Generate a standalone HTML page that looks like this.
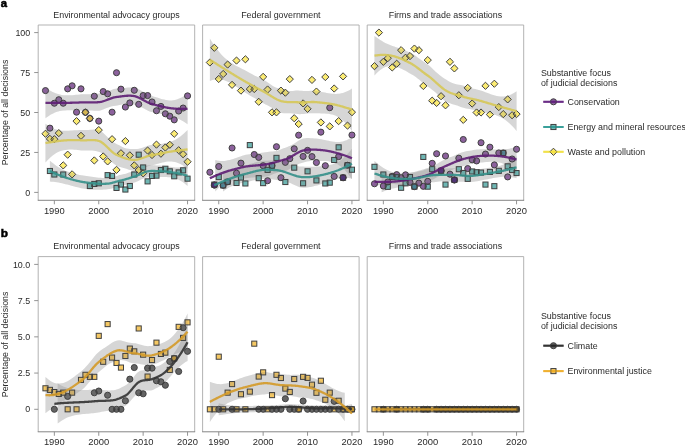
<!DOCTYPE html><html><head><meta charset="utf-8"><style>html,body{margin:0;padding:0;background:#fff;}svg{display:block;will-change:transform;}</style></head><body><svg width="685" height="446" viewBox="0 0 685 446" font-family='"Liberation Sans", sans-serif'>
<rect width="685" height="446" fill="#fff"/>
<defs>
<clipPath id="c025"><rect x="38.2" y="25.0" width="156.5" height="175.3"/></clipPath>
<clipPath id="c0256"><rect x="38.2" y="256.6" width="156.5" height="175.2"/></clipPath>
<clipPath id="c125"><rect x="202.6" y="25.0" width="156.5" height="175.3"/></clipPath>
<clipPath id="c1256"><rect x="202.6" y="256.6" width="156.5" height="175.2"/></clipPath>
<clipPath id="c225"><rect x="367.2" y="25.0" width="156.5" height="175.3"/></clipPath>
<clipPath id="c2256"><rect x="367.2" y="256.6" width="156.5" height="175.2"/></clipPath>
</defs>
<text x="0.8" y="7.2" font-size="11.3" font-weight="bold" fill="#000" stroke="#000" stroke-width="0.55">a</text>
<text x="0.8" y="237.3" font-size="11.8" font-weight="bold" fill="#000" stroke="#000" stroke-width="0.55">b</text>
<text x="116.45" y="17.70" text-anchor="middle" font-size="8.9" fill="#2a2a2a">Environmental advocacy groups</text>
<polygon points="45.47,87.52 47.27,88.80 49.07,89.96 50.87,91.01 52.66,91.95 54.46,92.79 56.26,93.51 58.06,94.11 59.86,94.59 61.66,94.95 63.45,95.18 65.25,95.30 67.05,95.35 68.85,95.33 70.65,95.27 72.45,95.16 74.25,95.02 76.04,94.86 77.84,94.68 79.64,94.50 81.44,94.31 83.24,94.20 85.04,94.18 86.84,94.20 88.63,94.21 90.43,94.20 92.23,94.14 94.03,94.04 95.83,93.90 97.63,93.74 99.42,93.58 101.22,93.35 103.02,93.02 104.82,92.56 106.62,91.98 108.42,91.29 110.22,90.54 112.01,89.78 113.81,89.11 115.61,88.63 117.41,88.40 119.21,88.26 121.01,88.16 122.80,88.05 124.60,87.91 126.40,87.73 128.20,87.54 130.00,87.39 131.80,87.34 133.60,87.47 135.39,87.86 137.19,88.54 138.99,89.42 140.79,90.43 142.59,91.48 144.39,92.53 146.18,93.51 147.98,94.41 149.78,95.19 151.58,95.84 153.38,96.40 155.18,96.96 156.98,97.54 158.77,98.11 160.57,98.66 162.37,99.16 164.17,99.61 165.97,99.98 167.77,100.25 169.57,100.39 171.36,100.38 173.16,100.23 174.96,99.93 176.76,99.47 178.56,98.84 180.36,98.07 182.15,97.14 183.95,96.07 185.75,94.87 187.55,93.54 187.55,124.21 185.75,122.99 183.95,121.84 182.15,120.77 180.36,119.78 178.56,118.88 176.76,118.08 174.96,117.37 173.16,116.75 171.36,116.21 169.57,115.75 167.77,115.33 165.97,114.93 164.17,114.55 162.37,114.17 160.57,113.80 158.77,113.43 156.98,113.06 155.18,112.69 153.38,112.33 151.58,111.97 149.78,111.41 147.98,110.64 146.18,109.73 144.39,108.76 142.59,107.80 140.79,106.90 138.99,106.10 137.19,105.43 135.39,104.90 133.60,104.52 131.80,104.21 130.00,103.98 128.20,103.85 126.40,103.87 124.60,104.04 122.80,104.33 121.01,104.71 119.21,105.10 117.41,105.43 115.61,105.66 113.81,105.95 112.01,106.33 110.22,106.82 108.42,107.42 106.62,108.12 104.82,108.87 103.02,109.60 101.22,110.22 99.42,110.63 97.63,110.78 95.83,110.78 94.03,110.71 92.23,110.61 90.43,110.51 88.63,110.44 86.84,110.41 85.04,110.41 83.24,110.42 81.44,110.44 79.64,110.43 77.84,110.41 76.04,110.38 74.25,110.34 72.45,110.30 70.65,110.27 68.85,110.27 67.05,110.30 65.25,110.39 63.45,110.54 61.66,110.78 59.86,111.11 58.06,111.56 56.26,112.12 54.46,112.81 52.66,113.64 50.87,114.60 49.07,115.70 47.27,116.90 45.47,118.19" fill="#999" fill-opacity="0.25" clip-path="url(#c025)"/>
<polygon points="49.91,160.69 51.65,162.20 53.39,163.60 55.14,164.91 56.88,166.13 58.62,167.25 60.36,168.29 62.11,169.23 63.85,170.10 65.59,170.88 67.33,171.58 69.08,172.22 70.82,172.79 72.56,173.31 74.30,173.78 76.04,174.21 77.79,174.59 79.53,174.94 81.27,175.26 83.01,175.55 84.76,175.81 86.50,176.05 88.24,176.27 89.98,176.47 91.72,176.68 93.47,176.91 95.21,177.16 96.95,177.41 98.69,177.63 100.44,177.81 102.18,177.94 103.92,178.02 105.66,178.02 107.41,177.96 109.15,177.81 110.89,177.56 112.63,177.20 114.37,176.74 116.12,176.20 117.86,175.64 119.60,175.11 121.34,174.69 123.09,174.31 124.83,173.90 126.57,173.41 128.31,172.82 130.05,172.14 131.80,171.44 133.54,170.80 135.28,170.26 137.02,169.69 138.77,169.06 140.51,168.33 142.25,167.52 143.99,166.70 145.74,165.96 147.48,165.45 149.22,165.22 150.96,165.18 152.70,165.23 154.45,165.32 156.19,165.40 157.93,165.48 159.67,165.55 161.42,165.65 163.16,165.81 164.90,166.03 166.64,166.29 168.38,166.57 170.13,166.86 171.87,167.12 173.61,167.34 175.35,167.47 177.10,167.51 178.84,167.43 180.58,167.23 182.32,166.92 184.07,166.48 185.81,165.95 187.55,165.32 187.55,186.10 185.81,184.50 184.07,183.05 182.32,181.77 180.58,180.66 178.84,179.72 177.10,178.96 175.35,178.37 173.61,177.93 171.87,177.60 170.13,177.35 168.38,177.16 166.64,177.03 164.90,176.95 163.16,176.92 161.42,176.94 159.67,176.95 157.93,176.87 156.19,176.75 154.45,176.68 152.70,176.70 150.96,176.83 149.22,177.06 147.48,177.37 145.74,177.76 143.99,178.28 142.25,178.94 140.51,179.76 138.77,180.67 137.02,181.58 135.28,182.34 133.54,182.86 131.80,183.26 130.05,183.65 128.31,184.08 126.57,184.58 124.83,185.12 123.09,185.65 121.34,186.09 119.60,186.44 117.86,186.83 116.12,187.27 114.37,187.75 112.63,188.24 110.89,188.72 109.15,189.11 107.41,189.34 105.66,189.48 103.92,189.59 102.18,189.66 100.44,189.72 98.69,189.76 96.95,189.77 95.21,189.76 93.47,189.71 91.72,189.62 89.98,189.48 88.24,189.29 86.50,189.06 84.76,188.79 83.01,188.48 81.27,188.13 79.53,187.76 77.79,187.35 76.04,186.92 74.30,186.47 72.56,186.01 70.82,185.54 69.08,185.07 67.33,184.61 65.59,184.16 63.85,183.73 62.11,183.32 60.36,182.95 58.62,182.61 56.88,182.32 55.14,182.06 53.39,181.85 51.65,181.68 49.91,181.55" fill="#999" fill-opacity="0.25" clip-path="url(#c025)"/>
<polygon points="45.47,123.72 47.27,125.01 49.07,126.21 50.87,127.28 52.66,128.22 54.46,128.99 56.26,129.61 58.06,130.09 59.86,130.44 61.66,130.67 63.45,130.80 65.25,130.83 67.05,130.80 68.85,130.71 70.65,130.60 72.45,130.47 74.25,130.35 76.04,130.25 77.84,130.16 79.64,130.12 81.44,130.11 83.24,130.11 85.04,130.07 86.84,130.01 88.63,129.91 90.43,129.79 92.23,129.68 94.03,129.61 95.83,129.65 97.63,129.87 99.42,130.37 101.22,131.39 103.02,132.82 104.82,134.52 106.62,136.32 108.42,138.10 110.22,139.77 112.01,141.26 113.81,142.55 115.61,143.60 117.41,144.45 119.21,145.36 121.01,146.29 122.80,147.16 124.60,147.89 126.40,148.45 128.20,148.81 130.00,149.01 131.80,149.09 133.60,149.10 135.39,149.07 137.19,148.92 138.99,148.64 140.79,148.24 142.59,147.71 144.39,147.10 146.18,146.45 147.98,145.82 149.78,145.30 151.58,144.97 153.38,144.80 155.18,144.63 156.98,144.42 158.77,144.19 160.57,143.94 162.37,143.65 164.17,143.33 165.97,142.97 167.77,142.55 169.57,142.06 171.36,141.48 173.16,140.78 174.96,139.94 176.76,138.95 178.56,137.82 180.36,136.54 182.15,135.12 183.95,133.56 185.75,131.87 187.55,130.06 187.55,168.79 185.75,167.38 183.95,166.09 182.15,164.95 180.36,163.96 178.56,163.13 176.76,162.46 174.96,161.96 173.16,161.64 171.36,161.47 169.57,161.46 167.77,161.60 165.97,161.85 164.17,162.19 162.37,162.61 160.57,163.06 158.77,163.54 156.98,164.02 155.18,164.49 153.38,164.93 151.58,165.33 149.78,165.79 147.98,166.32 146.18,166.92 144.39,167.60 142.59,168.31 140.79,169.03 138.99,169.70 137.19,170.25 135.39,170.59 133.60,170.63 131.80,170.39 130.00,169.96 128.20,169.41 126.40,168.83 124.60,168.26 122.80,167.72 121.01,167.19 119.21,166.63 117.41,165.97 115.61,165.12 113.81,163.81 112.01,162.16 110.22,160.33 108.42,158.47 106.62,156.70 104.82,155.12 103.02,153.77 101.22,152.69 99.42,151.91 97.63,151.38 95.83,150.97 94.03,150.66 92.23,150.47 90.43,150.39 88.63,150.41 86.84,150.49 85.04,150.57 83.24,150.59 81.44,150.48 79.64,150.25 77.84,150.03 76.04,149.84 74.25,149.70 72.45,149.60 70.65,149.55 68.85,149.58 67.05,149.68 65.25,149.88 63.45,150.20 61.66,150.67 59.86,151.30 58.06,152.12 56.26,153.11 54.46,154.28 52.66,155.60 50.87,157.07 49.07,158.71 47.27,160.50 45.47,162.46" fill="#999" fill-opacity="0.25" clip-path="url(#c025)"/>
<circle cx="45.47" cy="90.61" r="3.05" fill="#4e0c68" fill-opacity="0.65"/>
<circle cx="49.91" cy="128.16" r="3.05" fill="#4e0c68" fill-opacity="0.65"/>
<circle cx="54.35" cy="103.23" r="3.05" fill="#4e0c68" fill-opacity="0.65"/>
<circle cx="58.79" cy="99.72" r="3.05" fill="#4e0c68" fill-opacity="0.65"/>
<circle cx="63.23" cy="103.23" r="3.05" fill="#4e0c68" fill-opacity="0.65"/>
<circle cx="67.67" cy="88.85" r="3.05" fill="#4e0c68" fill-opacity="0.65"/>
<circle cx="72.11" cy="85.81" r="3.05" fill="#4e0c68" fill-opacity="0.65"/>
<circle cx="76.55" cy="112.18" r="3.05" fill="#4e0c68" fill-opacity="0.65"/>
<circle cx="80.99" cy="88.85" r="3.05" fill="#4e0c68" fill-opacity="0.65"/>
<circle cx="85.43" cy="112.34" r="3.05" fill="#4e0c68" fill-opacity="0.65"/>
<circle cx="89.87" cy="118.41" r="3.05" fill="#4e0c68" fill-opacity="0.65"/>
<circle cx="94.31" cy="96.20" r="3.05" fill="#4e0c68" fill-opacity="0.65"/>
<circle cx="98.75" cy="121.13" r="3.05" fill="#4e0c68" fill-opacity="0.65"/>
<circle cx="103.19" cy="91.57" r="3.05" fill="#4e0c68" fill-opacity="0.65"/>
<circle cx="107.63" cy="93.80" r="3.05" fill="#4e0c68" fill-opacity="0.65"/>
<circle cx="112.07" cy="112.18" r="3.05" fill="#4e0c68" fill-opacity="0.65"/>
<circle cx="116.51" cy="72.71" r="3.05" fill="#4e0c68" fill-opacity="0.65"/>
<circle cx="120.95" cy="89.17" r="3.05" fill="#4e0c68" fill-opacity="0.65"/>
<circle cx="125.39" cy="107.07" r="3.05" fill="#4e0c68" fill-opacity="0.65"/>
<circle cx="129.83" cy="102.91" r="3.05" fill="#4e0c68" fill-opacity="0.65"/>
<circle cx="134.27" cy="90.29" r="3.05" fill="#4e0c68" fill-opacity="0.65"/>
<circle cx="138.71" cy="104.35" r="3.05" fill="#4e0c68" fill-opacity="0.65"/>
<circle cx="143.15" cy="95.56" r="3.05" fill="#4e0c68" fill-opacity="0.65"/>
<circle cx="147.59" cy="95.56" r="3.05" fill="#4e0c68" fill-opacity="0.65"/>
<circle cx="152.03" cy="101.95" r="3.05" fill="#4e0c68" fill-opacity="0.65"/>
<circle cx="156.47" cy="110.74" r="3.05" fill="#4e0c68" fill-opacity="0.65"/>
<circle cx="160.91" cy="106.43" r="3.05" fill="#4e0c68" fill-opacity="0.65"/>
<circle cx="165.35" cy="113.78" r="3.05" fill="#4e0c68" fill-opacity="0.65"/>
<circle cx="169.79" cy="116.18" r="3.05" fill="#4e0c68" fill-opacity="0.65"/>
<circle cx="174.23" cy="119.85" r="3.05" fill="#4e0c68" fill-opacity="0.65"/>
<circle cx="178.67" cy="111.06" r="3.05" fill="#4e0c68" fill-opacity="0.65"/>
<circle cx="183.11" cy="108.03" r="3.05" fill="#4e0c68" fill-opacity="0.65"/>
<circle cx="187.55" cy="95.88" r="3.05" fill="#4e0c68" fill-opacity="0.65"/>
<rect x="47.36" y="168.44" width="5.10" height="5.10" fill="#21908c" fill-opacity="0.65"/>
<rect x="51.80" y="171.95" width="5.10" height="5.10" fill="#21908c" fill-opacity="0.65"/>
<rect x="60.68" y="171.95" width="5.10" height="5.10" fill="#21908c" fill-opacity="0.65"/>
<rect x="87.32" y="183.46" width="5.10" height="5.10" fill="#21908c" fill-opacity="0.65"/>
<rect x="91.76" y="181.38" width="5.10" height="5.10" fill="#21908c" fill-opacity="0.65"/>
<rect x="96.20" y="180.74" width="5.10" height="5.10" fill="#21908c" fill-opacity="0.65"/>
<rect x="105.08" y="172.59" width="5.10" height="5.10" fill="#21908c" fill-opacity="0.65"/>
<rect x="109.52" y="173.39" width="5.10" height="5.10" fill="#21908c" fill-opacity="0.65"/>
<rect x="113.96" y="185.38" width="5.10" height="5.10" fill="#21908c" fill-opacity="0.65"/>
<rect x="118.40" y="182.02" width="5.10" height="5.10" fill="#21908c" fill-opacity="0.65"/>
<rect x="122.84" y="186.97" width="5.10" height="5.10" fill="#21908c" fill-opacity="0.65"/>
<rect x="127.28" y="183.46" width="5.10" height="5.10" fill="#21908c" fill-opacity="0.65"/>
<rect x="131.72" y="171.95" width="5.10" height="5.10" fill="#21908c" fill-opacity="0.65"/>
<rect x="136.16" y="152.14" width="5.10" height="5.10" fill="#21908c" fill-opacity="0.65"/>
<rect x="140.60" y="164.92" width="5.10" height="5.10" fill="#21908c" fill-opacity="0.65"/>
<rect x="145.04" y="178.82" width="5.10" height="5.10" fill="#21908c" fill-opacity="0.65"/>
<rect x="149.48" y="173.39" width="5.10" height="5.10" fill="#21908c" fill-opacity="0.65"/>
<rect x="153.92" y="173.07" width="5.10" height="5.10" fill="#21908c" fill-opacity="0.65"/>
<rect x="158.36" y="167.48" width="5.10" height="5.10" fill="#21908c" fill-opacity="0.65"/>
<rect x="162.80" y="166.20" width="5.10" height="5.10" fill="#21908c" fill-opacity="0.65"/>
<rect x="167.24" y="168.76" width="5.10" height="5.10" fill="#21908c" fill-opacity="0.65"/>
<rect x="171.68" y="173.71" width="5.10" height="5.10" fill="#21908c" fill-opacity="0.65"/>
<rect x="176.12" y="169.88" width="5.10" height="5.10" fill="#21908c" fill-opacity="0.65"/>
<rect x="180.56" y="167.80" width="5.10" height="5.10" fill="#21908c" fill-opacity="0.65"/>
<rect x="185.00" y="176.11" width="5.10" height="5.10" fill="#21908c" fill-opacity="0.65"/>
<path d="M45.47 130.15L49.07 133.75L45.47 137.35L41.87 133.75Z" fill="#fae228" fill-opacity="0.65"/>
<path d="M49.91 135.27L53.51 138.87L49.91 142.47L46.31 138.87Z" fill="#fae228" fill-opacity="0.65"/>
<path d="M54.35 135.59L57.95 139.19L54.35 142.79L50.75 139.19Z" fill="#fae228" fill-opacity="0.65"/>
<path d="M58.79 129.51L62.39 133.11L58.79 136.71L55.19 133.11Z" fill="#fae228" fill-opacity="0.65"/>
<path d="M63.23 161.79L66.83 165.39L63.23 168.99L59.63 165.39Z" fill="#fae228" fill-opacity="0.65"/>
<path d="M67.67 151.09L71.27 154.69L67.67 158.29L64.07 154.69Z" fill="#fae228" fill-opacity="0.65"/>
<path d="M72.11 170.74L75.71 174.34L72.11 177.94L68.51 174.34Z" fill="#fae228" fill-opacity="0.65"/>
<path d="M76.55 117.53L80.15 121.13L76.55 124.73L72.95 121.13Z" fill="#fae228" fill-opacity="0.65"/>
<path d="M80.99 132.23L84.59 135.83L80.99 139.43L77.39 135.83Z" fill="#fae228" fill-opacity="0.65"/>
<path d="M85.43 108.74L89.03 112.34L85.43 115.94L81.83 112.34Z" fill="#fae228" fill-opacity="0.65"/>
<path d="M89.87 114.81L93.47 118.41L89.87 122.01L86.27 118.41Z" fill="#fae228" fill-opacity="0.65"/>
<path d="M94.31 156.84L97.91 160.44L94.31 164.04L90.71 160.44Z" fill="#fae228" fill-opacity="0.65"/>
<path d="M98.75 126.48L102.35 130.08L98.75 133.68L95.15 130.08Z" fill="#fae228" fill-opacity="0.65"/>
<path d="M103.19 152.84L106.79 156.44L103.19 160.04L99.59 156.44Z" fill="#fae228" fill-opacity="0.65"/>
<path d="M107.63 157.80L111.23 161.40L107.63 165.00L104.03 161.40Z" fill="#fae228" fill-opacity="0.65"/>
<path d="M112.07 135.59L115.67 139.19L112.07 142.79L108.47 139.19Z" fill="#fae228" fill-opacity="0.65"/>
<path d="M116.51 166.27L120.11 169.87L116.51 173.47L112.91 169.87Z" fill="#fae228" fill-opacity="0.65"/>
<path d="M120.95 149.65L124.55 153.25L120.95 156.85L117.35 153.25Z" fill="#fae228" fill-opacity="0.65"/>
<path d="M125.39 137.50L128.99 141.10L125.39 144.70L121.79 141.10Z" fill="#fae228" fill-opacity="0.65"/>
<path d="M129.83 151.73L133.43 155.33L129.83 158.93L126.23 155.33Z" fill="#fae228" fill-opacity="0.65"/>
<path d="M134.27 161.79L137.87 165.39L134.27 168.99L130.67 165.39Z" fill="#fae228" fill-opacity="0.65"/>
<path d="M138.71 166.43L142.31 170.03L138.71 173.63L135.11 170.03Z" fill="#fae228" fill-opacity="0.65"/>
<path d="M143.15 169.78L146.75 173.38L143.15 176.98L139.55 173.38Z" fill="#fae228" fill-opacity="0.65"/>
<path d="M147.59 146.93L151.19 150.53L147.59 154.13L143.99 150.53Z" fill="#fae228" fill-opacity="0.65"/>
<path d="M152.03 151.41L155.63 155.01L152.03 158.61L148.43 155.01Z" fill="#fae228" fill-opacity="0.65"/>
<path d="M156.47 141.02L160.07 144.62L156.47 148.22L152.87 144.62Z" fill="#fae228" fill-opacity="0.65"/>
<path d="M160.91 150.13L164.51 153.73L160.91 157.33L157.31 153.73Z" fill="#fae228" fill-opacity="0.65"/>
<path d="M165.35 143.90L168.95 147.50L165.35 151.10L161.75 147.50Z" fill="#fae228" fill-opacity="0.65"/>
<path d="M169.79 141.18L173.39 144.78L169.79 148.38L166.19 144.78Z" fill="#fae228" fill-opacity="0.65"/>
<path d="M174.23 130.15L177.83 133.75L174.23 137.35L170.63 133.75Z" fill="#fae228" fill-opacity="0.65"/>
<path d="M178.67 146.61L182.27 150.21L178.67 153.81L175.07 150.21Z" fill="#fae228" fill-opacity="0.65"/>
<path d="M183.11 150.61L186.71 154.21L183.11 157.81L179.51 154.21Z" fill="#fae228" fill-opacity="0.65"/>
<path d="M187.55 158.12L191.15 161.72L187.55 165.32L183.95 161.72Z" fill="#fae228" fill-opacity="0.65"/>
<polygon points="45.47,87.52 47.27,88.80 49.07,89.96 50.87,91.01 52.66,91.95 54.46,92.79 56.26,93.51 58.06,94.11 59.86,94.59 61.66,94.95 63.45,95.18 65.25,95.30 67.05,95.35 68.85,95.33 70.65,95.27 72.45,95.16 74.25,95.02 76.04,94.86 77.84,94.68 79.64,94.50 81.44,94.31 83.24,94.20 85.04,94.18 86.84,94.20 88.63,94.21 90.43,94.20 92.23,94.14 94.03,94.04 95.83,93.90 97.63,93.74 99.42,93.58 101.22,93.35 103.02,93.02 104.82,92.56 106.62,91.98 108.42,91.29 110.22,90.54 112.01,89.78 113.81,89.11 115.61,88.63 117.41,88.40 119.21,88.26 121.01,88.16 122.80,88.05 124.60,87.91 126.40,87.73 128.20,87.54 130.00,87.39 131.80,87.34 133.60,87.47 135.39,87.86 137.19,88.54 138.99,89.42 140.79,90.43 142.59,91.48 144.39,92.53 146.18,93.51 147.98,94.41 149.78,95.19 151.58,95.84 153.38,96.40 155.18,96.96 156.98,97.54 158.77,98.11 160.57,98.66 162.37,99.16 164.17,99.61 165.97,99.98 167.77,100.25 169.57,100.39 171.36,100.38 173.16,100.23 174.96,99.93 176.76,99.47 178.56,98.84 180.36,98.07 182.15,97.14 183.95,96.07 185.75,94.87 187.55,93.54 187.55,124.21 185.75,122.99 183.95,121.84 182.15,120.77 180.36,119.78 178.56,118.88 176.76,118.08 174.96,117.37 173.16,116.75 171.36,116.21 169.57,115.75 167.77,115.33 165.97,114.93 164.17,114.55 162.37,114.17 160.57,113.80 158.77,113.43 156.98,113.06 155.18,112.69 153.38,112.33 151.58,111.97 149.78,111.41 147.98,110.64 146.18,109.73 144.39,108.76 142.59,107.80 140.79,106.90 138.99,106.10 137.19,105.43 135.39,104.90 133.60,104.52 131.80,104.21 130.00,103.98 128.20,103.85 126.40,103.87 124.60,104.04 122.80,104.33 121.01,104.71 119.21,105.10 117.41,105.43 115.61,105.66 113.81,105.95 112.01,106.33 110.22,106.82 108.42,107.42 106.62,108.12 104.82,108.87 103.02,109.60 101.22,110.22 99.42,110.63 97.63,110.78 95.83,110.78 94.03,110.71 92.23,110.61 90.43,110.51 88.63,110.44 86.84,110.41 85.04,110.41 83.24,110.42 81.44,110.44 79.64,110.43 77.84,110.41 76.04,110.38 74.25,110.34 72.45,110.30 70.65,110.27 68.85,110.27 67.05,110.30 65.25,110.39 63.45,110.54 61.66,110.78 59.86,111.11 58.06,111.56 56.26,112.12 54.46,112.81 52.66,113.64 50.87,114.60 49.07,115.70 47.27,116.90 45.47,118.19" fill="#999" fill-opacity="0.2" clip-path="url(#c025)"/>
<polygon points="49.91,160.69 51.65,162.20 53.39,163.60 55.14,164.91 56.88,166.13 58.62,167.25 60.36,168.29 62.11,169.23 63.85,170.10 65.59,170.88 67.33,171.58 69.08,172.22 70.82,172.79 72.56,173.31 74.30,173.78 76.04,174.21 77.79,174.59 79.53,174.94 81.27,175.26 83.01,175.55 84.76,175.81 86.50,176.05 88.24,176.27 89.98,176.47 91.72,176.68 93.47,176.91 95.21,177.16 96.95,177.41 98.69,177.63 100.44,177.81 102.18,177.94 103.92,178.02 105.66,178.02 107.41,177.96 109.15,177.81 110.89,177.56 112.63,177.20 114.37,176.74 116.12,176.20 117.86,175.64 119.60,175.11 121.34,174.69 123.09,174.31 124.83,173.90 126.57,173.41 128.31,172.82 130.05,172.14 131.80,171.44 133.54,170.80 135.28,170.26 137.02,169.69 138.77,169.06 140.51,168.33 142.25,167.52 143.99,166.70 145.74,165.96 147.48,165.45 149.22,165.22 150.96,165.18 152.70,165.23 154.45,165.32 156.19,165.40 157.93,165.48 159.67,165.55 161.42,165.65 163.16,165.81 164.90,166.03 166.64,166.29 168.38,166.57 170.13,166.86 171.87,167.12 173.61,167.34 175.35,167.47 177.10,167.51 178.84,167.43 180.58,167.23 182.32,166.92 184.07,166.48 185.81,165.95 187.55,165.32 187.55,186.10 185.81,184.50 184.07,183.05 182.32,181.77 180.58,180.66 178.84,179.72 177.10,178.96 175.35,178.37 173.61,177.93 171.87,177.60 170.13,177.35 168.38,177.16 166.64,177.03 164.90,176.95 163.16,176.92 161.42,176.94 159.67,176.95 157.93,176.87 156.19,176.75 154.45,176.68 152.70,176.70 150.96,176.83 149.22,177.06 147.48,177.37 145.74,177.76 143.99,178.28 142.25,178.94 140.51,179.76 138.77,180.67 137.02,181.58 135.28,182.34 133.54,182.86 131.80,183.26 130.05,183.65 128.31,184.08 126.57,184.58 124.83,185.12 123.09,185.65 121.34,186.09 119.60,186.44 117.86,186.83 116.12,187.27 114.37,187.75 112.63,188.24 110.89,188.72 109.15,189.11 107.41,189.34 105.66,189.48 103.92,189.59 102.18,189.66 100.44,189.72 98.69,189.76 96.95,189.77 95.21,189.76 93.47,189.71 91.72,189.62 89.98,189.48 88.24,189.29 86.50,189.06 84.76,188.79 83.01,188.48 81.27,188.13 79.53,187.76 77.79,187.35 76.04,186.92 74.30,186.47 72.56,186.01 70.82,185.54 69.08,185.07 67.33,184.61 65.59,184.16 63.85,183.73 62.11,183.32 60.36,182.95 58.62,182.61 56.88,182.32 55.14,182.06 53.39,181.85 51.65,181.68 49.91,181.55" fill="#999" fill-opacity="0.2" clip-path="url(#c025)"/>
<polygon points="45.47,123.72 47.27,125.01 49.07,126.21 50.87,127.28 52.66,128.22 54.46,128.99 56.26,129.61 58.06,130.09 59.86,130.44 61.66,130.67 63.45,130.80 65.25,130.83 67.05,130.80 68.85,130.71 70.65,130.60 72.45,130.47 74.25,130.35 76.04,130.25 77.84,130.16 79.64,130.12 81.44,130.11 83.24,130.11 85.04,130.07 86.84,130.01 88.63,129.91 90.43,129.79 92.23,129.68 94.03,129.61 95.83,129.65 97.63,129.87 99.42,130.37 101.22,131.39 103.02,132.82 104.82,134.52 106.62,136.32 108.42,138.10 110.22,139.77 112.01,141.26 113.81,142.55 115.61,143.60 117.41,144.45 119.21,145.36 121.01,146.29 122.80,147.16 124.60,147.89 126.40,148.45 128.20,148.81 130.00,149.01 131.80,149.09 133.60,149.10 135.39,149.07 137.19,148.92 138.99,148.64 140.79,148.24 142.59,147.71 144.39,147.10 146.18,146.45 147.98,145.82 149.78,145.30 151.58,144.97 153.38,144.80 155.18,144.63 156.98,144.42 158.77,144.19 160.57,143.94 162.37,143.65 164.17,143.33 165.97,142.97 167.77,142.55 169.57,142.06 171.36,141.48 173.16,140.78 174.96,139.94 176.76,138.95 178.56,137.82 180.36,136.54 182.15,135.12 183.95,133.56 185.75,131.87 187.55,130.06 187.55,168.79 185.75,167.38 183.95,166.09 182.15,164.95 180.36,163.96 178.56,163.13 176.76,162.46 174.96,161.96 173.16,161.64 171.36,161.47 169.57,161.46 167.77,161.60 165.97,161.85 164.17,162.19 162.37,162.61 160.57,163.06 158.77,163.54 156.98,164.02 155.18,164.49 153.38,164.93 151.58,165.33 149.78,165.79 147.98,166.32 146.18,166.92 144.39,167.60 142.59,168.31 140.79,169.03 138.99,169.70 137.19,170.25 135.39,170.59 133.60,170.63 131.80,170.39 130.00,169.96 128.20,169.41 126.40,168.83 124.60,168.26 122.80,167.72 121.01,167.19 119.21,166.63 117.41,165.97 115.61,165.12 113.81,163.81 112.01,162.16 110.22,160.33 108.42,158.47 106.62,156.70 104.82,155.12 103.02,153.77 101.22,152.69 99.42,151.91 97.63,151.38 95.83,150.97 94.03,150.66 92.23,150.47 90.43,150.39 88.63,150.41 86.84,150.49 85.04,150.57 83.24,150.59 81.44,150.48 79.64,150.25 77.84,150.03 76.04,149.84 74.25,149.70 72.45,149.60 70.65,149.55 68.85,149.58 67.05,149.68 65.25,149.88 63.45,150.20 61.66,150.67 59.86,151.30 58.06,152.12 56.26,153.11 54.46,154.28 52.66,155.60 50.87,157.07 49.07,158.71 47.27,160.50 45.47,162.46" fill="#999" fill-opacity="0.2" clip-path="url(#c025)"/>
<circle cx="45.47" cy="90.61" r="3.05" fill="none" stroke="#404040" stroke-width="1.0"/>
<circle cx="49.91" cy="128.16" r="3.05" fill="none" stroke="#404040" stroke-width="1.0"/>
<circle cx="54.35" cy="103.23" r="3.05" fill="none" stroke="#404040" stroke-width="1.0"/>
<circle cx="58.79" cy="99.72" r="3.05" fill="none" stroke="#404040" stroke-width="1.0"/>
<circle cx="63.23" cy="103.23" r="3.05" fill="none" stroke="#404040" stroke-width="1.0"/>
<circle cx="67.67" cy="88.85" r="3.05" fill="none" stroke="#404040" stroke-width="1.0"/>
<circle cx="72.11" cy="85.81" r="3.05" fill="none" stroke="#404040" stroke-width="1.0"/>
<circle cx="76.55" cy="112.18" r="3.05" fill="none" stroke="#404040" stroke-width="1.0"/>
<circle cx="80.99" cy="88.85" r="3.05" fill="none" stroke="#404040" stroke-width="1.0"/>
<circle cx="85.43" cy="112.34" r="3.05" fill="none" stroke="#404040" stroke-width="1.0"/>
<circle cx="89.87" cy="118.41" r="3.05" fill="none" stroke="#404040" stroke-width="1.0"/>
<circle cx="94.31" cy="96.20" r="3.05" fill="none" stroke="#404040" stroke-width="1.0"/>
<circle cx="98.75" cy="121.13" r="3.05" fill="none" stroke="#404040" stroke-width="1.0"/>
<circle cx="103.19" cy="91.57" r="3.05" fill="none" stroke="#404040" stroke-width="1.0"/>
<circle cx="107.63" cy="93.80" r="3.05" fill="none" stroke="#404040" stroke-width="1.0"/>
<circle cx="112.07" cy="112.18" r="3.05" fill="none" stroke="#404040" stroke-width="1.0"/>
<circle cx="116.51" cy="72.71" r="3.05" fill="none" stroke="#404040" stroke-width="1.0"/>
<circle cx="120.95" cy="89.17" r="3.05" fill="none" stroke="#404040" stroke-width="1.0"/>
<circle cx="125.39" cy="107.07" r="3.05" fill="none" stroke="#404040" stroke-width="1.0"/>
<circle cx="129.83" cy="102.91" r="3.05" fill="none" stroke="#404040" stroke-width="1.0"/>
<circle cx="134.27" cy="90.29" r="3.05" fill="none" stroke="#404040" stroke-width="1.0"/>
<circle cx="138.71" cy="104.35" r="3.05" fill="none" stroke="#404040" stroke-width="1.0"/>
<circle cx="143.15" cy="95.56" r="3.05" fill="none" stroke="#404040" stroke-width="1.0"/>
<circle cx="147.59" cy="95.56" r="3.05" fill="none" stroke="#404040" stroke-width="1.0"/>
<circle cx="152.03" cy="101.95" r="3.05" fill="none" stroke="#404040" stroke-width="1.0"/>
<circle cx="156.47" cy="110.74" r="3.05" fill="none" stroke="#404040" stroke-width="1.0"/>
<circle cx="160.91" cy="106.43" r="3.05" fill="none" stroke="#404040" stroke-width="1.0"/>
<circle cx="165.35" cy="113.78" r="3.05" fill="none" stroke="#404040" stroke-width="1.0"/>
<circle cx="169.79" cy="116.18" r="3.05" fill="none" stroke="#404040" stroke-width="1.0"/>
<circle cx="174.23" cy="119.85" r="3.05" fill="none" stroke="#404040" stroke-width="1.0"/>
<circle cx="178.67" cy="111.06" r="3.05" fill="none" stroke="#404040" stroke-width="1.0"/>
<circle cx="183.11" cy="108.03" r="3.05" fill="none" stroke="#404040" stroke-width="1.0"/>
<circle cx="187.55" cy="95.88" r="3.05" fill="none" stroke="#404040" stroke-width="1.0"/>
<rect x="47.36" y="168.44" width="5.10" height="5.10" fill="none" stroke="#404040" stroke-width="1.0"/>
<rect x="51.80" y="171.95" width="5.10" height="5.10" fill="none" stroke="#404040" stroke-width="1.0"/>
<rect x="60.68" y="171.95" width="5.10" height="5.10" fill="none" stroke="#404040" stroke-width="1.0"/>
<rect x="87.32" y="183.46" width="5.10" height="5.10" fill="none" stroke="#404040" stroke-width="1.0"/>
<rect x="91.76" y="181.38" width="5.10" height="5.10" fill="none" stroke="#404040" stroke-width="1.0"/>
<rect x="96.20" y="180.74" width="5.10" height="5.10" fill="none" stroke="#404040" stroke-width="1.0"/>
<rect x="105.08" y="172.59" width="5.10" height="5.10" fill="none" stroke="#404040" stroke-width="1.0"/>
<rect x="109.52" y="173.39" width="5.10" height="5.10" fill="none" stroke="#404040" stroke-width="1.0"/>
<rect x="113.96" y="185.38" width="5.10" height="5.10" fill="none" stroke="#404040" stroke-width="1.0"/>
<rect x="118.40" y="182.02" width="5.10" height="5.10" fill="none" stroke="#404040" stroke-width="1.0"/>
<rect x="122.84" y="186.97" width="5.10" height="5.10" fill="none" stroke="#404040" stroke-width="1.0"/>
<rect x="127.28" y="183.46" width="5.10" height="5.10" fill="none" stroke="#404040" stroke-width="1.0"/>
<rect x="131.72" y="171.95" width="5.10" height="5.10" fill="none" stroke="#404040" stroke-width="1.0"/>
<rect x="136.16" y="152.14" width="5.10" height="5.10" fill="none" stroke="#404040" stroke-width="1.0"/>
<rect x="140.60" y="164.92" width="5.10" height="5.10" fill="none" stroke="#404040" stroke-width="1.0"/>
<rect x="145.04" y="178.82" width="5.10" height="5.10" fill="none" stroke="#404040" stroke-width="1.0"/>
<rect x="149.48" y="173.39" width="5.10" height="5.10" fill="none" stroke="#404040" stroke-width="1.0"/>
<rect x="153.92" y="173.07" width="5.10" height="5.10" fill="none" stroke="#404040" stroke-width="1.0"/>
<rect x="158.36" y="167.48" width="5.10" height="5.10" fill="none" stroke="#404040" stroke-width="1.0"/>
<rect x="162.80" y="166.20" width="5.10" height="5.10" fill="none" stroke="#404040" stroke-width="1.0"/>
<rect x="167.24" y="168.76" width="5.10" height="5.10" fill="none" stroke="#404040" stroke-width="1.0"/>
<rect x="171.68" y="173.71" width="5.10" height="5.10" fill="none" stroke="#404040" stroke-width="1.0"/>
<rect x="176.12" y="169.88" width="5.10" height="5.10" fill="none" stroke="#404040" stroke-width="1.0"/>
<rect x="180.56" y="167.80" width="5.10" height="5.10" fill="none" stroke="#404040" stroke-width="1.0"/>
<rect x="185.00" y="176.11" width="5.10" height="5.10" fill="none" stroke="#404040" stroke-width="1.0"/>
<path d="M45.47 130.15L49.07 133.75L45.47 137.35L41.87 133.75Z" fill="none" stroke="#404040" stroke-width="1.0"/>
<path d="M49.91 135.27L53.51 138.87L49.91 142.47L46.31 138.87Z" fill="none" stroke="#404040" stroke-width="1.0"/>
<path d="M54.35 135.59L57.95 139.19L54.35 142.79L50.75 139.19Z" fill="none" stroke="#404040" stroke-width="1.0"/>
<path d="M58.79 129.51L62.39 133.11L58.79 136.71L55.19 133.11Z" fill="none" stroke="#404040" stroke-width="1.0"/>
<path d="M63.23 161.79L66.83 165.39L63.23 168.99L59.63 165.39Z" fill="none" stroke="#404040" stroke-width="1.0"/>
<path d="M67.67 151.09L71.27 154.69L67.67 158.29L64.07 154.69Z" fill="none" stroke="#404040" stroke-width="1.0"/>
<path d="M72.11 170.74L75.71 174.34L72.11 177.94L68.51 174.34Z" fill="none" stroke="#404040" stroke-width="1.0"/>
<path d="M76.55 117.53L80.15 121.13L76.55 124.73L72.95 121.13Z" fill="none" stroke="#404040" stroke-width="1.0"/>
<path d="M80.99 132.23L84.59 135.83L80.99 139.43L77.39 135.83Z" fill="none" stroke="#404040" stroke-width="1.0"/>
<path d="M85.43 108.74L89.03 112.34L85.43 115.94L81.83 112.34Z" fill="none" stroke="#404040" stroke-width="1.0"/>
<path d="M89.87 114.81L93.47 118.41L89.87 122.01L86.27 118.41Z" fill="none" stroke="#404040" stroke-width="1.0"/>
<path d="M94.31 156.84L97.91 160.44L94.31 164.04L90.71 160.44Z" fill="none" stroke="#404040" stroke-width="1.0"/>
<path d="M98.75 126.48L102.35 130.08L98.75 133.68L95.15 130.08Z" fill="none" stroke="#404040" stroke-width="1.0"/>
<path d="M103.19 152.84L106.79 156.44L103.19 160.04L99.59 156.44Z" fill="none" stroke="#404040" stroke-width="1.0"/>
<path d="M107.63 157.80L111.23 161.40L107.63 165.00L104.03 161.40Z" fill="none" stroke="#404040" stroke-width="1.0"/>
<path d="M112.07 135.59L115.67 139.19L112.07 142.79L108.47 139.19Z" fill="none" stroke="#404040" stroke-width="1.0"/>
<path d="M116.51 166.27L120.11 169.87L116.51 173.47L112.91 169.87Z" fill="none" stroke="#404040" stroke-width="1.0"/>
<path d="M120.95 149.65L124.55 153.25L120.95 156.85L117.35 153.25Z" fill="none" stroke="#404040" stroke-width="1.0"/>
<path d="M125.39 137.50L128.99 141.10L125.39 144.70L121.79 141.10Z" fill="none" stroke="#404040" stroke-width="1.0"/>
<path d="M129.83 151.73L133.43 155.33L129.83 158.93L126.23 155.33Z" fill="none" stroke="#404040" stroke-width="1.0"/>
<path d="M134.27 161.79L137.87 165.39L134.27 168.99L130.67 165.39Z" fill="none" stroke="#404040" stroke-width="1.0"/>
<path d="M138.71 166.43L142.31 170.03L138.71 173.63L135.11 170.03Z" fill="none" stroke="#404040" stroke-width="1.0"/>
<path d="M143.15 169.78L146.75 173.38L143.15 176.98L139.55 173.38Z" fill="none" stroke="#404040" stroke-width="1.0"/>
<path d="M147.59 146.93L151.19 150.53L147.59 154.13L143.99 150.53Z" fill="none" stroke="#404040" stroke-width="1.0"/>
<path d="M152.03 151.41L155.63 155.01L152.03 158.61L148.43 155.01Z" fill="none" stroke="#404040" stroke-width="1.0"/>
<path d="M156.47 141.02L160.07 144.62L156.47 148.22L152.87 144.62Z" fill="none" stroke="#404040" stroke-width="1.0"/>
<path d="M160.91 150.13L164.51 153.73L160.91 157.33L157.31 153.73Z" fill="none" stroke="#404040" stroke-width="1.0"/>
<path d="M165.35 143.90L168.95 147.50L165.35 151.10L161.75 147.50Z" fill="none" stroke="#404040" stroke-width="1.0"/>
<path d="M169.79 141.18L173.39 144.78L169.79 148.38L166.19 144.78Z" fill="none" stroke="#404040" stroke-width="1.0"/>
<path d="M174.23 130.15L177.83 133.75L174.23 137.35L170.63 133.75Z" fill="none" stroke="#404040" stroke-width="1.0"/>
<path d="M178.67 146.61L182.27 150.21L178.67 153.81L175.07 150.21Z" fill="none" stroke="#404040" stroke-width="1.0"/>
<path d="M183.11 150.61L186.71 154.21L183.11 157.81L179.51 154.21Z" fill="none" stroke="#404040" stroke-width="1.0"/>
<path d="M187.55 158.12L191.15 161.72L187.55 165.32L183.95 161.72Z" fill="none" stroke="#404040" stroke-width="1.0"/>
<polyline points="45.47,102.85 46.18,102.85 46.90,102.85 47.61,102.84 48.33,102.84 49.04,102.83 49.75,102.82 50.47,102.81 51.18,102.80 51.90,102.80 52.61,102.79 53.32,102.79 54.04,102.79 54.75,102.80 55.47,102.81 56.18,102.81 56.89,102.82 57.61,102.83 58.32,102.84 59.04,102.85 59.75,102.85 60.46,102.86 61.18,102.86 61.89,102.86 62.61,102.86 63.32,102.86 64.03,102.86 64.75,102.85 65.46,102.85 66.18,102.84 66.89,102.83 67.60,102.82 68.32,102.81 69.03,102.80 69.74,102.79 70.46,102.77 71.17,102.76 71.89,102.74 72.60,102.72 73.31,102.70 74.03,102.68 74.74,102.66 75.46,102.64 76.17,102.61 76.88,102.59 77.60,102.56 78.31,102.53 79.03,102.49 79.74,102.46 80.45,102.42 81.17,102.39 81.88,102.35 82.60,102.33 83.31,102.31 84.02,102.30 84.74,102.30 85.45,102.29 86.17,102.30 86.88,102.30 87.59,102.31 88.31,102.32 89.02,102.34 89.74,102.35 90.45,102.36 91.16,102.37 91.88,102.37 92.59,102.38 93.31,102.38 94.02,102.38 94.73,102.37 95.45,102.35 96.16,102.33 96.88,102.30 97.59,102.26 98.30,102.21 99.02,102.15 99.73,102.07 100.45,101.95 101.16,101.80 101.87,101.63 102.59,101.44 103.30,101.23 104.02,100.99 104.73,100.75 105.44,100.49 106.16,100.23 106.87,99.96 107.59,99.68 108.30,99.40 109.01,99.13 109.73,98.86 110.44,98.59 111.16,98.34 111.87,98.10 112.58,97.87 113.30,97.67 114.01,97.48 114.73,97.31 115.44,97.17 116.15,97.06 116.87,96.98 117.58,96.89 118.29,96.80 119.01,96.71 119.72,96.61 120.44,96.51 121.15,96.41 121.86,96.32 122.58,96.22 123.29,96.13 124.01,96.04 124.72,95.96 125.43,95.89 126.15,95.82 126.86,95.77 127.58,95.73 128.29,95.70 129.00,95.68 129.72,95.68 130.43,95.69 131.15,95.73 131.86,95.78 132.57,95.85 133.29,95.95 134.00,96.06 134.72,96.21 135.43,96.39 136.14,96.61 136.86,96.86 137.57,97.13 138.29,97.44 139.00,97.76 139.71,98.11 140.43,98.47 141.14,98.85 141.86,99.24 142.57,99.63 143.28,100.03 144.00,100.43 144.71,100.82 145.43,101.21 146.14,101.60 146.85,101.97 147.57,102.32 148.28,102.66 149.00,102.98 149.71,103.27 150.42,103.54 151.14,103.78 151.85,103.98 152.57,104.16 153.28,104.34 153.99,104.52 154.71,104.71 155.42,104.89 156.14,105.08 156.85,105.27 157.56,105.45 158.28,105.64 158.99,105.82 159.71,106.01 160.42,106.19 161.13,106.37 161.85,106.54 162.56,106.71 163.28,106.88 163.99,107.04 164.70,107.19 165.42,107.34 166.13,107.49 166.84,107.62 167.56,107.75 168.27,107.87 168.99,107.98 169.70,108.09 170.41,108.18 171.13,108.27 171.84,108.35 172.56,108.43 173.27,108.50 173.98,108.57 174.70,108.63 175.41,108.68 176.13,108.73 176.84,108.78 177.55,108.82 178.27,108.85 178.98,108.88 179.70,108.90 180.41,108.92 181.12,108.94 181.84,108.95 182.55,108.96 183.27,108.96 183.98,108.95 184.69,108.95 185.41,108.94 186.12,108.92 186.84,108.90 187.55,108.88" fill="none" stroke="#5e1e74" stroke-width="2.3" stroke-opacity="0.9" stroke-linejoin="round" clip-path="url(#c025)"/>
<polyline points="49.91,171.12 50.60,171.45 51.29,171.77 51.98,172.09 52.68,172.40 53.37,172.71 54.06,173.02 54.75,173.32 55.44,173.62 56.13,173.91 56.83,174.20 57.52,174.49 58.21,174.77 58.90,175.05 59.59,175.32 60.28,175.59 60.98,175.85 61.67,176.12 62.36,176.37 63.05,176.63 63.74,176.87 64.43,177.12 65.13,177.36 65.82,177.59 66.51,177.83 67.20,178.05 67.89,178.27 68.58,178.49 69.28,178.71 69.97,178.92 70.66,179.12 71.35,179.32 72.04,179.52 72.73,179.71 73.43,179.90 74.12,180.08 74.81,180.26 75.50,180.43 76.19,180.60 76.88,180.76 77.58,180.92 78.27,181.08 78.96,181.23 79.65,181.37 80.34,181.52 81.03,181.65 81.73,181.78 82.42,181.91 83.11,182.03 83.80,182.15 84.49,182.26 85.18,182.37 85.88,182.47 86.57,182.56 87.26,182.66 87.95,182.74 88.64,182.83 89.33,182.90 90.03,182.98 90.72,183.05 91.41,183.11 92.10,183.18 92.79,183.25 93.48,183.31 94.18,183.37 94.87,183.43 95.56,183.49 96.25,183.54 96.94,183.59 97.63,183.63 98.33,183.67 99.02,183.71 99.71,183.74 100.40,183.77 101.09,183.79 101.78,183.80 102.48,183.81 103.17,183.81 103.86,183.80 104.55,183.79 105.24,183.77 105.93,183.74 106.63,183.70 107.32,183.66 108.01,183.60 108.70,183.52 109.39,183.42 110.08,183.30 110.78,183.16 111.47,183.01 112.16,182.84 112.85,182.66 113.54,182.48 114.23,182.28 114.93,182.08 115.62,181.88 116.31,181.68 117.00,181.48 117.69,181.28 118.38,181.09 119.08,180.91 119.77,180.74 120.46,180.58 121.15,180.43 121.84,180.28 122.53,180.11 123.23,179.94 123.92,179.76 124.61,179.57 125.30,179.37 125.99,179.17 126.68,178.96 127.38,178.74 128.07,178.53 128.76,178.31 129.45,178.09 130.14,177.87 130.83,177.65 131.53,177.44 132.22,177.22 132.91,177.01 133.60,176.81 134.29,176.61 134.98,176.40 135.68,176.16 136.37,175.90 137.06,175.62 137.75,175.32 138.44,175.01 139.13,174.69 139.83,174.37 140.52,174.04 141.21,173.71 141.90,173.39 142.59,173.08 143.28,172.78 143.98,172.49 144.67,172.23 145.36,171.98 146.05,171.76 146.74,171.57 147.43,171.42 148.13,171.29 148.82,171.19 149.51,171.11 150.20,171.05 150.89,171.01 151.58,170.98 152.28,170.97 152.97,170.97 153.66,170.98 154.35,171.00 155.04,171.02 155.73,171.06 156.43,171.09 157.12,171.13 157.81,171.16 158.50,171.20 159.19,171.23 159.88,171.26 160.58,171.28 161.27,171.29 161.96,171.31 162.65,171.34 163.34,171.38 164.03,171.43 164.73,171.48 165.42,171.54 166.11,171.61 166.80,171.68 167.49,171.76 168.18,171.84 168.88,171.93 169.57,172.02 170.26,172.12 170.95,172.22 171.64,172.33 172.33,172.43 173.03,172.54 173.72,172.65 174.41,172.76 175.10,172.88 175.79,173.00 176.48,173.12 177.18,173.25 177.87,173.38 178.56,173.52 179.25,173.66 179.94,173.81 180.63,173.96 181.33,174.11 182.02,174.27 182.71,174.43 183.40,174.60 184.09,174.77 184.78,174.95 185.48,175.13 186.17,175.32 186.86,175.51 187.55,175.71" fill="none" stroke="#35908a" stroke-width="2.3" stroke-opacity="0.9" stroke-linejoin="round" clip-path="url(#c025)"/>
<polyline points="45.47,143.09 46.18,142.95 46.90,142.82 47.61,142.70 48.33,142.58 49.04,142.46 49.75,142.35 50.47,142.24 51.18,142.13 51.90,142.02 52.61,141.92 53.32,141.81 54.04,141.70 54.75,141.59 55.47,141.48 56.18,141.37 56.89,141.27 57.61,141.17 58.32,141.07 59.04,140.98 59.75,140.89 60.46,140.80 61.18,140.72 61.89,140.64 62.61,140.57 63.32,140.51 64.03,140.45 64.75,140.39 65.46,140.34 66.18,140.29 66.89,140.25 67.60,140.21 68.32,140.17 69.03,140.14 69.74,140.11 70.46,140.08 71.17,140.06 71.89,140.05 72.60,140.03 73.31,140.03 74.03,140.03 74.74,140.03 75.46,140.04 76.17,140.05 76.88,140.07 77.60,140.09 78.31,140.12 79.03,140.15 79.74,140.19 80.45,140.23 81.17,140.28 81.88,140.32 82.60,140.34 83.31,140.35 84.02,140.34 84.74,140.33 85.45,140.31 86.17,140.28 86.88,140.25 87.59,140.21 88.31,140.18 89.02,140.15 89.74,140.12 90.45,140.09 91.16,140.08 91.88,140.07 92.59,140.08 93.31,140.10 94.02,140.14 94.73,140.19 95.45,140.26 96.16,140.36 96.88,140.48 97.59,140.62 98.30,140.79 99.02,141.00 99.73,141.26 100.45,141.60 101.16,142.00 101.87,142.46 102.59,142.97 103.30,143.52 104.02,144.11 104.73,144.74 105.44,145.39 106.16,146.07 106.87,146.76 107.59,147.46 108.30,148.17 109.01,148.88 109.73,149.58 110.44,150.27 111.16,150.94 111.87,151.59 112.58,152.20 113.30,152.79 114.01,153.33 114.73,153.82 115.44,154.26 116.15,154.64 116.87,154.97 117.58,155.29 118.29,155.60 119.01,155.91 119.72,156.21 120.44,156.51 121.15,156.80 121.86,157.08 122.58,157.36 123.29,157.62 124.01,157.88 124.72,158.12 125.43,158.35 126.15,158.57 126.86,158.77 127.58,158.96 128.29,159.14 129.00,159.29 129.72,159.43 130.43,159.56 131.15,159.66 131.86,159.75 132.57,159.81 133.29,159.85 134.00,159.87 134.72,159.87 135.43,159.83 136.14,159.75 136.86,159.65 137.57,159.51 138.29,159.35 139.00,159.17 139.71,158.97 140.43,158.75 141.14,158.52 141.86,158.27 142.57,158.02 143.28,157.76 144.00,157.49 144.71,157.23 145.43,156.96 146.14,156.70 146.85,156.45 147.57,156.21 148.28,155.98 149.00,155.76 149.71,155.56 150.42,155.39 151.14,155.23 151.85,155.11 152.57,155.00 153.28,154.88 153.99,154.77 154.71,154.64 155.42,154.51 156.14,154.38 156.85,154.25 157.56,154.11 158.28,153.97 158.99,153.82 159.71,153.68 160.42,153.53 161.13,153.38 161.85,153.24 162.56,153.09 163.28,152.94 163.99,152.80 164.70,152.66 165.42,152.51 166.13,152.38 166.84,152.24 167.56,152.11 168.27,151.98 168.99,151.86 169.70,151.74 170.41,151.63 171.13,151.51 171.84,151.41 172.56,151.30 173.27,151.19 173.98,151.09 174.70,150.99 175.41,150.89 176.13,150.79 176.84,150.70 177.55,150.60 178.27,150.51 178.98,150.42 179.70,150.33 180.41,150.24 181.12,150.16 181.84,150.07 182.55,149.99 183.27,149.90 183.98,149.82 184.69,149.74 185.41,149.66 186.12,149.58 186.84,149.50 187.55,149.43" fill="none" stroke="#d6c858" stroke-width="2.3" stroke-opacity="0.9" stroke-linejoin="round" clip-path="url(#c025)"/>
<path d="M38.20 200.30V25.00H194.70V200.30" fill="none" stroke="#aaa" stroke-width="0.9"/>
<line x1="37.75" y1="200.30" x2="195.15" y2="200.30" stroke="#777" stroke-width="0.9"/>
<line x1="54.35" y1="200.30" x2="54.35" y2="204.30" stroke="#888" stroke-width="0.9"/>
<text x="54.35" y="213.80" text-anchor="middle" font-size="9.4" fill="#2a2a2a">1990</text>
<line x1="98.75" y1="200.30" x2="98.75" y2="204.30" stroke="#888" stroke-width="0.9"/>
<text x="98.75" y="213.80" text-anchor="middle" font-size="9.4" fill="#2a2a2a">2000</text>
<line x1="143.15" y1="200.30" x2="143.15" y2="204.30" stroke="#888" stroke-width="0.9"/>
<text x="143.15" y="213.80" text-anchor="middle" font-size="9.4" fill="#2a2a2a">2010</text>
<line x1="187.55" y1="200.30" x2="187.55" y2="204.30" stroke="#888" stroke-width="0.9"/>
<text x="187.55" y="213.80" text-anchor="middle" font-size="9.4" fill="#2a2a2a">2020</text>
<line x1="34.20" y1="192.40" x2="38.20" y2="192.40" stroke="#888" stroke-width="0.9"/>
<text x="30.20" y="195.50" text-anchor="end" font-size="8.9" fill="#2a2a2a">0</text>
<line x1="34.20" y1="152.45" x2="38.20" y2="152.45" stroke="#888" stroke-width="0.9"/>
<text x="30.20" y="155.55" text-anchor="end" font-size="8.9" fill="#2a2a2a">25</text>
<line x1="34.20" y1="112.50" x2="38.20" y2="112.50" stroke="#888" stroke-width="0.9"/>
<text x="30.20" y="115.60" text-anchor="end" font-size="8.9" fill="#2a2a2a">50</text>
<line x1="34.20" y1="72.55" x2="38.20" y2="72.55" stroke="#888" stroke-width="0.9"/>
<text x="30.20" y="75.65" text-anchor="end" font-size="8.9" fill="#2a2a2a">75</text>
<line x1="34.20" y1="32.60" x2="38.20" y2="32.60" stroke="#888" stroke-width="0.9"/>
<text x="30.20" y="35.70" text-anchor="end" font-size="8.9" fill="#2a2a2a">100</text>
<text x="280.85" y="17.70" text-anchor="middle" font-size="8.9" fill="#2a2a2a">Federal government</text>
<polygon points="215.27,160.05 217.06,160.51 218.86,160.82 220.66,160.99 222.46,161.01 224.26,160.90 226.06,160.68 227.85,160.35 229.65,159.94 231.45,159.45 233.25,158.90 235.05,158.31 236.85,157.69 238.65,157.05 240.44,156.39 242.24,155.76 244.04,155.26 245.84,154.87 247.64,154.57 249.44,154.34 251.24,154.15 253.03,153.98 254.83,153.80 256.63,153.60 258.43,153.37 260.23,153.12 262.03,152.85 263.82,152.56 265.62,152.27 267.42,151.99 269.22,151.76 271.02,151.61 272.82,151.47 274.62,151.25 276.41,150.90 278.21,150.39 280.01,149.74 281.81,149.00 283.61,148.27 285.41,147.63 287.20,147.02 289.00,146.33 290.80,145.51 292.60,144.56 294.40,143.48 296.20,142.30 298.00,141.10 299.79,139.97 301.59,139.05 303.39,138.45 305.19,138.15 306.99,138.03 308.79,138.04 310.58,138.13 312.38,138.26 314.18,138.40 315.98,138.56 317.78,138.75 319.58,138.99 321.38,139.28 323.17,139.63 324.97,140.01 326.77,140.42 328.57,140.83 330.37,141.22 332.17,141.57 333.97,141.85 335.76,142.04 337.56,142.10 339.36,142.02 341.16,141.79 342.96,141.40 344.76,140.86 346.55,140.17 348.35,139.34 350.15,138.39 351.95,137.32 351.95,179.26 350.15,176.67 348.35,174.28 346.55,172.08 344.76,170.10 342.96,168.34 341.16,166.80 339.36,165.48 337.56,164.36 335.76,163.45 333.97,162.70 332.17,162.12 330.37,161.68 328.57,161.35 326.77,161.12 324.97,160.98 323.17,160.90 321.38,160.89 319.58,160.89 317.78,160.85 315.98,160.79 314.18,160.77 312.38,160.82 310.58,160.97 308.79,161.21 306.99,161.55 305.19,161.96 303.39,162.40 301.59,162.88 299.79,163.46 298.00,164.15 296.20,164.99 294.40,165.97 292.60,167.08 290.80,168.23 289.00,169.34 287.20,170.28 285.41,170.93 283.61,171.32 281.81,171.64 280.01,171.97 278.21,172.37 276.41,172.90 274.62,173.56 272.82,174.30 271.02,175.05 269.22,175.73 267.42,176.22 265.62,176.56 263.82,176.78 262.03,176.93 260.23,177.03 258.43,177.11 256.63,177.19 254.83,177.29 253.03,177.42 251.24,177.58 249.44,177.78 247.64,178.00 245.84,178.24 244.04,178.49 242.24,178.75 240.44,179.01 238.65,179.27 236.85,179.55 235.05,179.86 233.25,180.23 231.45,180.66 229.65,181.20 227.85,181.86 226.06,182.67 224.26,183.65 222.46,184.82 220.66,186.20 218.86,187.79 217.06,189.59 215.27,191.58" fill="#999" fill-opacity="0.25" clip-path="url(#c125)"/>
<polygon points="223.02,171.35 224.76,171.29 226.51,171.12 228.25,170.86 229.99,170.49 231.73,170.05 233.48,169.55 235.22,169.00 236.96,168.42 238.70,167.82 240.44,167.21 242.19,166.61 243.93,166.03 245.67,165.47 247.41,164.92 249.16,164.39 250.90,163.87 252.64,163.36 254.38,162.84 256.12,162.34 257.87,161.85 259.61,161.42 261.35,161.06 263.09,160.80 264.84,160.68 266.58,160.65 268.32,160.63 270.06,160.58 271.81,160.49 273.55,160.40 275.29,160.36 277.03,160.43 278.77,160.72 280.52,161.19 282.26,161.81 284.00,162.50 285.74,163.21 287.49,163.90 289.23,164.53 290.97,165.07 292.71,165.51 294.45,165.85 296.20,166.11 297.94,166.30 299.68,166.43 301.42,166.54 303.17,166.62 304.91,166.69 306.65,166.76 308.39,166.82 310.14,166.85 311.88,166.85 313.62,166.80 315.36,166.71 317.10,166.57 318.85,166.40 320.59,166.20 322.33,166.00 324.07,165.79 325.82,165.59 327.56,165.35 329.30,165.05 331.04,164.66 332.78,164.19 334.53,163.59 336.27,162.86 338.01,161.98 339.75,160.92 341.50,159.69 343.24,158.28 344.98,156.69 346.72,154.93 348.47,153.00 350.21,150.91 351.95,148.68 351.95,178.64 350.21,178.32 348.47,178.07 346.72,177.90 344.98,177.83 343.24,177.86 341.50,177.99 339.75,178.24 338.01,178.58 336.27,179.01 334.53,179.51 332.78,180.08 331.04,180.68 329.30,181.31 327.56,181.95 325.82,182.59 324.07,183.22 322.33,183.81 320.59,184.36 318.85,184.89 317.10,185.38 315.36,185.84 313.62,186.28 311.88,186.69 310.14,187.06 308.39,187.36 306.65,187.59 304.91,187.73 303.17,187.75 301.42,187.58 299.68,187.16 297.94,186.56 296.20,185.83 294.45,185.02 292.71,184.18 290.97,183.37 289.23,182.63 287.49,181.98 285.74,181.44 284.00,181.00 282.26,180.66 280.52,180.39 278.77,180.18 277.03,180.02 275.29,179.84 273.55,179.54 271.81,179.19 270.06,178.90 268.32,178.72 266.58,178.66 264.84,178.73 263.09,178.86 261.35,179.04 259.61,179.25 257.87,179.51 256.12,179.82 254.38,180.18 252.64,180.59 250.90,181.03 249.16,181.47 247.41,181.89 245.67,182.26 243.93,182.59 242.19,182.95 240.44,183.35 238.70,183.80 236.96,184.29 235.22,184.85 233.48,185.48 231.73,186.19 229.99,187.01 228.25,187.94 226.51,189.00 224.76,190.19 223.02,191.54" fill="#999" fill-opacity="0.25" clip-path="url(#c125)"/>
<polygon points="209.87,38.48 211.67,41.42 213.47,44.20 215.27,46.83 217.06,49.29 218.86,51.58 220.66,53.70 222.46,55.65 224.26,57.42 226.06,59.02 227.85,60.45 229.65,61.76 231.45,62.96 233.25,64.08 235.05,65.13 236.85,66.13 238.65,67.10 240.44,68.03 242.24,68.94 244.04,69.84 245.84,70.73 247.64,71.68 249.44,72.68 251.24,73.70 253.03,74.69 254.83,75.63 256.63,76.50 258.43,77.33 260.23,78.14 262.03,78.99 263.82,79.91 265.62,81.05 267.42,82.32 269.22,83.62 271.02,84.86 272.82,85.97 274.62,86.91 276.41,87.69 278.21,88.34 280.01,88.92 281.81,89.45 283.61,89.98 285.41,90.44 287.20,90.78 289.00,90.97 290.80,91.00 292.60,90.89 294.40,90.70 296.20,90.54 298.00,90.50 299.79,90.63 301.59,90.77 303.39,90.88 305.19,90.95 306.99,90.95 308.79,90.90 310.58,90.82 312.38,90.76 314.18,90.79 315.98,90.96 317.78,91.28 319.58,91.60 321.38,91.93 323.17,92.26 324.97,92.59 326.77,92.90 328.57,93.20 330.37,93.46 332.17,93.68 333.97,93.84 335.76,93.92 337.56,93.87 339.36,93.69 341.16,93.36 342.96,92.89 344.76,92.28 346.55,91.52 348.35,90.64 350.15,89.63 351.95,88.50 351.95,130.92 350.15,128.51 348.35,126.27 346.55,124.19 344.76,122.30 342.96,120.60 341.16,119.10 339.36,117.80 337.56,116.71 335.76,115.81 333.97,115.09 332.17,114.54 330.37,114.14 328.57,113.85 326.77,113.65 324.97,113.53 323.17,113.44 321.38,113.39 319.58,113.36 317.78,113.32 315.98,113.26 314.18,113.22 312.38,113.21 310.58,113.24 308.79,113.34 306.99,113.50 305.19,113.72 303.39,113.94 301.59,114.12 299.79,114.18 298.00,114.07 296.20,113.87 294.40,113.64 292.60,113.44 290.80,113.32 289.00,113.28 287.20,113.30 285.41,113.32 283.61,113.26 281.81,113.01 280.01,112.47 278.21,111.63 276.41,110.58 274.62,109.43 272.82,108.28 271.02,107.18 269.22,106.18 267.42,105.26 265.62,104.38 263.82,103.49 262.03,102.54 260.23,101.49 258.43,100.39 256.63,99.27 254.83,98.18 253.03,97.14 251.24,96.13 249.44,95.13 247.64,94.11 245.84,93.03 244.04,91.87 242.24,90.69 240.44,89.49 238.65,88.28 236.85,87.07 235.05,85.89 233.25,84.74 231.45,83.64 229.65,82.62 227.85,81.70 226.06,80.91 224.26,80.26 222.46,79.76 220.66,79.43 218.86,79.27 217.06,79.27 215.27,79.45 213.47,79.79 211.67,80.28 209.87,80.90" fill="#999" fill-opacity="0.25" clip-path="url(#c125)"/>
<circle cx="209.87" cy="172.27" r="3.05" fill="#4e0c68" fill-opacity="0.65"/>
<circle cx="214.31" cy="185.05" r="3.05" fill="#4e0c68" fill-opacity="0.65"/>
<circle cx="218.75" cy="166.51" r="3.05" fill="#4e0c68" fill-opacity="0.65"/>
<circle cx="223.19" cy="185.37" r="3.05" fill="#4e0c68" fill-opacity="0.65"/>
<circle cx="227.63" cy="181.85" r="3.05" fill="#4e0c68" fill-opacity="0.65"/>
<circle cx="232.07" cy="147.98" r="3.05" fill="#4e0c68" fill-opacity="0.65"/>
<circle cx="236.51" cy="173.22" r="3.05" fill="#4e0c68" fill-opacity="0.65"/>
<circle cx="240.95" cy="163.16" r="3.05" fill="#4e0c68" fill-opacity="0.65"/>
<circle cx="254.27" cy="154.53" r="3.05" fill="#4e0c68" fill-opacity="0.65"/>
<circle cx="258.71" cy="157.40" r="3.05" fill="#4e0c68" fill-opacity="0.65"/>
<circle cx="263.15" cy="165.71" r="3.05" fill="#4e0c68" fill-opacity="0.65"/>
<circle cx="267.59" cy="180.73" r="3.05" fill="#4e0c68" fill-opacity="0.65"/>
<circle cx="272.03" cy="165.71" r="3.05" fill="#4e0c68" fill-opacity="0.65"/>
<circle cx="276.47" cy="146.70" r="3.05" fill="#4e0c68" fill-opacity="0.65"/>
<circle cx="280.91" cy="177.70" r="3.05" fill="#4e0c68" fill-opacity="0.65"/>
<circle cx="285.35" cy="162.36" r="3.05" fill="#4e0c68" fill-opacity="0.65"/>
<circle cx="289.79" cy="158.68" r="3.05" fill="#4e0c68" fill-opacity="0.65"/>
<circle cx="294.23" cy="148.77" r="3.05" fill="#4e0c68" fill-opacity="0.65"/>
<circle cx="298.67" cy="135.19" r="3.05" fill="#4e0c68" fill-opacity="0.65"/>
<circle cx="303.11" cy="156.44" r="3.05" fill="#4e0c68" fill-opacity="0.65"/>
<circle cx="307.55" cy="150.37" r="3.05" fill="#4e0c68" fill-opacity="0.65"/>
<circle cx="311.99" cy="156.60" r="3.05" fill="#4e0c68" fill-opacity="0.65"/>
<circle cx="316.43" cy="162.52" r="3.05" fill="#4e0c68" fill-opacity="0.65"/>
<circle cx="320.87" cy="132.16" r="3.05" fill="#4e0c68" fill-opacity="0.65"/>
<circle cx="325.31" cy="165.71" r="3.05" fill="#4e0c68" fill-opacity="0.65"/>
<circle cx="329.75" cy="107.71" r="3.05" fill="#4e0c68" fill-opacity="0.65"/>
<circle cx="334.19" cy="176.42" r="3.05" fill="#4e0c68" fill-opacity="0.65"/>
<circle cx="338.63" cy="156.60" r="3.05" fill="#4e0c68" fill-opacity="0.65"/>
<circle cx="343.07" cy="177.70" r="3.05" fill="#4e0c68" fill-opacity="0.65"/>
<circle cx="347.51" cy="165.23" r="3.05" fill="#4e0c68" fill-opacity="0.65"/>
<circle cx="351.95" cy="135.03" r="3.05" fill="#4e0c68" fill-opacity="0.65"/>
<rect x="211.76" y="182.02" width="5.10" height="5.10" fill="#21908c" fill-opacity="0.65"/>
<rect x="216.20" y="174.51" width="5.10" height="5.10" fill="#21908c" fill-opacity="0.65"/>
<rect x="220.64" y="182.82" width="5.10" height="5.10" fill="#21908c" fill-opacity="0.65"/>
<rect x="225.08" y="179.30" width="5.10" height="5.10" fill="#21908c" fill-opacity="0.65"/>
<rect x="233.96" y="180.42" width="5.10" height="5.10" fill="#21908c" fill-opacity="0.65"/>
<rect x="238.40" y="174.99" width="5.10" height="5.10" fill="#21908c" fill-opacity="0.65"/>
<rect x="242.84" y="180.90" width="5.10" height="5.10" fill="#21908c" fill-opacity="0.65"/>
<rect x="247.28" y="142.55" width="5.10" height="5.10" fill="#21908c" fill-opacity="0.65"/>
<rect x="256.16" y="175.63" width="5.10" height="5.10" fill="#21908c" fill-opacity="0.65"/>
<rect x="260.60" y="180.58" width="5.10" height="5.10" fill="#21908c" fill-opacity="0.65"/>
<rect x="265.04" y="167.32" width="5.10" height="5.10" fill="#21908c" fill-opacity="0.65"/>
<rect x="269.48" y="163.16" width="5.10" height="5.10" fill="#21908c" fill-opacity="0.65"/>
<rect x="273.92" y="155.33" width="5.10" height="5.10" fill="#21908c" fill-opacity="0.65"/>
<rect x="282.80" y="179.46" width="5.10" height="5.10" fill="#21908c" fill-opacity="0.65"/>
<rect x="291.68" y="165.08" width="5.10" height="5.10" fill="#21908c" fill-opacity="0.65"/>
<rect x="300.56" y="180.74" width="5.10" height="5.10" fill="#21908c" fill-opacity="0.65"/>
<rect x="305.00" y="168.76" width="5.10" height="5.10" fill="#21908c" fill-opacity="0.65"/>
<rect x="313.88" y="177.86" width="5.10" height="5.10" fill="#21908c" fill-opacity="0.65"/>
<rect x="322.76" y="180.90" width="5.10" height="5.10" fill="#21908c" fill-opacity="0.65"/>
<rect x="327.20" y="180.10" width="5.10" height="5.10" fill="#21908c" fill-opacity="0.65"/>
<rect x="331.64" y="157.41" width="5.10" height="5.10" fill="#21908c" fill-opacity="0.65"/>
<rect x="336.08" y="144.79" width="5.10" height="5.10" fill="#21908c" fill-opacity="0.65"/>
<rect x="340.52" y="175.15" width="5.10" height="5.10" fill="#21908c" fill-opacity="0.65"/>
<rect x="344.96" y="162.68" width="5.10" height="5.10" fill="#21908c" fill-opacity="0.65"/>
<rect x="349.40" y="167.16" width="5.10" height="5.10" fill="#21908c" fill-opacity="0.65"/>
<path d="M209.87 58.88L213.47 62.48L209.87 66.08L206.27 62.48Z" fill="#fae228" fill-opacity="0.65"/>
<path d="M214.31 44.18L217.91 47.78L214.31 51.38L210.71 47.78Z" fill="#fae228" fill-opacity="0.65"/>
<path d="M218.75 75.34L222.35 78.94L218.75 82.54L215.15 78.94Z" fill="#fae228" fill-opacity="0.65"/>
<path d="M223.19 70.39L226.79 73.99L223.19 77.59L219.59 73.99Z" fill="#fae228" fill-opacity="0.65"/>
<path d="M227.63 60.96L231.23 64.56L227.63 68.16L224.03 64.56Z" fill="#fae228" fill-opacity="0.65"/>
<path d="M232.07 81.25L235.67 84.85L232.07 88.45L228.47 84.85Z" fill="#fae228" fill-opacity="0.65"/>
<path d="M236.51 56.96L240.11 60.56L236.51 64.16L232.91 60.56Z" fill="#fae228" fill-opacity="0.65"/>
<path d="M240.95 87.01L244.55 90.61L240.95 94.21L237.35 90.61Z" fill="#fae228" fill-opacity="0.65"/>
<path d="M245.39 55.69L248.99 59.29L245.39 62.89L241.79 59.29Z" fill="#fae228" fill-opacity="0.65"/>
<path d="M249.83 85.41L253.43 89.01L249.83 92.61L246.23 89.01Z" fill="#fae228" fill-opacity="0.65"/>
<path d="M254.27 85.41L257.87 89.01L254.27 92.61L250.67 89.01Z" fill="#fae228" fill-opacity="0.65"/>
<path d="M258.71 98.19L262.31 101.79L258.71 105.39L255.11 101.79Z" fill="#fae228" fill-opacity="0.65"/>
<path d="M263.15 73.26L266.75 76.86L263.15 80.46L259.55 76.86Z" fill="#fae228" fill-opacity="0.65"/>
<path d="M267.59 85.89L271.19 89.49L267.59 93.09L263.99 89.49Z" fill="#fae228" fill-opacity="0.65"/>
<path d="M272.03 108.74L275.63 112.34L272.03 115.94L268.43 112.34Z" fill="#fae228" fill-opacity="0.65"/>
<path d="M276.47 108.74L280.07 112.34L276.47 115.94L272.87 112.34Z" fill="#fae228" fill-opacity="0.65"/>
<path d="M280.91 87.01L284.51 90.61L280.91 94.21L277.31 90.61Z" fill="#fae228" fill-opacity="0.65"/>
<path d="M285.35 89.08L288.95 92.68L285.35 96.28L281.75 92.68Z" fill="#fae228" fill-opacity="0.65"/>
<path d="M289.79 75.50L293.39 79.10L289.79 82.70L286.19 79.10Z" fill="#fae228" fill-opacity="0.65"/>
<path d="M294.23 114.65L297.83 118.25L294.23 121.85L290.63 118.25Z" fill="#fae228" fill-opacity="0.65"/>
<path d="M298.67 120.41L302.27 124.01L298.67 127.61L295.07 124.01Z" fill="#fae228" fill-opacity="0.65"/>
<path d="M303.11 99.79L306.71 103.39L303.11 106.99L299.51 103.39Z" fill="#fae228" fill-opacity="0.65"/>
<path d="M307.55 105.22L311.15 108.82L307.55 112.42L303.95 108.82Z" fill="#fae228" fill-opacity="0.65"/>
<path d="M311.99 76.30L315.59 79.90L311.99 83.50L308.39 79.90Z" fill="#fae228" fill-opacity="0.65"/>
<path d="M316.43 87.97L320.03 91.57L316.43 95.17L312.83 91.57Z" fill="#fae228" fill-opacity="0.65"/>
<path d="M320.87 118.81L324.47 122.41L320.87 126.01L317.27 122.41Z" fill="#fae228" fill-opacity="0.65"/>
<path d="M325.31 73.42L328.91 77.02L325.31 80.62L321.71 77.02Z" fill="#fae228" fill-opacity="0.65"/>
<path d="M329.75 122.80L333.35 126.40L329.75 130.00L326.15 126.40Z" fill="#fae228" fill-opacity="0.65"/>
<path d="M334.19 84.93L337.79 88.53L334.19 92.13L330.59 88.53Z" fill="#fae228" fill-opacity="0.65"/>
<path d="M338.63 117.53L342.23 121.13L338.63 124.73L335.03 121.13Z" fill="#fae228" fill-opacity="0.65"/>
<path d="M343.07 72.79L346.67 76.39L343.07 79.99L339.47 76.39Z" fill="#fae228" fill-opacity="0.65"/>
<path d="M347.51 122.00L351.11 125.60L347.51 129.20L343.91 125.60Z" fill="#fae228" fill-opacity="0.65"/>
<path d="M351.95 108.58L355.55 112.18L351.95 115.78L348.35 112.18Z" fill="#fae228" fill-opacity="0.65"/>
<polygon points="215.27,160.05 217.06,160.51 218.86,160.82 220.66,160.99 222.46,161.01 224.26,160.90 226.06,160.68 227.85,160.35 229.65,159.94 231.45,159.45 233.25,158.90 235.05,158.31 236.85,157.69 238.65,157.05 240.44,156.39 242.24,155.76 244.04,155.26 245.84,154.87 247.64,154.57 249.44,154.34 251.24,154.15 253.03,153.98 254.83,153.80 256.63,153.60 258.43,153.37 260.23,153.12 262.03,152.85 263.82,152.56 265.62,152.27 267.42,151.99 269.22,151.76 271.02,151.61 272.82,151.47 274.62,151.25 276.41,150.90 278.21,150.39 280.01,149.74 281.81,149.00 283.61,148.27 285.41,147.63 287.20,147.02 289.00,146.33 290.80,145.51 292.60,144.56 294.40,143.48 296.20,142.30 298.00,141.10 299.79,139.97 301.59,139.05 303.39,138.45 305.19,138.15 306.99,138.03 308.79,138.04 310.58,138.13 312.38,138.26 314.18,138.40 315.98,138.56 317.78,138.75 319.58,138.99 321.38,139.28 323.17,139.63 324.97,140.01 326.77,140.42 328.57,140.83 330.37,141.22 332.17,141.57 333.97,141.85 335.76,142.04 337.56,142.10 339.36,142.02 341.16,141.79 342.96,141.40 344.76,140.86 346.55,140.17 348.35,139.34 350.15,138.39 351.95,137.32 351.95,179.26 350.15,176.67 348.35,174.28 346.55,172.08 344.76,170.10 342.96,168.34 341.16,166.80 339.36,165.48 337.56,164.36 335.76,163.45 333.97,162.70 332.17,162.12 330.37,161.68 328.57,161.35 326.77,161.12 324.97,160.98 323.17,160.90 321.38,160.89 319.58,160.89 317.78,160.85 315.98,160.79 314.18,160.77 312.38,160.82 310.58,160.97 308.79,161.21 306.99,161.55 305.19,161.96 303.39,162.40 301.59,162.88 299.79,163.46 298.00,164.15 296.20,164.99 294.40,165.97 292.60,167.08 290.80,168.23 289.00,169.34 287.20,170.28 285.41,170.93 283.61,171.32 281.81,171.64 280.01,171.97 278.21,172.37 276.41,172.90 274.62,173.56 272.82,174.30 271.02,175.05 269.22,175.73 267.42,176.22 265.62,176.56 263.82,176.78 262.03,176.93 260.23,177.03 258.43,177.11 256.63,177.19 254.83,177.29 253.03,177.42 251.24,177.58 249.44,177.78 247.64,178.00 245.84,178.24 244.04,178.49 242.24,178.75 240.44,179.01 238.65,179.27 236.85,179.55 235.05,179.86 233.25,180.23 231.45,180.66 229.65,181.20 227.85,181.86 226.06,182.67 224.26,183.65 222.46,184.82 220.66,186.20 218.86,187.79 217.06,189.59 215.27,191.58" fill="#999" fill-opacity="0.2" clip-path="url(#c125)"/>
<polygon points="223.02,171.35 224.76,171.29 226.51,171.12 228.25,170.86 229.99,170.49 231.73,170.05 233.48,169.55 235.22,169.00 236.96,168.42 238.70,167.82 240.44,167.21 242.19,166.61 243.93,166.03 245.67,165.47 247.41,164.92 249.16,164.39 250.90,163.87 252.64,163.36 254.38,162.84 256.12,162.34 257.87,161.85 259.61,161.42 261.35,161.06 263.09,160.80 264.84,160.68 266.58,160.65 268.32,160.63 270.06,160.58 271.81,160.49 273.55,160.40 275.29,160.36 277.03,160.43 278.77,160.72 280.52,161.19 282.26,161.81 284.00,162.50 285.74,163.21 287.49,163.90 289.23,164.53 290.97,165.07 292.71,165.51 294.45,165.85 296.20,166.11 297.94,166.30 299.68,166.43 301.42,166.54 303.17,166.62 304.91,166.69 306.65,166.76 308.39,166.82 310.14,166.85 311.88,166.85 313.62,166.80 315.36,166.71 317.10,166.57 318.85,166.40 320.59,166.20 322.33,166.00 324.07,165.79 325.82,165.59 327.56,165.35 329.30,165.05 331.04,164.66 332.78,164.19 334.53,163.59 336.27,162.86 338.01,161.98 339.75,160.92 341.50,159.69 343.24,158.28 344.98,156.69 346.72,154.93 348.47,153.00 350.21,150.91 351.95,148.68 351.95,178.64 350.21,178.32 348.47,178.07 346.72,177.90 344.98,177.83 343.24,177.86 341.50,177.99 339.75,178.24 338.01,178.58 336.27,179.01 334.53,179.51 332.78,180.08 331.04,180.68 329.30,181.31 327.56,181.95 325.82,182.59 324.07,183.22 322.33,183.81 320.59,184.36 318.85,184.89 317.10,185.38 315.36,185.84 313.62,186.28 311.88,186.69 310.14,187.06 308.39,187.36 306.65,187.59 304.91,187.73 303.17,187.75 301.42,187.58 299.68,187.16 297.94,186.56 296.20,185.83 294.45,185.02 292.71,184.18 290.97,183.37 289.23,182.63 287.49,181.98 285.74,181.44 284.00,181.00 282.26,180.66 280.52,180.39 278.77,180.18 277.03,180.02 275.29,179.84 273.55,179.54 271.81,179.19 270.06,178.90 268.32,178.72 266.58,178.66 264.84,178.73 263.09,178.86 261.35,179.04 259.61,179.25 257.87,179.51 256.12,179.82 254.38,180.18 252.64,180.59 250.90,181.03 249.16,181.47 247.41,181.89 245.67,182.26 243.93,182.59 242.19,182.95 240.44,183.35 238.70,183.80 236.96,184.29 235.22,184.85 233.48,185.48 231.73,186.19 229.99,187.01 228.25,187.94 226.51,189.00 224.76,190.19 223.02,191.54" fill="#999" fill-opacity="0.2" clip-path="url(#c125)"/>
<polygon points="209.87,38.48 211.67,41.42 213.47,44.20 215.27,46.83 217.06,49.29 218.86,51.58 220.66,53.70 222.46,55.65 224.26,57.42 226.06,59.02 227.85,60.45 229.65,61.76 231.45,62.96 233.25,64.08 235.05,65.13 236.85,66.13 238.65,67.10 240.44,68.03 242.24,68.94 244.04,69.84 245.84,70.73 247.64,71.68 249.44,72.68 251.24,73.70 253.03,74.69 254.83,75.63 256.63,76.50 258.43,77.33 260.23,78.14 262.03,78.99 263.82,79.91 265.62,81.05 267.42,82.32 269.22,83.62 271.02,84.86 272.82,85.97 274.62,86.91 276.41,87.69 278.21,88.34 280.01,88.92 281.81,89.45 283.61,89.98 285.41,90.44 287.20,90.78 289.00,90.97 290.80,91.00 292.60,90.89 294.40,90.70 296.20,90.54 298.00,90.50 299.79,90.63 301.59,90.77 303.39,90.88 305.19,90.95 306.99,90.95 308.79,90.90 310.58,90.82 312.38,90.76 314.18,90.79 315.98,90.96 317.78,91.28 319.58,91.60 321.38,91.93 323.17,92.26 324.97,92.59 326.77,92.90 328.57,93.20 330.37,93.46 332.17,93.68 333.97,93.84 335.76,93.92 337.56,93.87 339.36,93.69 341.16,93.36 342.96,92.89 344.76,92.28 346.55,91.52 348.35,90.64 350.15,89.63 351.95,88.50 351.95,130.92 350.15,128.51 348.35,126.27 346.55,124.19 344.76,122.30 342.96,120.60 341.16,119.10 339.36,117.80 337.56,116.71 335.76,115.81 333.97,115.09 332.17,114.54 330.37,114.14 328.57,113.85 326.77,113.65 324.97,113.53 323.17,113.44 321.38,113.39 319.58,113.36 317.78,113.32 315.98,113.26 314.18,113.22 312.38,113.21 310.58,113.24 308.79,113.34 306.99,113.50 305.19,113.72 303.39,113.94 301.59,114.12 299.79,114.18 298.00,114.07 296.20,113.87 294.40,113.64 292.60,113.44 290.80,113.32 289.00,113.28 287.20,113.30 285.41,113.32 283.61,113.26 281.81,113.01 280.01,112.47 278.21,111.63 276.41,110.58 274.62,109.43 272.82,108.28 271.02,107.18 269.22,106.18 267.42,105.26 265.62,104.38 263.82,103.49 262.03,102.54 260.23,101.49 258.43,100.39 256.63,99.27 254.83,98.18 253.03,97.14 251.24,96.13 249.44,95.13 247.64,94.11 245.84,93.03 244.04,91.87 242.24,90.69 240.44,89.49 238.65,88.28 236.85,87.07 235.05,85.89 233.25,84.74 231.45,83.64 229.65,82.62 227.85,81.70 226.06,80.91 224.26,80.26 222.46,79.76 220.66,79.43 218.86,79.27 217.06,79.27 215.27,79.45 213.47,79.79 211.67,80.28 209.87,80.90" fill="#999" fill-opacity="0.2" clip-path="url(#c125)"/>
<circle cx="209.87" cy="172.27" r="3.05" fill="none" stroke="#404040" stroke-width="1.0"/>
<circle cx="214.31" cy="185.05" r="3.05" fill="none" stroke="#404040" stroke-width="1.0"/>
<circle cx="218.75" cy="166.51" r="3.05" fill="none" stroke="#404040" stroke-width="1.0"/>
<circle cx="223.19" cy="185.37" r="3.05" fill="none" stroke="#404040" stroke-width="1.0"/>
<circle cx="227.63" cy="181.85" r="3.05" fill="none" stroke="#404040" stroke-width="1.0"/>
<circle cx="232.07" cy="147.98" r="3.05" fill="none" stroke="#404040" stroke-width="1.0"/>
<circle cx="236.51" cy="173.22" r="3.05" fill="none" stroke="#404040" stroke-width="1.0"/>
<circle cx="240.95" cy="163.16" r="3.05" fill="none" stroke="#404040" stroke-width="1.0"/>
<circle cx="254.27" cy="154.53" r="3.05" fill="none" stroke="#404040" stroke-width="1.0"/>
<circle cx="258.71" cy="157.40" r="3.05" fill="none" stroke="#404040" stroke-width="1.0"/>
<circle cx="263.15" cy="165.71" r="3.05" fill="none" stroke="#404040" stroke-width="1.0"/>
<circle cx="267.59" cy="180.73" r="3.05" fill="none" stroke="#404040" stroke-width="1.0"/>
<circle cx="272.03" cy="165.71" r="3.05" fill="none" stroke="#404040" stroke-width="1.0"/>
<circle cx="276.47" cy="146.70" r="3.05" fill="none" stroke="#404040" stroke-width="1.0"/>
<circle cx="280.91" cy="177.70" r="3.05" fill="none" stroke="#404040" stroke-width="1.0"/>
<circle cx="285.35" cy="162.36" r="3.05" fill="none" stroke="#404040" stroke-width="1.0"/>
<circle cx="289.79" cy="158.68" r="3.05" fill="none" stroke="#404040" stroke-width="1.0"/>
<circle cx="294.23" cy="148.77" r="3.05" fill="none" stroke="#404040" stroke-width="1.0"/>
<circle cx="298.67" cy="135.19" r="3.05" fill="none" stroke="#404040" stroke-width="1.0"/>
<circle cx="303.11" cy="156.44" r="3.05" fill="none" stroke="#404040" stroke-width="1.0"/>
<circle cx="307.55" cy="150.37" r="3.05" fill="none" stroke="#404040" stroke-width="1.0"/>
<circle cx="311.99" cy="156.60" r="3.05" fill="none" stroke="#404040" stroke-width="1.0"/>
<circle cx="316.43" cy="162.52" r="3.05" fill="none" stroke="#404040" stroke-width="1.0"/>
<circle cx="320.87" cy="132.16" r="3.05" fill="none" stroke="#404040" stroke-width="1.0"/>
<circle cx="325.31" cy="165.71" r="3.05" fill="none" stroke="#404040" stroke-width="1.0"/>
<circle cx="329.75" cy="107.71" r="3.05" fill="none" stroke="#404040" stroke-width="1.0"/>
<circle cx="334.19" cy="176.42" r="3.05" fill="none" stroke="#404040" stroke-width="1.0"/>
<circle cx="338.63" cy="156.60" r="3.05" fill="none" stroke="#404040" stroke-width="1.0"/>
<circle cx="343.07" cy="177.70" r="3.05" fill="none" stroke="#404040" stroke-width="1.0"/>
<circle cx="347.51" cy="165.23" r="3.05" fill="none" stroke="#404040" stroke-width="1.0"/>
<circle cx="351.95" cy="135.03" r="3.05" fill="none" stroke="#404040" stroke-width="1.0"/>
<rect x="211.76" y="182.02" width="5.10" height="5.10" fill="none" stroke="#404040" stroke-width="1.0"/>
<rect x="216.20" y="174.51" width="5.10" height="5.10" fill="none" stroke="#404040" stroke-width="1.0"/>
<rect x="220.64" y="182.82" width="5.10" height="5.10" fill="none" stroke="#404040" stroke-width="1.0"/>
<rect x="225.08" y="179.30" width="5.10" height="5.10" fill="none" stroke="#404040" stroke-width="1.0"/>
<rect x="233.96" y="180.42" width="5.10" height="5.10" fill="none" stroke="#404040" stroke-width="1.0"/>
<rect x="238.40" y="174.99" width="5.10" height="5.10" fill="none" stroke="#404040" stroke-width="1.0"/>
<rect x="242.84" y="180.90" width="5.10" height="5.10" fill="none" stroke="#404040" stroke-width="1.0"/>
<rect x="247.28" y="142.55" width="5.10" height="5.10" fill="none" stroke="#404040" stroke-width="1.0"/>
<rect x="256.16" y="175.63" width="5.10" height="5.10" fill="none" stroke="#404040" stroke-width="1.0"/>
<rect x="260.60" y="180.58" width="5.10" height="5.10" fill="none" stroke="#404040" stroke-width="1.0"/>
<rect x="265.04" y="167.32" width="5.10" height="5.10" fill="none" stroke="#404040" stroke-width="1.0"/>
<rect x="269.48" y="163.16" width="5.10" height="5.10" fill="none" stroke="#404040" stroke-width="1.0"/>
<rect x="273.92" y="155.33" width="5.10" height="5.10" fill="none" stroke="#404040" stroke-width="1.0"/>
<rect x="282.80" y="179.46" width="5.10" height="5.10" fill="none" stroke="#404040" stroke-width="1.0"/>
<rect x="291.68" y="165.08" width="5.10" height="5.10" fill="none" stroke="#404040" stroke-width="1.0"/>
<rect x="300.56" y="180.74" width="5.10" height="5.10" fill="none" stroke="#404040" stroke-width="1.0"/>
<rect x="305.00" y="168.76" width="5.10" height="5.10" fill="none" stroke="#404040" stroke-width="1.0"/>
<rect x="313.88" y="177.86" width="5.10" height="5.10" fill="none" stroke="#404040" stroke-width="1.0"/>
<rect x="322.76" y="180.90" width="5.10" height="5.10" fill="none" stroke="#404040" stroke-width="1.0"/>
<rect x="327.20" y="180.10" width="5.10" height="5.10" fill="none" stroke="#404040" stroke-width="1.0"/>
<rect x="331.64" y="157.41" width="5.10" height="5.10" fill="none" stroke="#404040" stroke-width="1.0"/>
<rect x="336.08" y="144.79" width="5.10" height="5.10" fill="none" stroke="#404040" stroke-width="1.0"/>
<rect x="340.52" y="175.15" width="5.10" height="5.10" fill="none" stroke="#404040" stroke-width="1.0"/>
<rect x="344.96" y="162.68" width="5.10" height="5.10" fill="none" stroke="#404040" stroke-width="1.0"/>
<rect x="349.40" y="167.16" width="5.10" height="5.10" fill="none" stroke="#404040" stroke-width="1.0"/>
<path d="M209.87 58.88L213.47 62.48L209.87 66.08L206.27 62.48Z" fill="none" stroke="#404040" stroke-width="1.0"/>
<path d="M214.31 44.18L217.91 47.78L214.31 51.38L210.71 47.78Z" fill="none" stroke="#404040" stroke-width="1.0"/>
<path d="M218.75 75.34L222.35 78.94L218.75 82.54L215.15 78.94Z" fill="none" stroke="#404040" stroke-width="1.0"/>
<path d="M223.19 70.39L226.79 73.99L223.19 77.59L219.59 73.99Z" fill="none" stroke="#404040" stroke-width="1.0"/>
<path d="M227.63 60.96L231.23 64.56L227.63 68.16L224.03 64.56Z" fill="none" stroke="#404040" stroke-width="1.0"/>
<path d="M232.07 81.25L235.67 84.85L232.07 88.45L228.47 84.85Z" fill="none" stroke="#404040" stroke-width="1.0"/>
<path d="M236.51 56.96L240.11 60.56L236.51 64.16L232.91 60.56Z" fill="none" stroke="#404040" stroke-width="1.0"/>
<path d="M240.95 87.01L244.55 90.61L240.95 94.21L237.35 90.61Z" fill="none" stroke="#404040" stroke-width="1.0"/>
<path d="M245.39 55.69L248.99 59.29L245.39 62.89L241.79 59.29Z" fill="none" stroke="#404040" stroke-width="1.0"/>
<path d="M249.83 85.41L253.43 89.01L249.83 92.61L246.23 89.01Z" fill="none" stroke="#404040" stroke-width="1.0"/>
<path d="M254.27 85.41L257.87 89.01L254.27 92.61L250.67 89.01Z" fill="none" stroke="#404040" stroke-width="1.0"/>
<path d="M258.71 98.19L262.31 101.79L258.71 105.39L255.11 101.79Z" fill="none" stroke="#404040" stroke-width="1.0"/>
<path d="M263.15 73.26L266.75 76.86L263.15 80.46L259.55 76.86Z" fill="none" stroke="#404040" stroke-width="1.0"/>
<path d="M267.59 85.89L271.19 89.49L267.59 93.09L263.99 89.49Z" fill="none" stroke="#404040" stroke-width="1.0"/>
<path d="M272.03 108.74L275.63 112.34L272.03 115.94L268.43 112.34Z" fill="none" stroke="#404040" stroke-width="1.0"/>
<path d="M276.47 108.74L280.07 112.34L276.47 115.94L272.87 112.34Z" fill="none" stroke="#404040" stroke-width="1.0"/>
<path d="M280.91 87.01L284.51 90.61L280.91 94.21L277.31 90.61Z" fill="none" stroke="#404040" stroke-width="1.0"/>
<path d="M285.35 89.08L288.95 92.68L285.35 96.28L281.75 92.68Z" fill="none" stroke="#404040" stroke-width="1.0"/>
<path d="M289.79 75.50L293.39 79.10L289.79 82.70L286.19 79.10Z" fill="none" stroke="#404040" stroke-width="1.0"/>
<path d="M294.23 114.65L297.83 118.25L294.23 121.85L290.63 118.25Z" fill="none" stroke="#404040" stroke-width="1.0"/>
<path d="M298.67 120.41L302.27 124.01L298.67 127.61L295.07 124.01Z" fill="none" stroke="#404040" stroke-width="1.0"/>
<path d="M303.11 99.79L306.71 103.39L303.11 106.99L299.51 103.39Z" fill="none" stroke="#404040" stroke-width="1.0"/>
<path d="M307.55 105.22L311.15 108.82L307.55 112.42L303.95 108.82Z" fill="none" stroke="#404040" stroke-width="1.0"/>
<path d="M311.99 76.30L315.59 79.90L311.99 83.50L308.39 79.90Z" fill="none" stroke="#404040" stroke-width="1.0"/>
<path d="M316.43 87.97L320.03 91.57L316.43 95.17L312.83 91.57Z" fill="none" stroke="#404040" stroke-width="1.0"/>
<path d="M320.87 118.81L324.47 122.41L320.87 126.01L317.27 122.41Z" fill="none" stroke="#404040" stroke-width="1.0"/>
<path d="M325.31 73.42L328.91 77.02L325.31 80.62L321.71 77.02Z" fill="none" stroke="#404040" stroke-width="1.0"/>
<path d="M329.75 122.80L333.35 126.40L329.75 130.00L326.15 126.40Z" fill="none" stroke="#404040" stroke-width="1.0"/>
<path d="M334.19 84.93L337.79 88.53L334.19 92.13L330.59 88.53Z" fill="none" stroke="#404040" stroke-width="1.0"/>
<path d="M338.63 117.53L342.23 121.13L338.63 124.73L335.03 121.13Z" fill="none" stroke="#404040" stroke-width="1.0"/>
<path d="M343.07 72.79L346.67 76.39L343.07 79.99L339.47 76.39Z" fill="none" stroke="#404040" stroke-width="1.0"/>
<path d="M347.51 122.00L351.11 125.60L347.51 129.20L343.91 125.60Z" fill="none" stroke="#404040" stroke-width="1.0"/>
<path d="M351.95 108.58L355.55 112.18L351.95 115.78L348.35 112.18Z" fill="none" stroke="#404040" stroke-width="1.0"/>
<circle cx="214.31" cy="185.05" r="3.05" fill="#4e0c68" fill-opacity="0.65"/><circle cx="214.31" cy="185.05" r="3.05" fill="none" stroke="#404040" stroke-width="1.0"/>
<circle cx="343.07" cy="177.70" r="3.05" fill="#4e0c68" fill-opacity="0.65"/><circle cx="343.07" cy="177.70" r="3.05" fill="none" stroke="#404040" stroke-width="1.0"/>
<polyline points="209.87,178.24 210.58,177.91 211.30,177.58 212.01,177.26 212.73,176.94 213.44,176.62 214.15,176.30 214.87,175.99 215.58,175.68 216.30,175.37 217.01,175.07 217.72,174.77 218.44,174.48 219.15,174.19 219.87,173.91 220.58,173.63 221.29,173.35 222.01,173.08 222.72,172.82 223.44,172.56 224.15,172.31 224.86,172.07 225.58,171.83 226.29,171.60 227.01,171.37 227.72,171.15 228.43,170.93 229.15,170.72 229.86,170.51 230.58,170.30 231.29,170.10 232.00,169.90 232.72,169.71 233.43,169.52 234.14,169.33 234.86,169.14 235.57,168.95 236.29,168.77 237.00,168.58 237.71,168.40 238.43,168.21 239.14,168.03 239.86,167.85 240.57,167.67 241.28,167.48 242.00,167.31 242.71,167.15 243.43,167.00 244.14,166.85 244.85,166.72 245.57,166.60 246.28,166.48 247.00,166.38 247.71,166.28 248.42,166.18 249.14,166.10 249.85,166.01 250.57,165.94 251.28,165.86 251.99,165.79 252.71,165.73 253.42,165.66 254.14,165.60 254.85,165.54 255.56,165.48 256.28,165.42 256.99,165.37 257.71,165.31 258.42,165.24 259.13,165.18 259.85,165.11 260.56,165.04 261.28,164.97 261.99,164.89 262.70,164.81 263.42,164.72 264.13,164.63 264.85,164.53 265.56,164.42 266.27,164.31 266.99,164.18 267.70,164.05 268.42,163.91 269.13,163.76 269.84,163.61 270.56,163.44 271.27,163.27 271.99,163.10 272.70,162.92 273.41,162.73 274.13,162.54 274.84,162.34 275.56,162.15 276.27,161.94 276.98,161.74 277.70,161.53 278.41,161.32 279.13,161.11 279.84,160.90 280.55,160.69 281.27,160.48 281.98,160.27 282.69,160.06 283.41,159.85 284.12,159.64 284.84,159.44 285.55,159.24 286.26,159.01 286.98,158.74 287.69,158.45 288.41,158.12 289.12,157.77 289.83,157.40 290.55,157.01 291.26,156.61 291.98,156.19 292.69,155.77 293.40,155.33 294.12,154.90 294.83,154.46 295.55,154.03 296.26,153.61 296.97,153.19 297.69,152.79 298.40,152.41 299.12,152.04 299.83,151.70 300.54,151.38 301.26,151.09 301.97,150.83 302.69,150.61 303.40,150.43 304.11,150.26 304.83,150.12 305.54,150.00 306.26,149.89 306.97,149.79 307.68,149.72 308.40,149.66 309.11,149.61 309.83,149.57 310.54,149.55 311.25,149.54 311.97,149.54 312.68,149.54 313.40,149.56 314.11,149.59 314.82,149.62 315.54,149.65 316.25,149.70 316.97,149.74 317.68,149.79 318.39,149.85 319.11,149.90 319.82,149.96 320.54,150.02 321.25,150.07 321.96,150.14 322.68,150.21 323.39,150.29 324.11,150.38 324.82,150.47 325.53,150.58 326.25,150.69 326.96,150.80 327.68,150.93 328.39,151.06 329.10,151.19 329.82,151.34 330.53,151.48 331.24,151.64 331.96,151.80 332.67,151.96 333.39,152.14 334.10,152.31 334.81,152.49 335.53,152.68 336.24,152.87 336.96,153.06 337.67,153.26 338.38,153.47 339.10,153.67 339.81,153.88 340.53,154.10 341.24,154.32 341.95,154.55 342.67,154.78 343.38,155.01 344.10,155.25 344.81,155.50 345.52,155.75 346.24,156.01 346.95,156.27 347.67,156.54 348.38,156.82 349.09,157.10 349.81,157.39 350.52,157.68 351.24,157.98 351.95,158.29" fill="none" stroke="#5e1e74" stroke-width="2.3" stroke-opacity="0.9" stroke-linejoin="round" clip-path="url(#c125)"/>
<polyline points="214.31,185.20 215.00,184.89 215.69,184.58 216.38,184.27 217.08,183.97 217.77,183.67 218.46,183.37 219.15,183.07 219.84,182.77 220.53,182.48 221.23,182.18 221.92,181.90 222.61,181.61 223.30,181.33 223.99,181.05 224.68,180.77 225.38,180.50 226.07,180.23 226.76,179.96 227.45,179.70 228.14,179.44 228.83,179.18 229.53,178.92 230.22,178.67 230.91,178.42 231.60,178.17 232.29,177.93 232.98,177.68 233.68,177.44 234.37,177.21 235.06,176.98 235.75,176.75 236.44,176.52 237.13,176.30 237.83,176.08 238.52,175.86 239.21,175.65 239.90,175.44 240.59,175.24 241.28,175.04 241.98,174.84 242.67,174.65 243.36,174.46 244.05,174.28 244.74,174.10 245.43,173.92 246.13,173.75 246.82,173.57 247.51,173.38 248.20,173.19 248.89,173.01 249.58,172.82 250.28,172.62 250.97,172.43 251.66,172.24 252.35,172.05 253.04,171.87 253.73,171.68 254.43,171.50 255.12,171.33 255.81,171.15 256.50,170.99 257.19,170.83 257.88,170.68 258.58,170.53 259.27,170.40 259.96,170.27 260.65,170.15 261.34,170.05 262.03,169.95 262.73,169.87 263.42,169.80 264.11,169.75 264.80,169.71 265.49,169.68 266.18,169.66 266.88,169.65 267.57,169.66 268.26,169.67 268.95,169.69 269.64,169.72 270.33,169.76 271.03,169.79 271.72,169.84 272.41,169.89 273.10,169.94 273.79,169.99 274.48,170.04 275.18,170.09 275.87,170.14 276.56,170.19 277.25,170.25 277.94,170.33 278.63,170.43 279.33,170.55 280.02,170.68 280.71,170.84 281.40,171.00 282.09,171.18 282.78,171.38 283.48,171.58 284.17,171.80 284.86,172.02 285.55,172.26 286.24,172.50 286.93,172.74 287.63,172.99 288.32,173.24 289.01,173.50 289.70,173.75 290.39,174.01 291.08,174.26 291.78,174.51 292.47,174.76 293.16,175.00 293.85,175.23 294.54,175.46 295.23,175.68 295.93,175.89 296.62,176.09 297.31,176.27 298.00,176.44 298.69,176.60 299.38,176.74 300.08,176.87 300.77,176.97 301.46,177.06 302.15,177.13 302.84,177.17 303.53,177.19 304.23,177.21 304.92,177.21 305.61,177.20 306.30,177.19 306.99,177.17 307.68,177.13 308.38,177.09 309.07,177.04 309.76,176.99 310.45,176.92 311.14,176.85 311.83,176.77 312.53,176.69 313.22,176.60 313.91,176.50 314.60,176.40 315.29,176.29 315.98,176.17 316.68,176.05 317.37,175.93 318.06,175.80 318.75,175.66 319.44,175.52 320.13,175.38 320.83,175.23 321.52,175.08 322.21,174.93 322.90,174.77 323.59,174.62 324.28,174.45 324.98,174.29 325.67,174.13 326.36,173.96 327.05,173.78 327.74,173.60 328.43,173.42 329.13,173.23 329.82,173.03 330.51,172.83 331.20,172.62 331.89,172.41 332.58,172.20 333.28,171.97 333.97,171.74 334.66,171.51 335.35,171.27 336.04,171.02 336.73,170.76 337.43,170.50 338.12,170.24 338.81,169.96 339.50,169.68 340.19,169.40 340.88,169.11 341.58,168.81 342.27,168.51 342.96,168.20 343.65,167.88 344.34,167.56 345.03,167.24 345.73,166.90 346.42,166.57 347.11,166.22 347.80,165.87 348.49,165.52 349.18,165.16 349.88,164.79 350.57,164.42 351.26,164.05 351.95,163.66" fill="none" stroke="#35908a" stroke-width="2.3" stroke-opacity="0.9" stroke-linejoin="round" clip-path="url(#c125)"/>
<polyline points="209.87,59.69 210.58,60.15 211.30,60.61 212.01,61.07 212.73,61.53 213.44,61.98 214.15,62.44 214.87,62.89 215.58,63.34 216.30,63.79 217.01,64.25 217.72,64.70 218.44,65.15 219.15,65.61 219.87,66.06 220.58,66.52 221.29,66.97 222.01,67.42 222.72,67.87 223.44,68.32 224.15,68.77 224.86,69.22 225.58,69.66 226.29,70.11 227.01,70.55 227.72,70.99 228.43,71.44 229.15,71.88 229.86,72.32 230.58,72.76 231.29,73.20 232.00,73.64 232.72,74.08 233.43,74.52 234.14,74.96 234.86,75.39 235.57,75.83 236.29,76.26 237.00,76.70 237.71,77.13 238.43,77.56 239.14,77.98 239.86,78.41 240.57,78.83 241.28,79.25 242.00,79.67 242.71,80.09 243.43,80.50 244.14,80.91 244.85,81.32 245.57,81.73 246.28,82.13 247.00,82.53 247.71,82.93 248.42,83.34 249.14,83.74 249.85,84.14 250.57,84.54 251.28,84.94 251.99,85.34 252.71,85.73 253.42,86.13 254.14,86.52 254.85,86.92 255.56,87.31 256.28,87.70 256.99,88.09 257.71,88.47 258.42,88.86 259.13,89.24 259.85,89.62 260.56,90.00 261.28,90.37 261.99,90.74 262.70,91.12 263.42,91.49 264.13,91.87 264.85,92.26 265.56,92.67 266.27,93.09 266.99,93.52 267.70,93.96 268.42,94.40 269.13,94.85 269.84,95.29 270.56,95.74 271.27,96.18 271.99,96.62 272.70,97.05 273.41,97.48 274.13,97.89 274.84,98.30 275.56,98.69 276.27,99.06 276.98,99.42 277.70,99.76 278.41,100.07 279.13,100.37 279.84,100.63 280.55,100.88 281.27,101.09 281.98,101.28 282.69,101.44 283.41,101.59 284.12,101.71 284.84,101.81 285.55,101.90 286.26,101.97 286.98,102.03 287.69,102.07 288.41,102.10 289.12,102.13 289.83,102.14 290.55,102.15 291.26,102.16 291.98,102.16 292.69,102.16 293.40,102.17 294.12,102.17 294.83,102.18 295.55,102.19 296.26,102.21 296.97,102.23 297.69,102.27 298.40,102.31 299.12,102.37 299.83,102.41 300.54,102.43 301.26,102.44 301.97,102.44 302.69,102.43 303.40,102.41 304.11,102.38 304.83,102.35 305.54,102.31 306.26,102.27 306.97,102.23 307.68,102.18 308.40,102.14 309.11,102.10 309.83,102.06 310.54,102.03 311.25,102.01 311.97,101.99 312.68,101.98 313.40,101.99 314.11,102.00 314.82,102.03 315.54,102.08 316.25,102.14 316.97,102.21 317.68,102.29 318.39,102.36 319.11,102.43 319.82,102.50 320.54,102.58 321.25,102.65 321.96,102.72 322.68,102.80 323.39,102.88 324.11,102.96 324.82,103.04 325.53,103.12 326.25,103.21 326.96,103.30 327.68,103.40 328.39,103.50 329.10,103.60 329.82,103.71 330.53,103.83 331.24,103.95 331.96,104.07 332.67,104.21 333.39,104.35 334.10,104.50 334.81,104.65 335.53,104.81 336.24,104.97 336.96,105.14 337.67,105.32 338.38,105.50 339.10,105.68 339.81,105.87 340.53,106.06 341.24,106.26 341.95,106.46 342.67,106.66 343.38,106.87 344.10,107.09 344.81,107.31 345.52,107.53 346.24,107.76 346.95,107.99 347.67,108.22 348.38,108.46 349.09,108.70 349.81,108.95 350.52,109.20 351.24,109.45 351.95,109.71" fill="none" stroke="#d6c858" stroke-width="2.3" stroke-opacity="0.9" stroke-linejoin="round" clip-path="url(#c125)"/>
<path d="M202.60 200.30V25.00H359.10V200.30" fill="none" stroke="#aaa" stroke-width="0.9"/>
<line x1="202.15" y1="200.30" x2="359.55" y2="200.30" stroke="#777" stroke-width="0.9"/>
<line x1="218.75" y1="200.30" x2="218.75" y2="204.30" stroke="#888" stroke-width="0.9"/>
<text x="218.75" y="213.80" text-anchor="middle" font-size="9.4" fill="#2a2a2a">1990</text>
<line x1="263.15" y1="200.30" x2="263.15" y2="204.30" stroke="#888" stroke-width="0.9"/>
<text x="263.15" y="213.80" text-anchor="middle" font-size="9.4" fill="#2a2a2a">2000</text>
<line x1="307.55" y1="200.30" x2="307.55" y2="204.30" stroke="#888" stroke-width="0.9"/>
<text x="307.55" y="213.80" text-anchor="middle" font-size="9.4" fill="#2a2a2a">2010</text>
<line x1="351.95" y1="200.30" x2="351.95" y2="204.30" stroke="#888" stroke-width="0.9"/>
<text x="351.95" y="213.80" text-anchor="middle" font-size="9.4" fill="#2a2a2a">2020</text>
<text x="445.45" y="17.70" text-anchor="middle" font-size="8.9" fill="#2a2a2a">Firms and trade associations</text>
<polygon points="381.66,171.71 383.46,172.53 385.26,173.24 387.06,173.82 388.86,174.29 390.66,174.64 392.45,174.87 394.25,174.99 396.05,175.01 397.85,174.93 399.65,174.77 401.45,174.54 403.25,174.24 405.04,173.91 406.84,173.53 408.64,173.12 410.44,172.69 412.24,172.28 414.04,171.88 415.84,171.47 417.63,171.03 419.43,170.56 421.23,170.04 423.03,169.48 424.83,168.89 426.63,168.29 428.42,167.69 430.22,167.04 432.02,166.33 433.82,165.53 435.62,164.63 437.42,163.63 439.22,162.56 441.01,161.46 442.81,160.40 444.61,159.46 446.41,158.69 448.21,157.99 450.01,157.32 451.80,156.64 453.60,155.92 455.40,155.16 457.20,154.36 459.00,153.57 460.80,152.83 462.60,152.20 464.39,151.71 466.19,151.32 467.99,150.98 469.79,150.68 471.59,150.39 473.39,150.11 475.18,149.83 476.98,149.58 478.78,149.39 480.58,149.27 482.38,149.22 484.18,149.22 485.98,149.24 487.77,149.28 489.57,149.35 491.37,149.43 493.17,149.52 494.97,149.60 496.77,149.67 498.57,149.71 500.36,149.71 502.16,149.66 503.96,149.54 505.76,149.35 507.56,149.09 509.36,148.77 511.15,148.37 512.95,147.92 514.75,147.42 516.55,146.86 516.55,172.19 514.75,170.64 512.95,169.20 511.15,167.88 509.36,166.70 507.56,165.64 505.76,164.72 503.96,163.94 502.16,163.29 500.36,162.78 498.57,162.40 496.77,162.12 494.97,161.95 493.17,161.85 491.37,161.82 489.57,161.85 487.77,161.93 485.98,162.05 484.18,162.21 482.38,162.38 480.58,162.58 478.78,162.78 476.98,162.99 475.18,163.22 473.39,163.51 471.59,163.86 469.79,164.28 467.99,164.75 466.19,165.26 464.39,165.78 462.60,166.28 460.80,166.76 459.00,167.27 457.20,167.83 455.40,168.49 453.60,169.24 451.80,170.09 450.01,170.99 448.21,171.90 446.41,172.76 444.61,173.53 442.81,174.31 441.01,175.13 439.22,176.02 437.42,176.97 435.62,177.99 433.82,179.04 432.02,180.08 430.22,181.02 428.42,181.81 426.63,182.40 424.83,182.88 423.03,183.28 421.23,183.65 419.43,183.99 417.63,184.33 415.84,184.67 414.04,185.00 412.24,185.32 410.44,185.63 408.64,185.90 406.84,186.17 405.04,186.42 403.25,186.67 401.45,186.93 399.65,187.20 397.85,187.48 396.05,187.79 394.25,188.14 392.45,188.54 390.66,188.98 388.86,189.50 387.06,190.08 385.26,190.73 383.46,191.45 381.66,192.23" fill="#999" fill-opacity="0.25" clip-path="url(#c225)"/>
<polygon points="374.47,160.97 376.27,162.59 378.07,164.12 379.87,165.54 381.66,166.85 383.46,168.04 385.26,169.12 387.06,170.06 388.86,170.87 390.66,171.56 392.45,172.11 394.25,172.53 396.05,172.84 397.85,173.05 399.65,173.17 401.45,173.22 403.25,173.21 405.04,173.16 406.84,173.08 408.64,172.98 410.44,172.86 412.24,172.70 414.04,172.46 415.84,172.16 417.63,171.80 419.43,171.37 421.23,170.89 423.03,170.38 424.83,169.85 426.63,169.33 428.42,168.86 430.22,168.47 432.02,168.21 433.82,168.09 435.62,168.08 437.42,168.15 439.22,168.25 441.01,168.36 442.81,168.44 444.61,168.47 446.41,168.45 448.21,168.40 450.01,168.32 451.80,168.26 453.60,168.24 455.40,168.30 457.20,168.51 459.00,168.80 460.80,169.13 462.60,169.44 464.39,169.68 466.19,169.84 467.99,169.91 469.79,169.90 471.59,169.82 473.39,169.69 475.18,169.54 476.98,169.35 478.78,169.14 480.58,168.90 482.38,168.67 484.18,168.45 485.98,168.26 487.77,168.08 489.57,167.87 491.37,167.63 493.17,167.36 494.97,167.03 496.77,166.65 498.57,166.20 500.36,165.67 502.16,165.05 503.96,164.32 505.76,163.49 507.56,162.55 509.36,161.50 511.15,160.35 512.95,159.09 514.75,157.74 516.55,156.30 516.55,178.29 514.75,177.87 512.95,177.51 511.15,177.21 509.36,176.99 507.56,176.84 505.76,176.76 503.96,176.77 502.16,176.84 500.36,176.99 498.57,177.19 496.77,177.45 494.97,177.75 493.17,178.07 491.37,178.42 489.57,178.78 487.77,179.14 485.98,179.50 484.18,179.86 482.38,180.21 480.58,180.55 478.78,180.89 476.98,181.21 475.18,181.51 473.39,181.76 471.59,181.94 469.79,181.99 467.99,181.94 466.19,181.84 464.39,181.74 462.60,181.66 460.80,181.63 459.00,181.63 457.20,181.65 455.40,181.66 453.60,181.65 451.80,181.56 450.01,181.43 448.21,181.29 446.41,181.18 444.61,181.13 442.81,181.16 441.01,181.27 439.22,181.44 437.42,181.67 435.62,181.91 433.82,182.14 432.02,182.32 430.22,182.49 428.42,182.69 426.63,182.90 424.83,183.14 423.03,183.41 421.23,183.71 419.43,184.02 417.63,184.33 415.84,184.61 414.04,184.83 412.24,184.97 410.44,184.99 408.64,184.90 406.84,184.80 405.04,184.70 403.25,184.59 401.45,184.48 399.65,184.37 397.85,184.26 396.05,184.17 394.25,184.09 392.45,184.04 390.66,184.02 388.86,184.04 387.06,184.11 385.26,184.23 383.46,184.41 381.66,184.63 379.87,184.89 378.07,185.20 376.27,185.55 374.47,185.94" fill="#999" fill-opacity="0.25" clip-path="url(#c225)"/>
<polygon points="374.47,35.88 376.27,37.25 378.07,38.53 379.87,39.73 381.66,40.86 383.46,41.93 385.26,42.92 387.06,43.82 388.86,44.62 390.66,45.34 392.45,45.97 394.25,46.58 396.05,47.19 397.85,47.81 399.65,48.45 401.45,49.11 403.25,49.80 405.04,50.51 406.84,51.24 408.64,52.00 410.44,52.78 412.24,53.72 414.04,54.86 415.84,56.12 417.63,57.44 419.43,58.76 421.23,60.06 423.03,61.33 424.83,62.57 426.63,63.80 428.42,65.04 430.22,66.53 432.02,68.20 433.82,69.96 435.62,71.70 437.42,73.35 439.22,74.86 441.01,76.24 442.81,77.50 444.61,78.68 446.41,79.82 448.21,80.91 450.01,81.93 451.80,82.81 453.60,83.53 455.40,84.07 457.20,84.47 459.00,84.78 460.80,85.09 462.60,85.49 464.39,86.05 466.19,86.64 467.99,87.23 469.79,87.77 471.59,88.26 473.39,88.70 475.18,89.09 476.98,89.49 478.78,89.93 480.58,90.47 482.38,91.11 484.18,91.77 485.98,92.44 487.77,93.11 489.57,93.76 491.37,94.38 493.17,94.96 494.97,95.47 496.77,95.91 498.57,96.24 500.36,96.45 502.16,96.51 503.96,96.41 505.76,96.15 507.56,95.73 509.36,95.14 511.15,94.40 512.95,93.51 514.75,92.48 516.55,91.32 516.55,131.02 514.75,128.87 512.95,126.86 511.15,124.98 509.36,123.24 507.56,121.66 505.76,120.24 503.96,118.98 502.16,117.88 500.36,116.94 498.57,116.13 496.77,115.44 494.97,114.83 493.17,114.29 491.37,113.80 489.57,113.36 487.77,112.93 485.98,112.53 484.18,112.13 482.38,111.74 480.58,111.34 478.78,110.92 476.98,110.50 475.18,110.08 473.39,109.71 471.59,109.38 469.79,109.09 467.99,108.81 466.19,108.50 464.39,108.10 462.60,107.56 460.80,106.92 459.00,106.25 457.20,105.58 455.40,104.96 453.60,104.41 451.80,103.89 450.01,103.35 448.21,102.71 446.41,101.87 444.61,100.73 442.81,99.30 441.01,97.66 439.22,95.94 437.42,94.23 435.62,92.59 433.82,91.07 432.02,89.67 430.22,88.36 428.42,87.11 426.63,85.84 424.83,84.43 423.03,82.92 421.23,81.38 419.43,79.87 417.63,78.44 415.84,77.11 414.04,75.87 412.24,74.72 410.44,73.65 408.64,72.63 406.84,71.60 405.04,70.60 403.25,69.63 401.45,68.71 399.65,67.88 397.85,67.14 396.05,66.54 394.25,66.11 392.45,65.86 390.66,65.83 388.86,66.00 387.06,66.39 385.26,67.01 383.46,67.84 381.66,68.93 379.87,70.27 378.07,71.84 376.27,73.62 374.47,75.58" fill="#999" fill-opacity="0.25" clip-path="url(#c225)"/>
<circle cx="374.47" cy="183.77" r="3.05" fill="#4e0c68" fill-opacity="0.65"/>
<circle cx="383.35" cy="186.01" r="3.05" fill="#4e0c68" fill-opacity="0.65"/>
<circle cx="387.79" cy="182.01" r="3.05" fill="#4e0c68" fill-opacity="0.65"/>
<circle cx="392.23" cy="176.42" r="3.05" fill="#4e0c68" fill-opacity="0.65"/>
<circle cx="396.67" cy="174.66" r="3.05" fill="#4e0c68" fill-opacity="0.65"/>
<circle cx="401.11" cy="177.70" r="3.05" fill="#4e0c68" fill-opacity="0.65"/>
<circle cx="405.55" cy="174.82" r="3.05" fill="#4e0c68" fill-opacity="0.65"/>
<circle cx="409.99" cy="182.33" r="3.05" fill="#4e0c68" fill-opacity="0.65"/>
<circle cx="414.43" cy="186.65" r="3.05" fill="#4e0c68" fill-opacity="0.65"/>
<circle cx="418.87" cy="183.13" r="3.05" fill="#4e0c68" fill-opacity="0.65"/>
<circle cx="423.31" cy="186.33" r="3.05" fill="#4e0c68" fill-opacity="0.65"/>
<circle cx="427.75" cy="181.37" r="3.05" fill="#4e0c68" fill-opacity="0.65"/>
<circle cx="432.19" cy="163.32" r="3.05" fill="#4e0c68" fill-opacity="0.65"/>
<circle cx="436.63" cy="153.73" r="3.05" fill="#4e0c68" fill-opacity="0.65"/>
<circle cx="441.07" cy="170.83" r="3.05" fill="#4e0c68" fill-opacity="0.65"/>
<circle cx="445.51" cy="155.97" r="3.05" fill="#4e0c68" fill-opacity="0.65"/>
<circle cx="449.95" cy="174.18" r="3.05" fill="#4e0c68" fill-opacity="0.65"/>
<circle cx="454.39" cy="179.94" r="3.05" fill="#4e0c68" fill-opacity="0.65"/>
<circle cx="458.83" cy="158.20" r="3.05" fill="#4e0c68" fill-opacity="0.65"/>
<circle cx="463.27" cy="139.51" r="3.05" fill="#4e0c68" fill-opacity="0.65"/>
<circle cx="467.71" cy="168.59" r="3.05" fill="#4e0c68" fill-opacity="0.65"/>
<circle cx="472.15" cy="159.80" r="3.05" fill="#4e0c68" fill-opacity="0.65"/>
<circle cx="476.59" cy="160.92" r="3.05" fill="#4e0c68" fill-opacity="0.65"/>
<circle cx="481.03" cy="142.70" r="3.05" fill="#4e0c68" fill-opacity="0.65"/>
<circle cx="485.47" cy="154.05" r="3.05" fill="#4e0c68" fill-opacity="0.65"/>
<circle cx="489.91" cy="147.18" r="3.05" fill="#4e0c68" fill-opacity="0.65"/>
<circle cx="494.35" cy="164.91" r="3.05" fill="#4e0c68" fill-opacity="0.65"/>
<circle cx="498.79" cy="152.93" r="3.05" fill="#4e0c68" fill-opacity="0.65"/>
<circle cx="503.23" cy="152.93" r="3.05" fill="#4e0c68" fill-opacity="0.65"/>
<circle cx="507.67" cy="176.90" r="3.05" fill="#4e0c68" fill-opacity="0.65"/>
<circle cx="512.11" cy="159.00" r="3.05" fill="#4e0c68" fill-opacity="0.65"/>
<circle cx="516.55" cy="149.25" r="3.05" fill="#4e0c68" fill-opacity="0.65"/>
<rect x="371.92" y="164.28" width="5.10" height="5.10" fill="#21908c" fill-opacity="0.65"/>
<rect x="380.80" y="171.95" width="5.10" height="5.10" fill="#21908c" fill-opacity="0.65"/>
<rect x="385.24" y="184.26" width="5.10" height="5.10" fill="#21908c" fill-opacity="0.65"/>
<rect x="389.68" y="174.19" width="5.10" height="5.10" fill="#21908c" fill-opacity="0.65"/>
<rect x="394.12" y="174.67" width="5.10" height="5.10" fill="#21908c" fill-opacity="0.65"/>
<rect x="398.56" y="185.22" width="5.10" height="5.10" fill="#21908c" fill-opacity="0.65"/>
<rect x="403.00" y="180.74" width="5.10" height="5.10" fill="#21908c" fill-opacity="0.65"/>
<rect x="407.44" y="174.51" width="5.10" height="5.10" fill="#21908c" fill-opacity="0.65"/>
<rect x="411.88" y="184.10" width="5.10" height="5.10" fill="#21908c" fill-opacity="0.65"/>
<rect x="420.76" y="154.37" width="5.10" height="5.10" fill="#21908c" fill-opacity="0.65"/>
<rect x="425.20" y="184.10" width="5.10" height="5.10" fill="#21908c" fill-opacity="0.65"/>
<rect x="429.64" y="166.68" width="5.10" height="5.10" fill="#21908c" fill-opacity="0.65"/>
<rect x="438.52" y="168.28" width="5.10" height="5.10" fill="#21908c" fill-opacity="0.65"/>
<rect x="442.96" y="182.02" width="5.10" height="5.10" fill="#21908c" fill-opacity="0.65"/>
<rect x="451.84" y="177.39" width="5.10" height="5.10" fill="#21908c" fill-opacity="0.65"/>
<rect x="456.28" y="166.68" width="5.10" height="5.10" fill="#21908c" fill-opacity="0.65"/>
<rect x="460.72" y="170.51" width="5.10" height="5.10" fill="#21908c" fill-opacity="0.65"/>
<rect x="465.16" y="176.27" width="5.10" height="5.10" fill="#21908c" fill-opacity="0.65"/>
<rect x="469.60" y="168.92" width="5.10" height="5.10" fill="#21908c" fill-opacity="0.65"/>
<rect x="474.04" y="169.72" width="5.10" height="5.10" fill="#21908c" fill-opacity="0.65"/>
<rect x="478.48" y="170.03" width="5.10" height="5.10" fill="#21908c" fill-opacity="0.65"/>
<rect x="482.92" y="182.02" width="5.10" height="5.10" fill="#21908c" fill-opacity="0.65"/>
<rect x="487.36" y="169.40" width="5.10" height="5.10" fill="#21908c" fill-opacity="0.65"/>
<rect x="491.80" y="183.62" width="5.10" height="5.10" fill="#21908c" fill-opacity="0.65"/>
<rect x="496.24" y="168.28" width="5.10" height="5.10" fill="#21908c" fill-opacity="0.65"/>
<rect x="500.68" y="150.38" width="5.10" height="5.10" fill="#21908c" fill-opacity="0.65"/>
<rect x="505.12" y="163.80" width="5.10" height="5.10" fill="#21908c" fill-opacity="0.65"/>
<rect x="509.56" y="167.48" width="5.10" height="5.10" fill="#21908c" fill-opacity="0.65"/>
<rect x="514.00" y="170.51" width="5.10" height="5.10" fill="#21908c" fill-opacity="0.65"/>
<path d="M374.47 62.56L378.07 66.16L374.47 69.76L370.87 66.16Z" fill="#fae228" fill-opacity="0.65"/>
<path d="M378.91 29.00L382.51 32.60L378.91 36.20L375.31 32.60Z" fill="#fae228" fill-opacity="0.65"/>
<path d="M383.35 58.24L386.95 61.84L383.35 65.44L379.75 61.84Z" fill="#fae228" fill-opacity="0.65"/>
<path d="M387.79 54.57L391.39 58.17L387.79 61.77L384.19 58.17Z" fill="#fae228" fill-opacity="0.65"/>
<path d="M392.23 63.84L395.83 67.44L392.23 71.04L388.63 67.44Z" fill="#fae228" fill-opacity="0.65"/>
<path d="M396.67 60.16L400.27 63.76L396.67 67.36L393.07 63.76Z" fill="#fae228" fill-opacity="0.65"/>
<path d="M401.11 46.58L404.71 50.18L401.11 53.78L397.51 50.18Z" fill="#fae228" fill-opacity="0.65"/>
<path d="M405.55 54.09L409.15 57.69L405.55 61.29L401.95 57.69Z" fill="#fae228" fill-opacity="0.65"/>
<path d="M409.99 52.49L413.59 56.09L409.99 59.69L406.39 56.09Z" fill="#fae228" fill-opacity="0.65"/>
<path d="M414.43 44.98L418.03 48.58L414.43 52.18L410.83 48.58Z" fill="#fae228" fill-opacity="0.65"/>
<path d="M418.87 46.58L422.47 50.18L418.87 53.78L415.27 50.18Z" fill="#fae228" fill-opacity="0.65"/>
<path d="M423.31 82.37L426.91 85.97L423.31 89.57L419.71 85.97Z" fill="#fae228" fill-opacity="0.65"/>
<path d="M427.75 56.49L431.35 60.09L427.75 63.69L424.15 60.09Z" fill="#fae228" fill-opacity="0.65"/>
<path d="M432.19 97.07L435.79 100.67L432.19 104.27L428.59 100.67Z" fill="#fae228" fill-opacity="0.65"/>
<path d="M436.63 99.31L440.23 102.91L436.63 106.51L433.03 102.91Z" fill="#fae228" fill-opacity="0.65"/>
<path d="M441.07 92.60L444.67 96.20L441.07 99.80L437.47 96.20Z" fill="#fae228" fill-opacity="0.65"/>
<path d="M445.51 101.71L449.11 105.31L445.51 108.91L441.91 105.31Z" fill="#fae228" fill-opacity="0.65"/>
<path d="M449.95 58.24L453.55 61.84L449.95 65.44L446.35 61.84Z" fill="#fae228" fill-opacity="0.65"/>
<path d="M454.39 64.80L457.99 68.40L454.39 72.00L450.79 68.40Z" fill="#fae228" fill-opacity="0.65"/>
<path d="M458.83 91.64L462.43 95.24L458.83 98.84L455.23 95.24Z" fill="#fae228" fill-opacity="0.65"/>
<path d="M463.27 116.25L466.87 119.85L463.27 123.45L459.67 119.85Z" fill="#fae228" fill-opacity="0.65"/>
<path d="M467.71 84.29L471.31 87.89L467.71 91.49L464.11 87.89Z" fill="#fae228" fill-opacity="0.65"/>
<path d="M472.15 99.95L475.75 103.55L472.15 107.15L468.55 103.55Z" fill="#fae228" fill-opacity="0.65"/>
<path d="M476.59 108.90L480.19 112.50L476.59 116.10L472.99 112.50Z" fill="#fae228" fill-opacity="0.65"/>
<path d="M481.03 108.90L484.63 112.50L481.03 116.10L477.43 112.50Z" fill="#fae228" fill-opacity="0.65"/>
<path d="M485.47 82.21L489.07 85.81L485.47 89.41L481.87 85.81Z" fill="#fae228" fill-opacity="0.65"/>
<path d="M489.91 110.98L493.51 114.58L489.91 118.18L486.31 114.58Z" fill="#fae228" fill-opacity="0.65"/>
<path d="M494.35 80.14L497.95 83.74L494.35 87.34L490.75 83.74Z" fill="#fae228" fill-opacity="0.65"/>
<path d="M498.79 103.47L502.39 107.07L498.79 110.67L495.19 107.07Z" fill="#fae228" fill-opacity="0.65"/>
<path d="M503.23 110.50L506.83 114.10L503.23 117.70L499.63 114.10Z" fill="#fae228" fill-opacity="0.65"/>
<path d="M507.67 95.80L511.27 99.40L507.67 103.00L504.07 99.40Z" fill="#fae228" fill-opacity="0.65"/>
<path d="M512.11 111.62L515.71 115.22L512.11 118.82L508.51 115.22Z" fill="#fae228" fill-opacity="0.65"/>
<path d="M516.55 110.50L520.15 114.10L516.55 117.70L512.95 114.10Z" fill="#fae228" fill-opacity="0.65"/>
<polygon points="381.66,171.71 383.46,172.53 385.26,173.24 387.06,173.82 388.86,174.29 390.66,174.64 392.45,174.87 394.25,174.99 396.05,175.01 397.85,174.93 399.65,174.77 401.45,174.54 403.25,174.24 405.04,173.91 406.84,173.53 408.64,173.12 410.44,172.69 412.24,172.28 414.04,171.88 415.84,171.47 417.63,171.03 419.43,170.56 421.23,170.04 423.03,169.48 424.83,168.89 426.63,168.29 428.42,167.69 430.22,167.04 432.02,166.33 433.82,165.53 435.62,164.63 437.42,163.63 439.22,162.56 441.01,161.46 442.81,160.40 444.61,159.46 446.41,158.69 448.21,157.99 450.01,157.32 451.80,156.64 453.60,155.92 455.40,155.16 457.20,154.36 459.00,153.57 460.80,152.83 462.60,152.20 464.39,151.71 466.19,151.32 467.99,150.98 469.79,150.68 471.59,150.39 473.39,150.11 475.18,149.83 476.98,149.58 478.78,149.39 480.58,149.27 482.38,149.22 484.18,149.22 485.98,149.24 487.77,149.28 489.57,149.35 491.37,149.43 493.17,149.52 494.97,149.60 496.77,149.67 498.57,149.71 500.36,149.71 502.16,149.66 503.96,149.54 505.76,149.35 507.56,149.09 509.36,148.77 511.15,148.37 512.95,147.92 514.75,147.42 516.55,146.86 516.55,172.19 514.75,170.64 512.95,169.20 511.15,167.88 509.36,166.70 507.56,165.64 505.76,164.72 503.96,163.94 502.16,163.29 500.36,162.78 498.57,162.40 496.77,162.12 494.97,161.95 493.17,161.85 491.37,161.82 489.57,161.85 487.77,161.93 485.98,162.05 484.18,162.21 482.38,162.38 480.58,162.58 478.78,162.78 476.98,162.99 475.18,163.22 473.39,163.51 471.59,163.86 469.79,164.28 467.99,164.75 466.19,165.26 464.39,165.78 462.60,166.28 460.80,166.76 459.00,167.27 457.20,167.83 455.40,168.49 453.60,169.24 451.80,170.09 450.01,170.99 448.21,171.90 446.41,172.76 444.61,173.53 442.81,174.31 441.01,175.13 439.22,176.02 437.42,176.97 435.62,177.99 433.82,179.04 432.02,180.08 430.22,181.02 428.42,181.81 426.63,182.40 424.83,182.88 423.03,183.28 421.23,183.65 419.43,183.99 417.63,184.33 415.84,184.67 414.04,185.00 412.24,185.32 410.44,185.63 408.64,185.90 406.84,186.17 405.04,186.42 403.25,186.67 401.45,186.93 399.65,187.20 397.85,187.48 396.05,187.79 394.25,188.14 392.45,188.54 390.66,188.98 388.86,189.50 387.06,190.08 385.26,190.73 383.46,191.45 381.66,192.23" fill="#999" fill-opacity="0.2" clip-path="url(#c225)"/>
<polygon points="374.47,160.97 376.27,162.59 378.07,164.12 379.87,165.54 381.66,166.85 383.46,168.04 385.26,169.12 387.06,170.06 388.86,170.87 390.66,171.56 392.45,172.11 394.25,172.53 396.05,172.84 397.85,173.05 399.65,173.17 401.45,173.22 403.25,173.21 405.04,173.16 406.84,173.08 408.64,172.98 410.44,172.86 412.24,172.70 414.04,172.46 415.84,172.16 417.63,171.80 419.43,171.37 421.23,170.89 423.03,170.38 424.83,169.85 426.63,169.33 428.42,168.86 430.22,168.47 432.02,168.21 433.82,168.09 435.62,168.08 437.42,168.15 439.22,168.25 441.01,168.36 442.81,168.44 444.61,168.47 446.41,168.45 448.21,168.40 450.01,168.32 451.80,168.26 453.60,168.24 455.40,168.30 457.20,168.51 459.00,168.80 460.80,169.13 462.60,169.44 464.39,169.68 466.19,169.84 467.99,169.91 469.79,169.90 471.59,169.82 473.39,169.69 475.18,169.54 476.98,169.35 478.78,169.14 480.58,168.90 482.38,168.67 484.18,168.45 485.98,168.26 487.77,168.08 489.57,167.87 491.37,167.63 493.17,167.36 494.97,167.03 496.77,166.65 498.57,166.20 500.36,165.67 502.16,165.05 503.96,164.32 505.76,163.49 507.56,162.55 509.36,161.50 511.15,160.35 512.95,159.09 514.75,157.74 516.55,156.30 516.55,178.29 514.75,177.87 512.95,177.51 511.15,177.21 509.36,176.99 507.56,176.84 505.76,176.76 503.96,176.77 502.16,176.84 500.36,176.99 498.57,177.19 496.77,177.45 494.97,177.75 493.17,178.07 491.37,178.42 489.57,178.78 487.77,179.14 485.98,179.50 484.18,179.86 482.38,180.21 480.58,180.55 478.78,180.89 476.98,181.21 475.18,181.51 473.39,181.76 471.59,181.94 469.79,181.99 467.99,181.94 466.19,181.84 464.39,181.74 462.60,181.66 460.80,181.63 459.00,181.63 457.20,181.65 455.40,181.66 453.60,181.65 451.80,181.56 450.01,181.43 448.21,181.29 446.41,181.18 444.61,181.13 442.81,181.16 441.01,181.27 439.22,181.44 437.42,181.67 435.62,181.91 433.82,182.14 432.02,182.32 430.22,182.49 428.42,182.69 426.63,182.90 424.83,183.14 423.03,183.41 421.23,183.71 419.43,184.02 417.63,184.33 415.84,184.61 414.04,184.83 412.24,184.97 410.44,184.99 408.64,184.90 406.84,184.80 405.04,184.70 403.25,184.59 401.45,184.48 399.65,184.37 397.85,184.26 396.05,184.17 394.25,184.09 392.45,184.04 390.66,184.02 388.86,184.04 387.06,184.11 385.26,184.23 383.46,184.41 381.66,184.63 379.87,184.89 378.07,185.20 376.27,185.55 374.47,185.94" fill="#999" fill-opacity="0.2" clip-path="url(#c225)"/>
<polygon points="374.47,35.88 376.27,37.25 378.07,38.53 379.87,39.73 381.66,40.86 383.46,41.93 385.26,42.92 387.06,43.82 388.86,44.62 390.66,45.34 392.45,45.97 394.25,46.58 396.05,47.19 397.85,47.81 399.65,48.45 401.45,49.11 403.25,49.80 405.04,50.51 406.84,51.24 408.64,52.00 410.44,52.78 412.24,53.72 414.04,54.86 415.84,56.12 417.63,57.44 419.43,58.76 421.23,60.06 423.03,61.33 424.83,62.57 426.63,63.80 428.42,65.04 430.22,66.53 432.02,68.20 433.82,69.96 435.62,71.70 437.42,73.35 439.22,74.86 441.01,76.24 442.81,77.50 444.61,78.68 446.41,79.82 448.21,80.91 450.01,81.93 451.80,82.81 453.60,83.53 455.40,84.07 457.20,84.47 459.00,84.78 460.80,85.09 462.60,85.49 464.39,86.05 466.19,86.64 467.99,87.23 469.79,87.77 471.59,88.26 473.39,88.70 475.18,89.09 476.98,89.49 478.78,89.93 480.58,90.47 482.38,91.11 484.18,91.77 485.98,92.44 487.77,93.11 489.57,93.76 491.37,94.38 493.17,94.96 494.97,95.47 496.77,95.91 498.57,96.24 500.36,96.45 502.16,96.51 503.96,96.41 505.76,96.15 507.56,95.73 509.36,95.14 511.15,94.40 512.95,93.51 514.75,92.48 516.55,91.32 516.55,131.02 514.75,128.87 512.95,126.86 511.15,124.98 509.36,123.24 507.56,121.66 505.76,120.24 503.96,118.98 502.16,117.88 500.36,116.94 498.57,116.13 496.77,115.44 494.97,114.83 493.17,114.29 491.37,113.80 489.57,113.36 487.77,112.93 485.98,112.53 484.18,112.13 482.38,111.74 480.58,111.34 478.78,110.92 476.98,110.50 475.18,110.08 473.39,109.71 471.59,109.38 469.79,109.09 467.99,108.81 466.19,108.50 464.39,108.10 462.60,107.56 460.80,106.92 459.00,106.25 457.20,105.58 455.40,104.96 453.60,104.41 451.80,103.89 450.01,103.35 448.21,102.71 446.41,101.87 444.61,100.73 442.81,99.30 441.01,97.66 439.22,95.94 437.42,94.23 435.62,92.59 433.82,91.07 432.02,89.67 430.22,88.36 428.42,87.11 426.63,85.84 424.83,84.43 423.03,82.92 421.23,81.38 419.43,79.87 417.63,78.44 415.84,77.11 414.04,75.87 412.24,74.72 410.44,73.65 408.64,72.63 406.84,71.60 405.04,70.60 403.25,69.63 401.45,68.71 399.65,67.88 397.85,67.14 396.05,66.54 394.25,66.11 392.45,65.86 390.66,65.83 388.86,66.00 387.06,66.39 385.26,67.01 383.46,67.84 381.66,68.93 379.87,70.27 378.07,71.84 376.27,73.62 374.47,75.58" fill="#999" fill-opacity="0.2" clip-path="url(#c225)"/>
<circle cx="374.47" cy="183.77" r="3.05" fill="none" stroke="#404040" stroke-width="1.0"/>
<circle cx="383.35" cy="186.01" r="3.05" fill="none" stroke="#404040" stroke-width="1.0"/>
<circle cx="387.79" cy="182.01" r="3.05" fill="none" stroke="#404040" stroke-width="1.0"/>
<circle cx="392.23" cy="176.42" r="3.05" fill="none" stroke="#404040" stroke-width="1.0"/>
<circle cx="396.67" cy="174.66" r="3.05" fill="none" stroke="#404040" stroke-width="1.0"/>
<circle cx="401.11" cy="177.70" r="3.05" fill="none" stroke="#404040" stroke-width="1.0"/>
<circle cx="405.55" cy="174.82" r="3.05" fill="none" stroke="#404040" stroke-width="1.0"/>
<circle cx="409.99" cy="182.33" r="3.05" fill="none" stroke="#404040" stroke-width="1.0"/>
<circle cx="414.43" cy="186.65" r="3.05" fill="none" stroke="#404040" stroke-width="1.0"/>
<circle cx="418.87" cy="183.13" r="3.05" fill="none" stroke="#404040" stroke-width="1.0"/>
<circle cx="423.31" cy="186.33" r="3.05" fill="none" stroke="#404040" stroke-width="1.0"/>
<circle cx="427.75" cy="181.37" r="3.05" fill="none" stroke="#404040" stroke-width="1.0"/>
<circle cx="432.19" cy="163.32" r="3.05" fill="none" stroke="#404040" stroke-width="1.0"/>
<circle cx="436.63" cy="153.73" r="3.05" fill="none" stroke="#404040" stroke-width="1.0"/>
<circle cx="441.07" cy="170.83" r="3.05" fill="none" stroke="#404040" stroke-width="1.0"/>
<circle cx="445.51" cy="155.97" r="3.05" fill="none" stroke="#404040" stroke-width="1.0"/>
<circle cx="449.95" cy="174.18" r="3.05" fill="none" stroke="#404040" stroke-width="1.0"/>
<circle cx="454.39" cy="179.94" r="3.05" fill="none" stroke="#404040" stroke-width="1.0"/>
<circle cx="458.83" cy="158.20" r="3.05" fill="none" stroke="#404040" stroke-width="1.0"/>
<circle cx="463.27" cy="139.51" r="3.05" fill="none" stroke="#404040" stroke-width="1.0"/>
<circle cx="467.71" cy="168.59" r="3.05" fill="none" stroke="#404040" stroke-width="1.0"/>
<circle cx="472.15" cy="159.80" r="3.05" fill="none" stroke="#404040" stroke-width="1.0"/>
<circle cx="476.59" cy="160.92" r="3.05" fill="none" stroke="#404040" stroke-width="1.0"/>
<circle cx="481.03" cy="142.70" r="3.05" fill="none" stroke="#404040" stroke-width="1.0"/>
<circle cx="485.47" cy="154.05" r="3.05" fill="none" stroke="#404040" stroke-width="1.0"/>
<circle cx="489.91" cy="147.18" r="3.05" fill="none" stroke="#404040" stroke-width="1.0"/>
<circle cx="494.35" cy="164.91" r="3.05" fill="none" stroke="#404040" stroke-width="1.0"/>
<circle cx="498.79" cy="152.93" r="3.05" fill="none" stroke="#404040" stroke-width="1.0"/>
<circle cx="503.23" cy="152.93" r="3.05" fill="none" stroke="#404040" stroke-width="1.0"/>
<circle cx="507.67" cy="176.90" r="3.05" fill="none" stroke="#404040" stroke-width="1.0"/>
<circle cx="512.11" cy="159.00" r="3.05" fill="none" stroke="#404040" stroke-width="1.0"/>
<circle cx="516.55" cy="149.25" r="3.05" fill="none" stroke="#404040" stroke-width="1.0"/>
<rect x="371.92" y="164.28" width="5.10" height="5.10" fill="none" stroke="#404040" stroke-width="1.0"/>
<rect x="380.80" y="171.95" width="5.10" height="5.10" fill="none" stroke="#404040" stroke-width="1.0"/>
<rect x="385.24" y="184.26" width="5.10" height="5.10" fill="none" stroke="#404040" stroke-width="1.0"/>
<rect x="389.68" y="174.19" width="5.10" height="5.10" fill="none" stroke="#404040" stroke-width="1.0"/>
<rect x="394.12" y="174.67" width="5.10" height="5.10" fill="none" stroke="#404040" stroke-width="1.0"/>
<rect x="398.56" y="185.22" width="5.10" height="5.10" fill="none" stroke="#404040" stroke-width="1.0"/>
<rect x="403.00" y="180.74" width="5.10" height="5.10" fill="none" stroke="#404040" stroke-width="1.0"/>
<rect x="407.44" y="174.51" width="5.10" height="5.10" fill="none" stroke="#404040" stroke-width="1.0"/>
<rect x="411.88" y="184.10" width="5.10" height="5.10" fill="none" stroke="#404040" stroke-width="1.0"/>
<rect x="420.76" y="154.37" width="5.10" height="5.10" fill="none" stroke="#404040" stroke-width="1.0"/>
<rect x="425.20" y="184.10" width="5.10" height="5.10" fill="none" stroke="#404040" stroke-width="1.0"/>
<rect x="429.64" y="166.68" width="5.10" height="5.10" fill="none" stroke="#404040" stroke-width="1.0"/>
<rect x="438.52" y="168.28" width="5.10" height="5.10" fill="none" stroke="#404040" stroke-width="1.0"/>
<rect x="442.96" y="182.02" width="5.10" height="5.10" fill="none" stroke="#404040" stroke-width="1.0"/>
<rect x="451.84" y="177.39" width="5.10" height="5.10" fill="none" stroke="#404040" stroke-width="1.0"/>
<rect x="456.28" y="166.68" width="5.10" height="5.10" fill="none" stroke="#404040" stroke-width="1.0"/>
<rect x="460.72" y="170.51" width="5.10" height="5.10" fill="none" stroke="#404040" stroke-width="1.0"/>
<rect x="465.16" y="176.27" width="5.10" height="5.10" fill="none" stroke="#404040" stroke-width="1.0"/>
<rect x="469.60" y="168.92" width="5.10" height="5.10" fill="none" stroke="#404040" stroke-width="1.0"/>
<rect x="474.04" y="169.72" width="5.10" height="5.10" fill="none" stroke="#404040" stroke-width="1.0"/>
<rect x="478.48" y="170.03" width="5.10" height="5.10" fill="none" stroke="#404040" stroke-width="1.0"/>
<rect x="482.92" y="182.02" width="5.10" height="5.10" fill="none" stroke="#404040" stroke-width="1.0"/>
<rect x="487.36" y="169.40" width="5.10" height="5.10" fill="none" stroke="#404040" stroke-width="1.0"/>
<rect x="491.80" y="183.62" width="5.10" height="5.10" fill="none" stroke="#404040" stroke-width="1.0"/>
<rect x="496.24" y="168.28" width="5.10" height="5.10" fill="none" stroke="#404040" stroke-width="1.0"/>
<rect x="500.68" y="150.38" width="5.10" height="5.10" fill="none" stroke="#404040" stroke-width="1.0"/>
<rect x="505.12" y="163.80" width="5.10" height="5.10" fill="none" stroke="#404040" stroke-width="1.0"/>
<rect x="509.56" y="167.48" width="5.10" height="5.10" fill="none" stroke="#404040" stroke-width="1.0"/>
<rect x="514.00" y="170.51" width="5.10" height="5.10" fill="none" stroke="#404040" stroke-width="1.0"/>
<path d="M374.47 62.56L378.07 66.16L374.47 69.76L370.87 66.16Z" fill="none" stroke="#404040" stroke-width="1.0"/>
<path d="M378.91 29.00L382.51 32.60L378.91 36.20L375.31 32.60Z" fill="none" stroke="#404040" stroke-width="1.0"/>
<path d="M383.35 58.24L386.95 61.84L383.35 65.44L379.75 61.84Z" fill="none" stroke="#404040" stroke-width="1.0"/>
<path d="M387.79 54.57L391.39 58.17L387.79 61.77L384.19 58.17Z" fill="none" stroke="#404040" stroke-width="1.0"/>
<path d="M392.23 63.84L395.83 67.44L392.23 71.04L388.63 67.44Z" fill="none" stroke="#404040" stroke-width="1.0"/>
<path d="M396.67 60.16L400.27 63.76L396.67 67.36L393.07 63.76Z" fill="none" stroke="#404040" stroke-width="1.0"/>
<path d="M401.11 46.58L404.71 50.18L401.11 53.78L397.51 50.18Z" fill="none" stroke="#404040" stroke-width="1.0"/>
<path d="M405.55 54.09L409.15 57.69L405.55 61.29L401.95 57.69Z" fill="none" stroke="#404040" stroke-width="1.0"/>
<path d="M409.99 52.49L413.59 56.09L409.99 59.69L406.39 56.09Z" fill="none" stroke="#404040" stroke-width="1.0"/>
<path d="M414.43 44.98L418.03 48.58L414.43 52.18L410.83 48.58Z" fill="none" stroke="#404040" stroke-width="1.0"/>
<path d="M418.87 46.58L422.47 50.18L418.87 53.78L415.27 50.18Z" fill="none" stroke="#404040" stroke-width="1.0"/>
<path d="M423.31 82.37L426.91 85.97L423.31 89.57L419.71 85.97Z" fill="none" stroke="#404040" stroke-width="1.0"/>
<path d="M427.75 56.49L431.35 60.09L427.75 63.69L424.15 60.09Z" fill="none" stroke="#404040" stroke-width="1.0"/>
<path d="M432.19 97.07L435.79 100.67L432.19 104.27L428.59 100.67Z" fill="none" stroke="#404040" stroke-width="1.0"/>
<path d="M436.63 99.31L440.23 102.91L436.63 106.51L433.03 102.91Z" fill="none" stroke="#404040" stroke-width="1.0"/>
<path d="M441.07 92.60L444.67 96.20L441.07 99.80L437.47 96.20Z" fill="none" stroke="#404040" stroke-width="1.0"/>
<path d="M445.51 101.71L449.11 105.31L445.51 108.91L441.91 105.31Z" fill="none" stroke="#404040" stroke-width="1.0"/>
<path d="M449.95 58.24L453.55 61.84L449.95 65.44L446.35 61.84Z" fill="none" stroke="#404040" stroke-width="1.0"/>
<path d="M454.39 64.80L457.99 68.40L454.39 72.00L450.79 68.40Z" fill="none" stroke="#404040" stroke-width="1.0"/>
<path d="M458.83 91.64L462.43 95.24L458.83 98.84L455.23 95.24Z" fill="none" stroke="#404040" stroke-width="1.0"/>
<path d="M463.27 116.25L466.87 119.85L463.27 123.45L459.67 119.85Z" fill="none" stroke="#404040" stroke-width="1.0"/>
<path d="M467.71 84.29L471.31 87.89L467.71 91.49L464.11 87.89Z" fill="none" stroke="#404040" stroke-width="1.0"/>
<path d="M472.15 99.95L475.75 103.55L472.15 107.15L468.55 103.55Z" fill="none" stroke="#404040" stroke-width="1.0"/>
<path d="M476.59 108.90L480.19 112.50L476.59 116.10L472.99 112.50Z" fill="none" stroke="#404040" stroke-width="1.0"/>
<path d="M481.03 108.90L484.63 112.50L481.03 116.10L477.43 112.50Z" fill="none" stroke="#404040" stroke-width="1.0"/>
<path d="M485.47 82.21L489.07 85.81L485.47 89.41L481.87 85.81Z" fill="none" stroke="#404040" stroke-width="1.0"/>
<path d="M489.91 110.98L493.51 114.58L489.91 118.18L486.31 114.58Z" fill="none" stroke="#404040" stroke-width="1.0"/>
<path d="M494.35 80.14L497.95 83.74L494.35 87.34L490.75 83.74Z" fill="none" stroke="#404040" stroke-width="1.0"/>
<path d="M498.79 103.47L502.39 107.07L498.79 110.67L495.19 107.07Z" fill="none" stroke="#404040" stroke-width="1.0"/>
<path d="M503.23 110.50L506.83 114.10L503.23 117.70L499.63 114.10Z" fill="none" stroke="#404040" stroke-width="1.0"/>
<path d="M507.67 95.80L511.27 99.40L507.67 103.00L504.07 99.40Z" fill="none" stroke="#404040" stroke-width="1.0"/>
<path d="M512.11 111.62L515.71 115.22L512.11 118.82L508.51 115.22Z" fill="none" stroke="#404040" stroke-width="1.0"/>
<path d="M516.55 110.50L520.15 114.10L516.55 117.70L512.95 114.10Z" fill="none" stroke="#404040" stroke-width="1.0"/>
<circle cx="441.07" cy="170.83" r="3.05" fill="#4e0c68" fill-opacity="0.65"/><circle cx="441.07" cy="170.83" r="3.05" fill="none" stroke="#404040" stroke-width="1.0"/>
<circle cx="454.39" cy="179.94" r="3.05" fill="#4e0c68" fill-opacity="0.65"/><circle cx="454.39" cy="179.94" r="3.05" fill="none" stroke="#404040" stroke-width="1.0"/>
<polyline points="374.47,181.66 375.18,181.71 375.90,181.75 376.61,181.79 377.33,181.83 378.04,181.86 378.75,181.89 379.47,181.92 380.18,181.94 380.90,181.96 381.61,181.97 382.32,181.98 383.04,181.99 383.75,181.99 384.47,181.99 385.18,181.98 385.89,181.97 386.61,181.96 387.32,181.94 388.04,181.92 388.75,181.90 389.46,181.87 390.18,181.84 390.89,181.80 391.61,181.76 392.32,181.71 393.03,181.66 393.75,181.61 394.46,181.55 395.18,181.49 395.89,181.42 396.60,181.34 397.32,181.27 398.03,181.18 398.74,181.10 399.46,181.01 400.17,180.91 400.89,180.81 401.60,180.71 402.31,180.60 403.03,180.49 403.74,180.38 404.46,180.26 405.17,180.14 405.88,180.02 406.60,179.89 407.31,179.76 408.03,179.63 408.74,179.49 409.45,179.35 410.17,179.21 410.88,179.07 411.60,178.93 412.31,178.79 413.02,178.64 413.74,178.50 414.45,178.35 415.17,178.21 415.88,178.06 416.59,177.91 417.31,177.75 418.02,177.60 418.74,177.44 419.45,177.27 420.16,177.10 420.88,176.93 421.59,176.75 422.31,176.57 423.02,176.38 423.73,176.19 424.45,175.99 425.16,175.79 425.88,175.57 426.59,175.35 427.30,175.13 428.02,174.89 428.73,174.64 429.45,174.36 430.16,174.06 430.87,173.75 431.59,173.41 432.30,173.07 433.02,172.71 433.73,172.33 434.44,171.95 435.16,171.56 435.87,171.17 436.59,170.77 437.30,170.37 438.01,169.96 438.73,169.56 439.44,169.16 440.16,168.76 440.87,168.37 441.58,167.99 442.30,167.62 443.01,167.26 443.73,166.91 444.44,166.58 445.15,166.26 445.87,165.95 446.58,165.65 447.29,165.34 448.01,165.03 448.72,164.72 449.44,164.41 450.15,164.09 450.86,163.78 451.58,163.46 452.29,163.15 453.01,162.84 453.72,162.53 454.43,162.23 455.15,161.93 455.86,161.63 456.58,161.35 457.29,161.06 458.00,160.79 458.72,160.52 459.43,160.26 460.15,160.01 460.86,159.77 461.57,159.54 462.29,159.33 463.00,159.12 463.72,158.93 464.43,158.74 465.14,158.55 465.86,158.37 466.57,158.20 467.29,158.03 468.00,157.87 468.71,157.71 469.43,157.56 470.14,157.41 470.86,157.27 471.57,157.13 472.28,157.00 473.00,156.87 473.71,156.75 474.43,156.64 475.14,156.53 475.85,156.43 476.57,156.34 477.28,156.25 478.00,156.17 478.71,156.09 479.42,156.02 480.14,155.96 480.85,155.90 481.57,155.86 482.28,155.81 482.99,155.77 483.71,155.73 484.42,155.70 485.14,155.67 485.85,155.65 486.56,155.63 487.28,155.62 487.99,155.61 488.71,155.60 489.42,155.60 490.13,155.61 490.85,155.62 491.56,155.63 492.28,155.65 492.99,155.68 493.70,155.71 494.42,155.74 495.13,155.78 495.84,155.83 496.56,155.88 497.27,155.94 497.99,156.00 498.70,156.07 499.41,156.14 500.13,156.22 500.84,156.31 501.56,156.40 502.27,156.49 502.98,156.59 503.70,156.70 504.41,156.81 505.13,156.93 505.84,157.05 506.55,157.18 507.27,157.31 507.98,157.45 508.70,157.59 509.41,157.74 510.12,157.90 510.84,158.06 511.55,158.22 512.27,158.39 512.98,158.57 513.69,158.75 514.41,158.94 515.12,159.13 515.84,159.32 516.55,159.53" fill="none" stroke="#5e1e74" stroke-width="2.3" stroke-opacity="0.9" stroke-linejoin="round" clip-path="url(#c225)"/>
<polyline points="374.47,173.46 375.18,173.71 375.90,173.95 376.61,174.19 377.33,174.42 378.04,174.65 378.75,174.88 379.47,175.09 380.18,175.31 380.90,175.52 381.61,175.72 382.32,175.92 383.04,176.11 383.75,176.30 384.47,176.48 385.18,176.66 385.89,176.82 386.61,176.99 387.32,177.14 388.04,177.29 388.75,177.44 389.46,177.58 390.18,177.71 390.89,177.83 391.61,177.95 392.32,178.05 393.03,178.16 393.75,178.25 394.46,178.34 395.18,178.42 395.89,178.49 396.60,178.55 397.32,178.61 398.03,178.67 398.74,178.71 399.46,178.76 400.17,178.79 400.89,178.83 401.60,178.85 402.31,178.88 403.03,178.90 403.74,178.91 404.46,178.92 405.17,178.93 405.88,178.94 406.60,178.94 407.31,178.94 408.03,178.94 408.74,178.94 409.45,178.94 410.17,178.93 410.88,178.91 411.60,178.88 412.31,178.83 413.02,178.76 413.74,178.68 414.45,178.59 415.17,178.49 415.88,178.38 416.59,178.25 417.31,178.12 418.02,177.99 418.74,177.84 419.45,177.69 420.16,177.54 420.88,177.38 421.59,177.22 422.31,177.06 423.02,176.90 423.73,176.74 424.45,176.58 425.16,176.42 425.88,176.27 426.59,176.12 427.30,175.98 428.02,175.85 428.73,175.72 429.45,175.60 430.16,175.49 430.87,175.40 431.59,175.31 432.30,175.24 433.02,175.18 433.73,175.12 434.44,175.07 435.16,175.02 435.87,174.98 436.59,174.94 437.30,174.91 438.01,174.88 438.73,174.86 439.44,174.84 440.16,174.83 440.87,174.81 441.58,174.81 442.30,174.80 443.01,174.80 443.73,174.80 444.44,174.80 445.15,174.80 445.87,174.81 446.58,174.82 447.29,174.83 448.01,174.84 448.72,174.85 449.44,174.86 450.15,174.88 450.86,174.89 451.58,174.90 452.29,174.92 453.01,174.93 453.72,174.94 454.43,174.96 455.15,174.97 455.86,175.00 456.58,175.04 457.29,175.08 458.00,175.14 458.72,175.19 459.43,175.25 460.15,175.32 460.86,175.39 461.57,175.45 462.29,175.52 463.00,175.59 463.72,175.65 464.43,175.71 465.14,175.77 465.86,175.82 466.57,175.86 467.29,175.90 468.00,175.93 468.71,175.94 469.43,175.95 470.14,175.94 470.86,175.92 471.57,175.88 472.28,175.83 473.00,175.76 473.71,175.69 474.43,175.61 475.14,175.53 475.85,175.44 476.57,175.34 477.28,175.24 478.00,175.13 478.71,175.02 479.42,174.91 480.14,174.80 480.85,174.68 481.57,174.57 482.28,174.45 482.99,174.34 483.71,174.23 484.42,174.12 485.14,174.01 485.85,173.90 486.56,173.80 487.28,173.69 487.99,173.58 488.71,173.46 489.42,173.35 490.13,173.23 490.85,173.11 491.56,172.99 492.28,172.87 492.99,172.75 493.70,172.62 494.42,172.49 495.13,172.36 495.84,172.23 496.56,172.09 497.27,171.95 497.99,171.81 498.70,171.67 499.41,171.53 500.13,171.38 500.84,171.23 501.56,171.08 502.27,170.92 502.98,170.76 503.70,170.60 504.41,170.44 505.13,170.28 505.84,170.11 506.55,169.94 507.27,169.77 507.98,169.59 508.70,169.41 509.41,169.23 510.12,169.05 510.84,168.86 511.55,168.68 512.27,168.49 512.98,168.29 513.69,168.10 514.41,167.90 515.12,167.70 515.84,167.50 516.55,167.30" fill="none" stroke="#35908a" stroke-width="2.3" stroke-opacity="0.9" stroke-linejoin="round" clip-path="url(#c225)"/>
<polyline points="374.47,55.73 375.18,55.61 375.90,55.49 376.61,55.38 377.33,55.28 378.04,55.19 378.75,55.11 379.47,55.03 380.18,54.97 380.90,54.93 381.61,54.89 382.32,54.88 383.04,54.88 383.75,54.89 384.47,54.92 385.18,54.96 385.89,55.01 386.61,55.06 387.32,55.13 388.04,55.21 388.75,55.30 389.46,55.40 390.18,55.50 390.89,55.62 391.61,55.75 392.32,55.89 393.03,56.04 393.75,56.21 394.46,56.40 395.18,56.60 395.89,56.82 396.60,57.05 397.32,57.29 398.03,57.54 398.74,57.81 399.46,58.09 400.17,58.37 400.89,58.67 401.60,58.98 402.31,59.29 403.03,59.61 403.74,59.94 404.46,60.27 405.17,60.61 405.88,60.96 406.60,61.30 407.31,61.65 408.03,62.01 408.74,62.36 409.45,62.72 410.17,63.07 410.88,63.45 411.60,63.85 412.31,64.27 413.02,64.71 413.74,65.17 414.45,65.65 415.17,66.14 415.88,66.65 416.59,67.17 417.31,67.70 418.02,68.23 418.74,68.78 419.45,69.33 420.16,69.89 420.88,70.45 421.59,71.00 422.31,71.56 423.02,72.12 423.73,72.67 424.45,73.21 425.16,73.75 425.88,74.28 426.59,74.79 427.30,75.30 428.02,75.79 428.73,76.30 429.45,76.84 430.16,77.40 430.87,77.97 431.59,78.57 432.30,79.18 433.02,79.80 433.73,80.44 434.44,81.08 435.16,81.73 435.87,82.38 436.59,83.03 437.30,83.68 438.01,84.33 438.73,84.97 439.44,85.60 440.16,86.22 440.87,86.83 441.58,87.42 442.30,88.00 443.01,88.55 443.73,89.08 444.44,89.59 445.15,90.07 445.87,90.52 446.58,90.94 447.29,91.34 448.01,91.71 448.72,92.06 449.44,92.39 450.15,92.70 450.86,92.99 451.58,93.26 452.29,93.52 453.01,93.77 453.72,94.00 454.43,94.23 455.15,94.44 455.86,94.65 456.58,94.85 457.29,95.05 458.00,95.24 458.72,95.44 459.43,95.63 460.15,95.82 460.86,96.02 461.57,96.22 462.29,96.43 463.00,96.65 463.72,96.87 464.43,97.09 465.14,97.29 465.86,97.48 466.57,97.67 467.29,97.85 468.00,98.02 468.71,98.19 469.43,98.35 470.14,98.51 470.86,98.66 471.57,98.82 472.28,98.97 473.00,99.12 473.71,99.27 474.43,99.42 475.14,99.58 475.85,99.73 476.57,99.90 477.28,100.06 478.00,100.23 478.71,100.41 479.42,100.59 480.14,100.78 480.85,100.98 481.57,101.19 482.28,101.40 482.99,101.60 483.71,101.81 484.42,102.02 485.14,102.24 485.85,102.45 486.56,102.66 487.28,102.87 487.99,103.08 488.71,103.30 489.42,103.51 490.13,103.72 490.85,103.94 491.56,104.15 492.28,104.36 492.99,104.57 493.70,104.78 494.42,104.99 495.13,105.20 495.84,105.41 496.56,105.61 497.27,105.82 497.99,106.02 498.70,106.22 499.41,106.43 500.13,106.63 500.84,106.83 501.56,107.03 502.27,107.23 502.98,107.43 503.70,107.62 504.41,107.82 505.13,108.02 505.84,108.22 506.55,108.42 507.27,108.61 507.98,108.81 508.70,109.01 509.41,109.21 510.12,109.40 510.84,109.60 511.55,109.80 512.27,109.99 512.98,110.19 513.69,110.39 514.41,110.58 515.12,110.78 515.84,110.98 516.55,111.17" fill="none" stroke="#d6c858" stroke-width="2.3" stroke-opacity="0.9" stroke-linejoin="round" clip-path="url(#c225)"/>
<path d="M367.20 200.30V25.00H523.70V200.30" fill="none" stroke="#aaa" stroke-width="0.9"/>
<line x1="366.75" y1="200.30" x2="524.15" y2="200.30" stroke="#777" stroke-width="0.9"/>
<line x1="383.35" y1="200.30" x2="383.35" y2="204.30" stroke="#888" stroke-width="0.9"/>
<text x="383.35" y="213.80" text-anchor="middle" font-size="9.4" fill="#2a2a2a">1990</text>
<line x1="427.75" y1="200.30" x2="427.75" y2="204.30" stroke="#888" stroke-width="0.9"/>
<text x="427.75" y="213.80" text-anchor="middle" font-size="9.4" fill="#2a2a2a">2000</text>
<line x1="472.15" y1="200.30" x2="472.15" y2="204.30" stroke="#888" stroke-width="0.9"/>
<text x="472.15" y="213.80" text-anchor="middle" font-size="9.4" fill="#2a2a2a">2010</text>
<line x1="516.55" y1="200.30" x2="516.55" y2="204.30" stroke="#888" stroke-width="0.9"/>
<text x="516.55" y="213.80" text-anchor="middle" font-size="9.4" fill="#2a2a2a">2020</text>
<text x="116.45" y="249.30" text-anchor="middle" font-size="8.9" fill="#2a2a2a">Environmental advocacy groups</text>
<polygon points="57.72,383.49 59.41,384.49 61.09,385.41 62.78,386.23 64.47,386.97 66.15,387.62 67.84,388.18 69.52,388.66 71.21,389.06 72.90,389.38 74.58,389.63 76.27,389.81 77.96,389.94 79.64,390.02 81.33,390.06 83.01,390.06 84.70,390.03 86.39,389.98 88.07,389.91 89.76,389.83 91.44,389.74 93.13,389.64 94.82,389.53 96.50,389.51 98.19,389.57 99.87,389.69 101.56,389.85 103.25,390.02 104.93,390.18 106.62,390.31 108.30,390.39 109.99,390.42 111.68,390.37 113.36,390.25 115.05,389.99 116.73,389.58 118.42,388.99 120.11,388.24 121.79,387.37 123.48,386.42 125.17,385.49 126.85,384.47 128.54,383.10 130.22,381.39 131.91,379.40 133.60,377.22 135.28,375.04 136.97,373.09 138.65,371.63 140.34,370.80 142.03,370.39 143.71,370.18 145.40,369.97 147.08,369.62 148.77,369.13 150.46,368.52 152.14,367.88 153.83,367.33 155.51,366.87 157.20,366.37 158.89,365.76 160.57,364.97 162.26,364.00 163.94,362.86 165.63,361.58 167.32,360.20 169.00,358.71 170.69,357.08 172.38,355.25 174.06,353.18 175.75,350.82 177.43,348.11 179.12,345.02 180.81,341.51 182.49,337.58 184.18,333.24 185.86,328.53 187.55,323.45 187.55,360.92 185.86,361.86 184.18,362.92 182.49,364.13 180.81,365.49 179.12,367.01 177.43,368.67 175.75,370.45 174.06,372.31 172.38,374.21 170.69,376.14 169.00,378.03 167.32,379.88 165.63,381.66 163.94,383.26 162.26,384.59 160.57,385.71 158.89,386.73 157.20,387.69 155.51,388.61 153.83,389.46 152.14,390.19 150.46,390.59 148.77,390.61 147.08,390.48 145.40,390.42 143.71,390.61 142.03,391.09 140.34,391.84 138.65,392.82 136.97,394.04 135.28,395.52 133.60,397.24 131.91,399.18 130.22,401.21 128.54,403.18 126.85,404.84 125.17,405.95 123.48,406.71 121.79,407.37 120.11,407.98 118.42,408.56 116.73,409.13 115.05,409.66 113.36,410.11 111.68,410.41 109.99,410.65 108.30,410.88 106.62,411.11 104.93,411.35 103.25,411.61 101.56,411.87 99.87,412.14 98.19,412.41 96.50,412.67 94.82,412.91 93.13,413.14 91.44,413.34 89.76,413.51 88.07,413.67 86.39,413.82 84.70,413.96 83.01,414.11 81.33,414.27 79.64,414.46 77.96,414.68 76.27,414.95 74.58,415.27 72.90,415.66 71.21,416.13 69.52,416.68 67.84,417.33 66.15,418.08 64.47,418.93 62.78,419.89 61.09,420.97 59.41,422.17 57.72,423.48" fill="#999" fill-opacity="0.25" clip-path="url(#c0256)"/>
<polygon points="45.47,376.97 47.27,378.58 49.07,380.04 50.87,381.29 52.66,382.29 54.46,382.98 56.26,383.41 58.06,383.60 59.86,383.58 61.66,383.35 63.45,382.92 65.25,382.29 67.05,381.45 68.85,380.43 70.65,379.29 72.45,378.03 74.25,376.71 76.04,375.33 77.84,373.93 79.64,372.53 81.44,371.15 83.24,369.59 85.04,367.80 86.84,365.81 88.63,363.67 90.43,361.42 92.23,359.13 94.03,356.89 95.83,354.79 97.63,352.94 99.42,351.43 101.22,350.11 103.02,348.87 104.82,347.66 106.62,346.46 108.42,345.24 110.22,344.01 112.01,342.84 113.81,341.79 115.61,340.95 117.41,340.42 119.21,340.33 121.01,340.56 122.80,341.00 124.60,341.53 126.40,342.05 128.20,342.50 130.00,342.85 131.80,343.10 133.60,343.25 135.39,343.36 137.19,343.69 138.99,344.16 140.79,344.70 142.59,345.21 144.39,345.65 146.18,345.96 147.98,346.13 149.78,346.12 151.58,345.94 153.38,345.61 155.18,345.24 156.98,344.81 158.77,344.32 160.57,343.75 162.37,343.08 164.17,342.29 165.97,341.36 167.77,340.26 169.57,338.97 171.36,337.47 173.16,335.74 174.96,333.78 176.76,331.58 178.56,329.15 180.36,326.48 182.15,323.58 183.95,320.47 185.75,317.14 187.55,313.61 187.55,349.81 185.75,350.33 183.95,350.88 182.15,351.47 180.36,352.11 178.56,352.80 176.76,353.55 174.96,354.36 173.16,355.23 171.36,356.15 169.57,357.10 167.77,358.06 165.97,359.01 164.17,359.92 162.37,360.79 160.57,361.62 158.77,362.40 156.98,363.13 155.18,363.80 153.38,364.42 151.58,364.98 149.78,365.27 147.98,365.28 146.18,365.10 144.39,364.81 142.59,364.47 140.79,364.13 138.99,363.84 137.19,363.62 135.39,363.47 133.60,363.37 131.80,363.02 130.00,362.43 128.20,361.76 126.40,361.10 124.60,360.57 122.80,360.22 121.01,360.10 119.21,360.20 117.41,360.53 115.61,361.06 113.81,361.67 112.01,362.38 110.22,363.23 108.42,364.27 106.62,365.51 104.82,366.92 103.02,368.45 101.22,370.02 99.42,371.56 97.63,373.04 95.83,374.72 94.03,376.57 92.23,378.57 90.43,380.68 88.63,382.83 86.84,384.95 85.04,386.96 83.24,388.74 81.44,390.19 79.64,391.34 77.84,392.50 76.04,393.65 74.25,394.79 72.45,395.91 70.65,397.00 68.85,398.07 67.05,399.10 65.25,400.09 63.45,401.06 61.66,402.03 59.86,403.08 58.06,404.19 56.26,405.37 54.46,406.62 52.66,407.88 50.87,409.13 49.07,410.42 47.27,411.76 45.47,413.18" fill="#999" fill-opacity="0.25" clip-path="url(#c0256)"/>
<circle cx="54.35" cy="409.30" r="3.05" fill="#101010" fill-opacity="0.65"/>
<circle cx="67.67" cy="396.40" r="3.05" fill="#101010" fill-opacity="0.65"/>
<circle cx="94.31" cy="392.78" r="3.05" fill="#101010" fill-opacity="0.65"/>
<circle cx="98.75" cy="391.04" r="3.05" fill="#101010" fill-opacity="0.65"/>
<circle cx="107.63" cy="395.24" r="3.05" fill="#101010" fill-opacity="0.65"/>
<circle cx="112.07" cy="409.30" r="3.05" fill="#101010" fill-opacity="0.65"/>
<circle cx="116.51" cy="409.30" r="3.05" fill="#101010" fill-opacity="0.65"/>
<circle cx="120.95" cy="409.30" r="3.05" fill="#101010" fill-opacity="0.65"/>
<circle cx="125.39" cy="400.75" r="3.05" fill="#101010" fill-opacity="0.65"/>
<circle cx="129.83" cy="379.16" r="3.05" fill="#101010" fill-opacity="0.65"/>
<circle cx="134.27" cy="367.57" r="3.05" fill="#101010" fill-opacity="0.65"/>
<circle cx="138.71" cy="392.78" r="3.05" fill="#101010" fill-opacity="0.65"/>
<circle cx="143.15" cy="393.80" r="3.05" fill="#101010" fill-opacity="0.65"/>
<circle cx="147.59" cy="368.15" r="3.05" fill="#101010" fill-opacity="0.65"/>
<circle cx="152.03" cy="368.15" r="3.05" fill="#101010" fill-opacity="0.65"/>
<circle cx="156.47" cy="380.75" r="3.05" fill="#101010" fill-opacity="0.65"/>
<circle cx="160.91" cy="381.77" r="3.05" fill="#101010" fill-opacity="0.65"/>
<circle cx="165.35" cy="385.25" r="3.05" fill="#101010" fill-opacity="0.65"/>
<circle cx="169.79" cy="361.48" r="3.05" fill="#101010" fill-opacity="0.65"/>
<circle cx="174.23" cy="358.59" r="3.05" fill="#101010" fill-opacity="0.65"/>
<circle cx="178.67" cy="371.48" r="3.05" fill="#101010" fill-opacity="0.65"/>
<circle cx="183.11" cy="327.72" r="3.05" fill="#101010" fill-opacity="0.65"/>
<circle cx="187.55" cy="351.34" r="3.05" fill="#101010" fill-opacity="0.65"/>
<rect x="42.92" y="385.74" width="5.10" height="5.10" fill="#f0aa10" fill-opacity="0.65"/>
<rect x="47.36" y="387.33" width="5.10" height="5.10" fill="#f0aa10" fill-opacity="0.65"/>
<rect x="51.80" y="389.51" width="5.10" height="5.10" fill="#f0aa10" fill-opacity="0.65"/>
<rect x="56.24" y="391.39" width="5.10" height="5.10" fill="#f0aa10" fill-opacity="0.65"/>
<rect x="60.68" y="390.09" width="5.10" height="5.10" fill="#f0aa10" fill-opacity="0.65"/>
<rect x="65.12" y="406.75" width="5.10" height="5.10" fill="#f0aa10" fill-opacity="0.65"/>
<rect x="69.56" y="390.09" width="5.10" height="5.10" fill="#f0aa10" fill-opacity="0.65"/>
<rect x="74.00" y="406.75" width="5.10" height="5.10" fill="#f0aa10" fill-opacity="0.65"/>
<rect x="78.44" y="377.34" width="5.10" height="5.10" fill="#f0aa10" fill-opacity="0.65"/>
<rect x="82.88" y="372.26" width="5.10" height="5.10" fill="#f0aa10" fill-opacity="0.65"/>
<rect x="87.32" y="374.29" width="5.10" height="5.10" fill="#f0aa10" fill-opacity="0.65"/>
<rect x="91.76" y="374.29" width="5.10" height="5.10" fill="#f0aa10" fill-opacity="0.65"/>
<rect x="96.20" y="333.29" width="5.10" height="5.10" fill="#f0aa10" fill-opacity="0.65"/>
<rect x="100.64" y="359.22" width="5.10" height="5.10" fill="#f0aa10" fill-opacity="0.65"/>
<rect x="105.08" y="321.55" width="5.10" height="5.10" fill="#f0aa10" fill-opacity="0.65"/>
<rect x="109.52" y="355.02" width="5.10" height="5.10" fill="#f0aa10" fill-opacity="0.65"/>
<rect x="113.96" y="360.38" width="5.10" height="5.10" fill="#f0aa10" fill-opacity="0.65"/>
<rect x="118.40" y="365.02" width="5.10" height="5.10" fill="#f0aa10" fill-opacity="0.65"/>
<rect x="122.84" y="353.43" width="5.10" height="5.10" fill="#f0aa10" fill-opacity="0.65"/>
<rect x="127.28" y="346.04" width="5.10" height="5.10" fill="#f0aa10" fill-opacity="0.65"/>
<rect x="131.72" y="348.79" width="5.10" height="5.10" fill="#f0aa10" fill-opacity="0.65"/>
<rect x="136.16" y="325.90" width="5.10" height="5.10" fill="#f0aa10" fill-opacity="0.65"/>
<rect x="140.60" y="352.12" width="5.10" height="5.10" fill="#f0aa10" fill-opacity="0.65"/>
<rect x="145.04" y="374.00" width="5.10" height="5.10" fill="#f0aa10" fill-opacity="0.65"/>
<rect x="149.48" y="357.48" width="5.10" height="5.10" fill="#f0aa10" fill-opacity="0.65"/>
<rect x="153.92" y="340.10" width="5.10" height="5.10" fill="#f0aa10" fill-opacity="0.65"/>
<rect x="158.36" y="351.40" width="5.10" height="5.10" fill="#f0aa10" fill-opacity="0.65"/>
<rect x="162.80" y="350.09" width="5.10" height="5.10" fill="#f0aa10" fill-opacity="0.65"/>
<rect x="167.24" y="367.34" width="5.10" height="5.10" fill="#f0aa10" fill-opacity="0.65"/>
<rect x="171.68" y="355.75" width="5.10" height="5.10" fill="#f0aa10" fill-opacity="0.65"/>
<rect x="176.12" y="324.30" width="5.10" height="5.10" fill="#f0aa10" fill-opacity="0.65"/>
<rect x="180.56" y="335.31" width="5.10" height="5.10" fill="#f0aa10" fill-opacity="0.65"/>
<rect x="185.00" y="319.81" width="5.10" height="5.10" fill="#f0aa10" fill-opacity="0.65"/>
<polygon points="57.72,383.49 59.41,384.49 61.09,385.41 62.78,386.23 64.47,386.97 66.15,387.62 67.84,388.18 69.52,388.66 71.21,389.06 72.90,389.38 74.58,389.63 76.27,389.81 77.96,389.94 79.64,390.02 81.33,390.06 83.01,390.06 84.70,390.03 86.39,389.98 88.07,389.91 89.76,389.83 91.44,389.74 93.13,389.64 94.82,389.53 96.50,389.51 98.19,389.57 99.87,389.69 101.56,389.85 103.25,390.02 104.93,390.18 106.62,390.31 108.30,390.39 109.99,390.42 111.68,390.37 113.36,390.25 115.05,389.99 116.73,389.58 118.42,388.99 120.11,388.24 121.79,387.37 123.48,386.42 125.17,385.49 126.85,384.47 128.54,383.10 130.22,381.39 131.91,379.40 133.60,377.22 135.28,375.04 136.97,373.09 138.65,371.63 140.34,370.80 142.03,370.39 143.71,370.18 145.40,369.97 147.08,369.62 148.77,369.13 150.46,368.52 152.14,367.88 153.83,367.33 155.51,366.87 157.20,366.37 158.89,365.76 160.57,364.97 162.26,364.00 163.94,362.86 165.63,361.58 167.32,360.20 169.00,358.71 170.69,357.08 172.38,355.25 174.06,353.18 175.75,350.82 177.43,348.11 179.12,345.02 180.81,341.51 182.49,337.58 184.18,333.24 185.86,328.53 187.55,323.45 187.55,360.92 185.86,361.86 184.18,362.92 182.49,364.13 180.81,365.49 179.12,367.01 177.43,368.67 175.75,370.45 174.06,372.31 172.38,374.21 170.69,376.14 169.00,378.03 167.32,379.88 165.63,381.66 163.94,383.26 162.26,384.59 160.57,385.71 158.89,386.73 157.20,387.69 155.51,388.61 153.83,389.46 152.14,390.19 150.46,390.59 148.77,390.61 147.08,390.48 145.40,390.42 143.71,390.61 142.03,391.09 140.34,391.84 138.65,392.82 136.97,394.04 135.28,395.52 133.60,397.24 131.91,399.18 130.22,401.21 128.54,403.18 126.85,404.84 125.17,405.95 123.48,406.71 121.79,407.37 120.11,407.98 118.42,408.56 116.73,409.13 115.05,409.66 113.36,410.11 111.68,410.41 109.99,410.65 108.30,410.88 106.62,411.11 104.93,411.35 103.25,411.61 101.56,411.87 99.87,412.14 98.19,412.41 96.50,412.67 94.82,412.91 93.13,413.14 91.44,413.34 89.76,413.51 88.07,413.67 86.39,413.82 84.70,413.96 83.01,414.11 81.33,414.27 79.64,414.46 77.96,414.68 76.27,414.95 74.58,415.27 72.90,415.66 71.21,416.13 69.52,416.68 67.84,417.33 66.15,418.08 64.47,418.93 62.78,419.89 61.09,420.97 59.41,422.17 57.72,423.48" fill="#999" fill-opacity="0.2" clip-path="url(#c0256)"/>
<polygon points="45.47,376.97 47.27,378.58 49.07,380.04 50.87,381.29 52.66,382.29 54.46,382.98 56.26,383.41 58.06,383.60 59.86,383.58 61.66,383.35 63.45,382.92 65.25,382.29 67.05,381.45 68.85,380.43 70.65,379.29 72.45,378.03 74.25,376.71 76.04,375.33 77.84,373.93 79.64,372.53 81.44,371.15 83.24,369.59 85.04,367.80 86.84,365.81 88.63,363.67 90.43,361.42 92.23,359.13 94.03,356.89 95.83,354.79 97.63,352.94 99.42,351.43 101.22,350.11 103.02,348.87 104.82,347.66 106.62,346.46 108.42,345.24 110.22,344.01 112.01,342.84 113.81,341.79 115.61,340.95 117.41,340.42 119.21,340.33 121.01,340.56 122.80,341.00 124.60,341.53 126.40,342.05 128.20,342.50 130.00,342.85 131.80,343.10 133.60,343.25 135.39,343.36 137.19,343.69 138.99,344.16 140.79,344.70 142.59,345.21 144.39,345.65 146.18,345.96 147.98,346.13 149.78,346.12 151.58,345.94 153.38,345.61 155.18,345.24 156.98,344.81 158.77,344.32 160.57,343.75 162.37,343.08 164.17,342.29 165.97,341.36 167.77,340.26 169.57,338.97 171.36,337.47 173.16,335.74 174.96,333.78 176.76,331.58 178.56,329.15 180.36,326.48 182.15,323.58 183.95,320.47 185.75,317.14 187.55,313.61 187.55,349.81 185.75,350.33 183.95,350.88 182.15,351.47 180.36,352.11 178.56,352.80 176.76,353.55 174.96,354.36 173.16,355.23 171.36,356.15 169.57,357.10 167.77,358.06 165.97,359.01 164.17,359.92 162.37,360.79 160.57,361.62 158.77,362.40 156.98,363.13 155.18,363.80 153.38,364.42 151.58,364.98 149.78,365.27 147.98,365.28 146.18,365.10 144.39,364.81 142.59,364.47 140.79,364.13 138.99,363.84 137.19,363.62 135.39,363.47 133.60,363.37 131.80,363.02 130.00,362.43 128.20,361.76 126.40,361.10 124.60,360.57 122.80,360.22 121.01,360.10 119.21,360.20 117.41,360.53 115.61,361.06 113.81,361.67 112.01,362.38 110.22,363.23 108.42,364.27 106.62,365.51 104.82,366.92 103.02,368.45 101.22,370.02 99.42,371.56 97.63,373.04 95.83,374.72 94.03,376.57 92.23,378.57 90.43,380.68 88.63,382.83 86.84,384.95 85.04,386.96 83.24,388.74 81.44,390.19 79.64,391.34 77.84,392.50 76.04,393.65 74.25,394.79 72.45,395.91 70.65,397.00 68.85,398.07 67.05,399.10 65.25,400.09 63.45,401.06 61.66,402.03 59.86,403.08 58.06,404.19 56.26,405.37 54.46,406.62 52.66,407.88 50.87,409.13 49.07,410.42 47.27,411.76 45.47,413.18" fill="#999" fill-opacity="0.2" clip-path="url(#c0256)"/>
<circle cx="54.35" cy="409.30" r="3.05" fill="none" stroke="#404040" stroke-width="1.0"/>
<circle cx="67.67" cy="396.40" r="3.05" fill="none" stroke="#404040" stroke-width="1.0"/>
<circle cx="94.31" cy="392.78" r="3.05" fill="none" stroke="#404040" stroke-width="1.0"/>
<circle cx="98.75" cy="391.04" r="3.05" fill="none" stroke="#404040" stroke-width="1.0"/>
<circle cx="107.63" cy="395.24" r="3.05" fill="none" stroke="#404040" stroke-width="1.0"/>
<circle cx="112.07" cy="409.30" r="3.05" fill="none" stroke="#404040" stroke-width="1.0"/>
<circle cx="116.51" cy="409.30" r="3.05" fill="none" stroke="#404040" stroke-width="1.0"/>
<circle cx="120.95" cy="409.30" r="3.05" fill="none" stroke="#404040" stroke-width="1.0"/>
<circle cx="125.39" cy="400.75" r="3.05" fill="none" stroke="#404040" stroke-width="1.0"/>
<circle cx="129.83" cy="379.16" r="3.05" fill="none" stroke="#404040" stroke-width="1.0"/>
<circle cx="134.27" cy="367.57" r="3.05" fill="none" stroke="#404040" stroke-width="1.0"/>
<circle cx="138.71" cy="392.78" r="3.05" fill="none" stroke="#404040" stroke-width="1.0"/>
<circle cx="143.15" cy="393.80" r="3.05" fill="none" stroke="#404040" stroke-width="1.0"/>
<circle cx="147.59" cy="368.15" r="3.05" fill="none" stroke="#404040" stroke-width="1.0"/>
<circle cx="152.03" cy="368.15" r="3.05" fill="none" stroke="#404040" stroke-width="1.0"/>
<circle cx="156.47" cy="380.75" r="3.05" fill="none" stroke="#404040" stroke-width="1.0"/>
<circle cx="160.91" cy="381.77" r="3.05" fill="none" stroke="#404040" stroke-width="1.0"/>
<circle cx="165.35" cy="385.25" r="3.05" fill="none" stroke="#404040" stroke-width="1.0"/>
<circle cx="169.79" cy="361.48" r="3.05" fill="none" stroke="#404040" stroke-width="1.0"/>
<circle cx="174.23" cy="358.59" r="3.05" fill="none" stroke="#404040" stroke-width="1.0"/>
<circle cx="178.67" cy="371.48" r="3.05" fill="none" stroke="#404040" stroke-width="1.0"/>
<circle cx="183.11" cy="327.72" r="3.05" fill="none" stroke="#404040" stroke-width="1.0"/>
<circle cx="187.55" cy="351.34" r="3.05" fill="none" stroke="#404040" stroke-width="1.0"/>
<rect x="42.92" y="385.74" width="5.10" height="5.10" fill="none" stroke="#404040" stroke-width="1.0"/>
<rect x="47.36" y="387.33" width="5.10" height="5.10" fill="none" stroke="#404040" stroke-width="1.0"/>
<rect x="51.80" y="389.51" width="5.10" height="5.10" fill="none" stroke="#404040" stroke-width="1.0"/>
<rect x="56.24" y="391.39" width="5.10" height="5.10" fill="none" stroke="#404040" stroke-width="1.0"/>
<rect x="60.68" y="390.09" width="5.10" height="5.10" fill="none" stroke="#404040" stroke-width="1.0"/>
<rect x="65.12" y="406.75" width="5.10" height="5.10" fill="none" stroke="#404040" stroke-width="1.0"/>
<rect x="69.56" y="390.09" width="5.10" height="5.10" fill="none" stroke="#404040" stroke-width="1.0"/>
<rect x="74.00" y="406.75" width="5.10" height="5.10" fill="none" stroke="#404040" stroke-width="1.0"/>
<rect x="78.44" y="377.34" width="5.10" height="5.10" fill="none" stroke="#404040" stroke-width="1.0"/>
<rect x="82.88" y="372.26" width="5.10" height="5.10" fill="none" stroke="#404040" stroke-width="1.0"/>
<rect x="87.32" y="374.29" width="5.10" height="5.10" fill="none" stroke="#404040" stroke-width="1.0"/>
<rect x="91.76" y="374.29" width="5.10" height="5.10" fill="none" stroke="#404040" stroke-width="1.0"/>
<rect x="96.20" y="333.29" width="5.10" height="5.10" fill="none" stroke="#404040" stroke-width="1.0"/>
<rect x="100.64" y="359.22" width="5.10" height="5.10" fill="none" stroke="#404040" stroke-width="1.0"/>
<rect x="105.08" y="321.55" width="5.10" height="5.10" fill="none" stroke="#404040" stroke-width="1.0"/>
<rect x="109.52" y="355.02" width="5.10" height="5.10" fill="none" stroke="#404040" stroke-width="1.0"/>
<rect x="113.96" y="360.38" width="5.10" height="5.10" fill="none" stroke="#404040" stroke-width="1.0"/>
<rect x="118.40" y="365.02" width="5.10" height="5.10" fill="none" stroke="#404040" stroke-width="1.0"/>
<rect x="122.84" y="353.43" width="5.10" height="5.10" fill="none" stroke="#404040" stroke-width="1.0"/>
<rect x="127.28" y="346.04" width="5.10" height="5.10" fill="none" stroke="#404040" stroke-width="1.0"/>
<rect x="131.72" y="348.79" width="5.10" height="5.10" fill="none" stroke="#404040" stroke-width="1.0"/>
<rect x="136.16" y="325.90" width="5.10" height="5.10" fill="none" stroke="#404040" stroke-width="1.0"/>
<rect x="140.60" y="352.12" width="5.10" height="5.10" fill="none" stroke="#404040" stroke-width="1.0"/>
<rect x="145.04" y="374.00" width="5.10" height="5.10" fill="none" stroke="#404040" stroke-width="1.0"/>
<rect x="149.48" y="357.48" width="5.10" height="5.10" fill="none" stroke="#404040" stroke-width="1.0"/>
<rect x="153.92" y="340.10" width="5.10" height="5.10" fill="none" stroke="#404040" stroke-width="1.0"/>
<rect x="158.36" y="351.40" width="5.10" height="5.10" fill="none" stroke="#404040" stroke-width="1.0"/>
<rect x="162.80" y="350.09" width="5.10" height="5.10" fill="none" stroke="#404040" stroke-width="1.0"/>
<rect x="167.24" y="367.34" width="5.10" height="5.10" fill="none" stroke="#404040" stroke-width="1.0"/>
<rect x="171.68" y="355.75" width="5.10" height="5.10" fill="none" stroke="#404040" stroke-width="1.0"/>
<rect x="176.12" y="324.30" width="5.10" height="5.10" fill="none" stroke="#404040" stroke-width="1.0"/>
<rect x="180.56" y="335.31" width="5.10" height="5.10" fill="none" stroke="#404040" stroke-width="1.0"/>
<rect x="185.00" y="319.81" width="5.10" height="5.10" fill="none" stroke="#404040" stroke-width="1.0"/>
<polyline points="54.35,403.85 55.02,403.77 55.69,403.70 56.36,403.63 57.03,403.56 57.70,403.49 58.37,403.42 59.04,403.36 59.70,403.30 60.37,403.25 61.04,403.19 61.71,403.14 62.38,403.09 63.05,403.04 63.72,403.00 64.39,402.96 65.06,402.91 65.73,402.87 66.40,402.84 67.07,402.80 67.74,402.76 68.41,402.73 69.08,402.69 69.74,402.66 70.41,402.63 71.08,402.60 71.75,402.57 72.42,402.54 73.09,402.51 73.76,402.49 74.43,402.46 75.10,402.43 75.77,402.40 76.44,402.38 77.11,402.35 77.78,402.32 78.45,402.29 79.12,402.26 79.79,402.23 80.45,402.21 81.12,402.17 81.79,402.14 82.46,402.11 83.13,402.08 83.80,402.04 84.47,402.01 85.14,401.97 85.81,401.93 86.48,401.89 87.15,401.85 87.82,401.81 88.49,401.76 89.16,401.72 89.83,401.67 90.49,401.61 91.16,401.56 91.83,401.50 92.50,401.45 93.17,401.38 93.84,401.32 94.51,401.25 95.18,401.19 95.85,401.14 96.52,401.09 97.19,401.04 97.86,401.01 98.53,400.97 99.20,400.94 99.87,400.92 100.53,400.89 101.20,400.87 101.87,400.85 102.54,400.83 103.21,400.82 103.88,400.80 104.55,400.78 105.22,400.76 105.89,400.74 106.56,400.71 107.23,400.69 107.90,400.66 108.57,400.62 109.24,400.58 109.91,400.54 110.58,400.49 111.24,400.43 111.91,400.37 112.58,400.29 113.25,400.20 113.92,400.08 114.59,399.94 115.26,399.78 115.93,399.60 116.60,399.40 117.27,399.18 117.94,398.95 118.61,398.71 119.28,398.45 119.95,398.18 120.62,397.89 121.28,397.60 121.95,397.29 122.62,396.98 123.29,396.66 123.96,396.33 124.63,395.99 125.30,395.65 125.97,395.27 126.64,394.82 127.31,394.28 127.98,393.68 128.65,393.02 129.32,392.32 129.99,391.57 130.66,390.80 131.32,390.00 131.99,389.18 132.66,388.36 133.33,387.55 134.00,386.75 134.67,385.96 135.34,385.21 136.01,384.50 136.68,383.83 137.35,383.22 138.02,382.68 138.69,382.20 139.36,381.80 140.03,381.46 140.70,381.17 141.37,380.93 142.03,380.74 142.70,380.58 143.37,380.45 144.04,380.35 144.71,380.27 145.38,380.20 146.05,380.14 146.72,380.08 147.39,380.02 148.06,379.95 148.73,379.87 149.40,379.77 150.07,379.65 150.74,379.49 151.41,379.30 152.07,379.06 152.74,378.81 153.41,378.55 154.08,378.30 154.75,378.04 155.42,377.77 156.09,377.50 156.76,377.22 157.43,376.93 158.10,376.63 158.77,376.30 159.44,375.96 160.11,375.61 160.78,375.22 161.45,374.82 162.11,374.39 162.78,373.93 163.45,373.44 164.12,372.92 164.79,372.37 165.46,371.77 166.13,371.16 166.80,370.54 167.47,369.90 168.14,369.24 168.81,368.57 169.48,367.89 170.15,367.19 170.82,366.47 171.49,365.73 172.16,364.98 172.82,364.21 173.49,363.43 174.16,362.62 174.83,361.79 175.50,360.95 176.17,360.08 176.84,359.20 177.51,358.29 178.18,357.36 178.85,356.41 179.52,355.43 180.19,354.44 180.86,353.42 181.53,352.39 182.20,351.33 182.86,350.25 183.53,349.16 184.20,348.04 184.87,346.91 185.54,345.75 186.21,344.58 186.88,343.39 187.55,342.19" fill="none" stroke="#333333" stroke-width="2.3" stroke-opacity="0.9" stroke-linejoin="round" clip-path="url(#c0256)"/>
<polyline points="45.47,395.08 46.18,395.11 46.90,395.15 47.61,395.18 48.33,395.21 49.04,395.23 49.75,395.23 50.47,395.22 51.18,395.20 51.90,395.15 52.61,395.09 53.32,395.00 54.04,394.88 54.75,394.74 55.47,394.58 56.18,394.41 56.89,394.23 57.61,394.03 58.32,393.82 59.04,393.60 59.75,393.36 60.46,393.12 61.18,392.87 61.89,392.60 62.61,392.33 63.32,392.05 64.03,391.75 64.75,391.43 65.46,391.09 66.18,390.73 66.89,390.36 67.60,389.97 68.32,389.56 69.03,389.14 69.74,388.71 70.46,388.26 71.17,387.81 71.89,387.34 72.60,386.87 73.31,386.39 74.03,385.90 74.74,385.40 75.46,384.90 76.17,384.40 76.88,383.89 77.60,383.39 78.31,382.88 79.03,382.37 79.74,381.87 80.45,381.37 81.17,380.87 81.88,380.33 82.60,379.74 83.31,379.10 84.02,378.41 84.74,377.69 85.45,376.93 86.17,376.15 86.88,375.33 87.59,374.50 88.31,373.64 89.02,372.78 89.74,371.90 90.45,371.03 91.16,370.15 91.88,369.28 92.59,368.42 93.31,367.57 94.02,366.74 94.73,365.93 95.45,365.15 96.16,364.41 96.88,363.69 97.59,363.02 98.30,362.40 99.02,361.82 99.73,361.25 100.45,360.68 101.16,360.11 101.87,359.55 102.59,358.99 103.30,358.44 104.02,357.89 104.73,357.36 105.44,356.83 106.16,356.31 106.87,355.80 107.59,355.31 108.30,354.83 109.01,354.37 109.73,353.92 110.44,353.49 111.16,353.08 111.87,352.69 112.58,352.32 113.30,351.97 114.01,351.64 114.73,351.34 115.44,351.07 116.15,350.82 116.87,350.60 117.58,350.44 118.29,350.33 119.01,350.27 119.72,350.26 120.44,350.28 121.15,350.35 121.86,350.44 122.58,350.57 123.29,350.72 124.01,350.89 124.72,351.08 125.43,351.29 126.15,351.50 126.86,351.72 127.58,351.94 128.29,352.16 129.00,352.37 129.72,352.57 130.43,352.76 131.15,352.92 131.86,353.07 132.57,353.19 133.29,353.28 134.00,353.34 134.72,353.37 135.43,353.42 136.14,353.50 136.86,353.60 137.57,353.72 138.29,353.86 139.00,354.01 139.71,354.16 140.43,354.33 141.14,354.50 141.86,354.67 142.57,354.83 143.28,355.00 144.00,355.15 144.71,355.29 145.43,355.42 146.14,355.53 146.85,355.62 147.57,355.68 148.28,355.72 149.00,355.73 149.71,355.70 150.42,355.64 151.14,355.54 151.85,355.40 152.57,355.22 153.28,355.04 153.99,354.85 154.71,354.65 155.42,354.45 156.14,354.23 156.85,354.01 157.56,353.78 158.28,353.54 158.99,353.28 159.71,353.02 160.42,352.75 161.13,352.46 161.85,352.16 162.56,351.85 163.28,351.53 163.99,351.19 164.70,350.84 165.42,350.48 166.13,350.09 166.84,349.70 167.56,349.29 168.27,348.86 168.99,348.41 169.70,347.95 170.41,347.47 171.13,346.97 171.84,346.46 172.56,345.94 173.27,345.40 173.98,344.85 174.70,344.28 175.41,343.70 176.13,343.11 176.84,342.50 177.55,341.87 178.27,341.24 178.98,340.59 179.70,339.92 180.41,339.24 181.12,338.55 181.84,337.84 182.55,337.12 183.27,336.39 183.98,335.64 184.69,334.88 185.41,334.11 186.12,333.32 186.84,332.52 187.55,331.71" fill="none" stroke="#d49a28" stroke-width="2.3" stroke-opacity="0.9" stroke-linejoin="round" clip-path="url(#c0256)"/>
<path d="M38.20 431.80V256.60H194.70V431.80" fill="none" stroke="#aaa" stroke-width="0.9"/>
<line x1="37.75" y1="431.80" x2="195.15" y2="431.80" stroke="#777" stroke-width="0.9"/>
<line x1="54.35" y1="431.80" x2="54.35" y2="435.80" stroke="#888" stroke-width="0.9"/>
<text x="54.35" y="445.30" text-anchor="middle" font-size="9.4" fill="#2a2a2a">1990</text>
<line x1="98.75" y1="431.80" x2="98.75" y2="435.80" stroke="#888" stroke-width="0.9"/>
<text x="98.75" y="445.30" text-anchor="middle" font-size="9.4" fill="#2a2a2a">2000</text>
<line x1="143.15" y1="431.80" x2="143.15" y2="435.80" stroke="#888" stroke-width="0.9"/>
<text x="143.15" y="445.30" text-anchor="middle" font-size="9.4" fill="#2a2a2a">2010</text>
<line x1="187.55" y1="431.80" x2="187.55" y2="435.80" stroke="#888" stroke-width="0.9"/>
<text x="187.55" y="445.30" text-anchor="middle" font-size="9.4" fill="#2a2a2a">2020</text>
<line x1="34.20" y1="409.30" x2="38.20" y2="409.30" stroke="#888" stroke-width="0.9"/>
<text x="30.20" y="412.40" text-anchor="end" font-size="8.9" fill="#2a2a2a">0</text>
<line x1="34.20" y1="373.07" x2="38.20" y2="373.07" stroke="#888" stroke-width="0.9"/>
<text x="30.20" y="376.18" text-anchor="end" font-size="8.9" fill="#2a2a2a">2.5</text>
<line x1="34.20" y1="336.85" x2="38.20" y2="336.85" stroke="#888" stroke-width="0.9"/>
<text x="30.20" y="339.95" text-anchor="end" font-size="8.9" fill="#2a2a2a">5.0</text>
<line x1="34.20" y1="300.62" x2="38.20" y2="300.62" stroke="#888" stroke-width="0.9"/>
<text x="30.20" y="303.73" text-anchor="end" font-size="8.9" fill="#2a2a2a">7.5</text>
<line x1="34.20" y1="264.40" x2="38.20" y2="264.40" stroke="#888" stroke-width="0.9"/>
<text x="30.20" y="267.50" text-anchor="end" font-size="8.9" fill="#2a2a2a">10.0</text>
<text x="280.85" y="249.30" text-anchor="middle" font-size="8.9" fill="#2a2a2a">Federal government</text>
<polygon points="218.75,403.35 220.44,403.74 222.12,404.10 223.81,404.42 225.49,404.72 227.18,404.98 228.87,405.21 230.55,405.41 232.24,405.57 233.92,405.71 235.61,405.82 237.30,405.91 238.98,405.97 240.67,406.01 242.36,406.03 244.04,406.03 245.73,406.03 247.41,406.01 249.10,405.98 250.79,405.94 252.47,405.90 254.16,405.86 255.84,405.81 257.53,405.77 259.22,405.72 260.90,405.68 262.59,405.63 264.27,405.58 265.96,405.53 267.65,405.46 269.33,405.39 271.02,405.32 272.70,405.23 274.39,405.14 276.08,405.05 277.76,404.96 279.45,404.85 281.13,404.71 282.82,404.56 284.51,404.40 286.19,404.25 287.88,404.11 289.57,404.03 291.25,404.04 292.94,404.13 294.62,404.26 296.31,404.39 298.00,404.50 299.68,404.58 301.37,404.65 303.05,404.71 304.74,404.83 306.43,405.00 308.11,405.18 309.80,405.32 311.48,405.41 313.17,405.45 314.86,405.45 316.54,405.46 318.23,405.47 319.91,405.49 321.60,405.50 323.29,405.49 324.97,405.47 326.66,405.45 328.34,405.47 330.03,405.53 331.72,405.62 333.40,405.70 335.09,405.77 336.78,405.82 338.46,405.84 340.15,405.82 341.83,405.75 343.52,405.62 345.21,405.44 346.89,405.18 348.58,404.86 350.26,404.48 351.95,404.04 351.95,413.97 350.26,413.31 348.58,412.73 346.89,412.22 345.21,411.79 343.52,411.45 341.83,411.20 340.15,411.02 338.46,410.90 336.78,410.84 335.09,410.82 333.40,410.82 331.72,410.83 330.03,410.85 328.34,410.87 326.66,410.91 324.97,410.97 323.29,411.05 321.60,411.15 319.91,411.25 318.23,411.34 316.54,411.37 314.86,411.30 313.17,411.14 311.48,410.94 309.80,410.74 308.11,410.59 306.43,410.48 304.74,410.40 303.05,410.33 301.37,410.20 299.68,410.01 298.00,409.80 296.31,409.63 294.62,409.51 292.94,409.45 291.25,409.43 289.57,409.45 287.88,409.49 286.19,409.54 284.51,409.63 282.82,409.75 281.13,409.89 279.45,410.06 277.76,410.22 276.08,410.36 274.39,410.50 272.70,410.66 271.02,410.83 269.33,411.00 267.65,411.18 265.96,411.36 264.27,411.53 262.59,411.68 260.90,411.81 259.22,411.92 257.53,412.00 255.84,412.07 254.16,412.13 252.47,412.20 250.79,412.26 249.10,412.32 247.41,412.38 245.73,412.44 244.04,412.51 242.36,412.58 240.67,412.67 238.98,412.76 237.30,412.87 235.61,413.00 233.92,413.14 232.24,413.30 230.55,413.48 228.87,413.68 227.18,413.90 225.49,414.14 223.81,414.40 222.12,414.69 220.44,415.00 218.75,415.33" fill="#999" fill-opacity="0.25" clip-path="url(#c1256)"/>
<polygon points="209.87,381.79 211.67,382.48 213.47,383.08 215.27,383.56 217.06,383.90 218.86,384.09 220.66,384.13 222.46,384.03 224.26,383.80 226.06,383.44 227.85,382.97 229.65,382.41 231.45,381.78 233.25,381.11 235.05,380.41 236.85,379.70 238.65,379.00 240.44,378.31 242.24,377.66 244.04,377.04 245.84,376.46 247.64,375.95 249.44,375.48 251.24,375.03 253.03,374.57 254.83,374.08 256.63,373.57 258.43,373.06 260.23,372.60 262.03,372.24 263.82,372.04 265.62,372.10 267.42,372.35 269.22,372.70 271.02,373.05 272.82,373.35 274.62,373.55 276.41,373.68 278.21,373.76 280.01,373.84 281.81,373.98 283.61,374.20 285.41,374.45 287.20,374.68 289.00,374.83 290.80,374.88 292.60,374.84 294.40,374.77 296.20,374.74 298.00,374.83 299.79,375.10 301.59,375.45 303.39,375.83 305.19,376.23 306.99,376.61 308.79,376.99 310.58,377.38 312.38,377.82 314.18,378.35 315.98,379.04 317.78,379.88 319.58,380.78 321.38,381.73 323.17,382.71 324.97,383.73 326.77,384.77 328.57,385.82 330.37,386.86 332.17,387.89 333.97,388.87 335.76,389.78 337.56,390.61 339.36,391.33 341.16,391.94 342.96,392.43 344.76,392.81 344.76,421.29 342.96,418.71 341.16,416.34 339.36,414.19 337.56,412.26 335.76,410.54 333.97,409.01 332.17,407.67 330.37,406.47 328.57,405.40 326.77,404.45 324.97,403.58 323.17,402.80 321.38,402.07 319.58,401.41 317.78,400.78 315.98,400.19 314.18,399.62 312.38,399.10 310.58,398.64 308.79,398.27 306.99,398.00 305.19,397.82 303.39,397.70 301.59,397.59 299.79,397.44 298.00,397.19 296.20,396.86 294.40,396.52 292.60,396.23 290.80,396.04 289.00,395.98 287.20,396.03 285.41,396.15 283.61,396.28 281.81,396.32 280.01,396.18 278.21,395.84 276.41,395.38 274.62,394.90 272.82,394.50 271.02,394.21 269.22,394.09 267.42,394.10 265.62,394.22 263.82,394.39 262.03,394.57 260.23,394.74 258.43,394.92 256.63,395.16 254.83,395.46 253.03,395.85 251.24,396.29 249.44,396.77 247.64,397.22 245.84,397.61 244.04,397.93 242.24,398.28 240.44,398.66 238.65,399.08 236.85,399.56 235.05,400.09 233.25,400.69 231.45,401.39 229.65,402.19 227.85,403.11 226.06,404.19 224.26,405.45 222.46,406.90 220.66,408.53 218.86,410.35 217.06,412.33 215.27,414.49 213.47,416.83 211.67,419.33 209.87,422.01" fill="#999" fill-opacity="0.25" clip-path="url(#c1256)"/>
<circle cx="218.75" cy="409.30" r="3.05" fill="#101010" fill-opacity="0.65"/>
<circle cx="232.07" cy="409.30" r="3.05" fill="#101010" fill-opacity="0.65"/>
<circle cx="258.71" cy="409.30" r="3.05" fill="#101010" fill-opacity="0.65"/>
<circle cx="263.15" cy="409.30" r="3.05" fill="#101010" fill-opacity="0.65"/>
<circle cx="272.03" cy="409.30" r="3.05" fill="#101010" fill-opacity="0.65"/>
<circle cx="276.47" cy="409.30" r="3.05" fill="#101010" fill-opacity="0.65"/>
<circle cx="280.91" cy="409.30" r="3.05" fill="#101010" fill-opacity="0.65"/>
<circle cx="285.35" cy="398.72" r="3.05" fill="#101010" fill-opacity="0.65"/>
<circle cx="289.79" cy="409.30" r="3.05" fill="#101010" fill-opacity="0.65"/>
<circle cx="294.23" cy="409.30" r="3.05" fill="#101010" fill-opacity="0.65"/>
<circle cx="298.67" cy="409.30" r="3.05" fill="#101010" fill-opacity="0.65"/>
<circle cx="303.11" cy="401.04" r="3.05" fill="#101010" fill-opacity="0.65"/>
<circle cx="307.55" cy="409.30" r="3.05" fill="#101010" fill-opacity="0.65"/>
<circle cx="311.99" cy="409.30" r="3.05" fill="#101010" fill-opacity="0.65"/>
<circle cx="316.43" cy="409.30" r="3.05" fill="#101010" fill-opacity="0.65"/>
<circle cx="320.87" cy="409.30" r="3.05" fill="#101010" fill-opacity="0.65"/>
<circle cx="325.31" cy="409.30" r="3.05" fill="#101010" fill-opacity="0.65"/>
<circle cx="329.75" cy="409.30" r="3.05" fill="#101010" fill-opacity="0.65"/>
<circle cx="334.19" cy="401.33" r="3.05" fill="#101010" fill-opacity="0.65"/>
<circle cx="338.63" cy="409.30" r="3.05" fill="#101010" fill-opacity="0.65"/>
<circle cx="343.07" cy="409.30" r="3.05" fill="#101010" fill-opacity="0.65"/>
<circle cx="347.51" cy="409.30" r="3.05" fill="#101010" fill-opacity="0.65"/>
<circle cx="351.95" cy="409.30" r="3.05" fill="#101010" fill-opacity="0.65"/>
<rect x="207.32" y="406.75" width="5.10" height="5.10" fill="#f0aa10" fill-opacity="0.65"/>
<rect x="211.76" y="406.75" width="5.10" height="5.10" fill="#f0aa10" fill-opacity="0.65"/>
<rect x="216.20" y="354.15" width="5.10" height="5.10" fill="#f0aa10" fill-opacity="0.65"/>
<rect x="220.64" y="406.75" width="5.10" height="5.10" fill="#f0aa10" fill-opacity="0.65"/>
<rect x="225.08" y="390.09" width="5.10" height="5.10" fill="#f0aa10" fill-opacity="0.65"/>
<rect x="229.52" y="381.54" width="5.10" height="5.10" fill="#f0aa10" fill-opacity="0.65"/>
<rect x="233.96" y="406.75" width="5.10" height="5.10" fill="#f0aa10" fill-opacity="0.65"/>
<rect x="238.40" y="391.68" width="5.10" height="5.10" fill="#f0aa10" fill-opacity="0.65"/>
<rect x="242.84" y="406.75" width="5.10" height="5.10" fill="#f0aa10" fill-opacity="0.65"/>
<rect x="247.28" y="389.07" width="5.10" height="5.10" fill="#f0aa10" fill-opacity="0.65"/>
<rect x="251.72" y="341.11" width="5.10" height="5.10" fill="#f0aa10" fill-opacity="0.65"/>
<rect x="256.16" y="374.00" width="5.10" height="5.10" fill="#f0aa10" fill-opacity="0.65"/>
<rect x="260.60" y="369.80" width="5.10" height="5.10" fill="#f0aa10" fill-opacity="0.65"/>
<rect x="265.04" y="406.75" width="5.10" height="5.10" fill="#f0aa10" fill-opacity="0.65"/>
<rect x="269.48" y="392.55" width="5.10" height="5.10" fill="#f0aa10" fill-opacity="0.65"/>
<rect x="273.92" y="372.26" width="5.10" height="5.10" fill="#f0aa10" fill-opacity="0.65"/>
<rect x="278.36" y="375.45" width="5.10" height="5.10" fill="#f0aa10" fill-opacity="0.65"/>
<rect x="282.80" y="386.03" width="5.10" height="5.10" fill="#f0aa10" fill-opacity="0.65"/>
<rect x="287.24" y="389.36" width="5.10" height="5.10" fill="#f0aa10" fill-opacity="0.65"/>
<rect x="291.68" y="376.47" width="5.10" height="5.10" fill="#f0aa10" fill-opacity="0.65"/>
<rect x="296.12" y="406.75" width="5.10" height="5.10" fill="#f0aa10" fill-opacity="0.65"/>
<rect x="300.56" y="374.29" width="5.10" height="5.10" fill="#f0aa10" fill-opacity="0.65"/>
<rect x="305.00" y="375.31" width="5.10" height="5.10" fill="#f0aa10" fill-opacity="0.65"/>
<rect x="309.44" y="382.12" width="5.10" height="5.10" fill="#f0aa10" fill-opacity="0.65"/>
<rect x="313.88" y="390.23" width="5.10" height="5.10" fill="#f0aa10" fill-opacity="0.65"/>
<rect x="318.32" y="378.20" width="5.10" height="5.10" fill="#f0aa10" fill-opacity="0.65"/>
<rect x="322.76" y="397.19" width="5.10" height="5.10" fill="#f0aa10" fill-opacity="0.65"/>
<rect x="327.20" y="390.09" width="5.10" height="5.10" fill="#f0aa10" fill-opacity="0.65"/>
<rect x="331.64" y="406.75" width="5.10" height="5.10" fill="#f0aa10" fill-opacity="0.65"/>
<rect x="336.08" y="398.20" width="5.10" height="5.10" fill="#f0aa10" fill-opacity="0.65"/>
<rect x="340.52" y="406.75" width="5.10" height="5.10" fill="#f0aa10" fill-opacity="0.65"/>
<rect x="344.96" y="406.75" width="5.10" height="5.10" fill="#f0aa10" fill-opacity="0.65"/>
<rect x="349.40" y="406.75" width="5.10" height="5.10" fill="#f0aa10" fill-opacity="0.65"/>
<polygon points="218.75,403.35 220.44,403.74 222.12,404.10 223.81,404.42 225.49,404.72 227.18,404.98 228.87,405.21 230.55,405.41 232.24,405.57 233.92,405.71 235.61,405.82 237.30,405.91 238.98,405.97 240.67,406.01 242.36,406.03 244.04,406.03 245.73,406.03 247.41,406.01 249.10,405.98 250.79,405.94 252.47,405.90 254.16,405.86 255.84,405.81 257.53,405.77 259.22,405.72 260.90,405.68 262.59,405.63 264.27,405.58 265.96,405.53 267.65,405.46 269.33,405.39 271.02,405.32 272.70,405.23 274.39,405.14 276.08,405.05 277.76,404.96 279.45,404.85 281.13,404.71 282.82,404.56 284.51,404.40 286.19,404.25 287.88,404.11 289.57,404.03 291.25,404.04 292.94,404.13 294.62,404.26 296.31,404.39 298.00,404.50 299.68,404.58 301.37,404.65 303.05,404.71 304.74,404.83 306.43,405.00 308.11,405.18 309.80,405.32 311.48,405.41 313.17,405.45 314.86,405.45 316.54,405.46 318.23,405.47 319.91,405.49 321.60,405.50 323.29,405.49 324.97,405.47 326.66,405.45 328.34,405.47 330.03,405.53 331.72,405.62 333.40,405.70 335.09,405.77 336.78,405.82 338.46,405.84 340.15,405.82 341.83,405.75 343.52,405.62 345.21,405.44 346.89,405.18 348.58,404.86 350.26,404.48 351.95,404.04 351.95,413.97 350.26,413.31 348.58,412.73 346.89,412.22 345.21,411.79 343.52,411.45 341.83,411.20 340.15,411.02 338.46,410.90 336.78,410.84 335.09,410.82 333.40,410.82 331.72,410.83 330.03,410.85 328.34,410.87 326.66,410.91 324.97,410.97 323.29,411.05 321.60,411.15 319.91,411.25 318.23,411.34 316.54,411.37 314.86,411.30 313.17,411.14 311.48,410.94 309.80,410.74 308.11,410.59 306.43,410.48 304.74,410.40 303.05,410.33 301.37,410.20 299.68,410.01 298.00,409.80 296.31,409.63 294.62,409.51 292.94,409.45 291.25,409.43 289.57,409.45 287.88,409.49 286.19,409.54 284.51,409.63 282.82,409.75 281.13,409.89 279.45,410.06 277.76,410.22 276.08,410.36 274.39,410.50 272.70,410.66 271.02,410.83 269.33,411.00 267.65,411.18 265.96,411.36 264.27,411.53 262.59,411.68 260.90,411.81 259.22,411.92 257.53,412.00 255.84,412.07 254.16,412.13 252.47,412.20 250.79,412.26 249.10,412.32 247.41,412.38 245.73,412.44 244.04,412.51 242.36,412.58 240.67,412.67 238.98,412.76 237.30,412.87 235.61,413.00 233.92,413.14 232.24,413.30 230.55,413.48 228.87,413.68 227.18,413.90 225.49,414.14 223.81,414.40 222.12,414.69 220.44,415.00 218.75,415.33" fill="#999" fill-opacity="0.2" clip-path="url(#c1256)"/>
<polygon points="209.87,381.79 211.67,382.48 213.47,383.08 215.27,383.56 217.06,383.90 218.86,384.09 220.66,384.13 222.46,384.03 224.26,383.80 226.06,383.44 227.85,382.97 229.65,382.41 231.45,381.78 233.25,381.11 235.05,380.41 236.85,379.70 238.65,379.00 240.44,378.31 242.24,377.66 244.04,377.04 245.84,376.46 247.64,375.95 249.44,375.48 251.24,375.03 253.03,374.57 254.83,374.08 256.63,373.57 258.43,373.06 260.23,372.60 262.03,372.24 263.82,372.04 265.62,372.10 267.42,372.35 269.22,372.70 271.02,373.05 272.82,373.35 274.62,373.55 276.41,373.68 278.21,373.76 280.01,373.84 281.81,373.98 283.61,374.20 285.41,374.45 287.20,374.68 289.00,374.83 290.80,374.88 292.60,374.84 294.40,374.77 296.20,374.74 298.00,374.83 299.79,375.10 301.59,375.45 303.39,375.83 305.19,376.23 306.99,376.61 308.79,376.99 310.58,377.38 312.38,377.82 314.18,378.35 315.98,379.04 317.78,379.88 319.58,380.78 321.38,381.73 323.17,382.71 324.97,383.73 326.77,384.77 328.57,385.82 330.37,386.86 332.17,387.89 333.97,388.87 335.76,389.78 337.56,390.61 339.36,391.33 341.16,391.94 342.96,392.43 344.76,392.81 344.76,421.29 342.96,418.71 341.16,416.34 339.36,414.19 337.56,412.26 335.76,410.54 333.97,409.01 332.17,407.67 330.37,406.47 328.57,405.40 326.77,404.45 324.97,403.58 323.17,402.80 321.38,402.07 319.58,401.41 317.78,400.78 315.98,400.19 314.18,399.62 312.38,399.10 310.58,398.64 308.79,398.27 306.99,398.00 305.19,397.82 303.39,397.70 301.59,397.59 299.79,397.44 298.00,397.19 296.20,396.86 294.40,396.52 292.60,396.23 290.80,396.04 289.00,395.98 287.20,396.03 285.41,396.15 283.61,396.28 281.81,396.32 280.01,396.18 278.21,395.84 276.41,395.38 274.62,394.90 272.82,394.50 271.02,394.21 269.22,394.09 267.42,394.10 265.62,394.22 263.82,394.39 262.03,394.57 260.23,394.74 258.43,394.92 256.63,395.16 254.83,395.46 253.03,395.85 251.24,396.29 249.44,396.77 247.64,397.22 245.84,397.61 244.04,397.93 242.24,398.28 240.44,398.66 238.65,399.08 236.85,399.56 235.05,400.09 233.25,400.69 231.45,401.39 229.65,402.19 227.85,403.11 226.06,404.19 224.26,405.45 222.46,406.90 220.66,408.53 218.86,410.35 217.06,412.33 215.27,414.49 213.47,416.83 211.67,419.33 209.87,422.01" fill="#999" fill-opacity="0.2" clip-path="url(#c1256)"/>
<circle cx="218.75" cy="409.30" r="3.05" fill="none" stroke="#404040" stroke-width="1.0"/>
<circle cx="232.07" cy="409.30" r="3.05" fill="none" stroke="#404040" stroke-width="1.0"/>
<circle cx="258.71" cy="409.30" r="3.05" fill="none" stroke="#404040" stroke-width="1.0"/>
<circle cx="263.15" cy="409.30" r="3.05" fill="none" stroke="#404040" stroke-width="1.0"/>
<circle cx="272.03" cy="409.30" r="3.05" fill="none" stroke="#404040" stroke-width="1.0"/>
<circle cx="276.47" cy="409.30" r="3.05" fill="none" stroke="#404040" stroke-width="1.0"/>
<circle cx="280.91" cy="409.30" r="3.05" fill="none" stroke="#404040" stroke-width="1.0"/>
<circle cx="285.35" cy="398.72" r="3.05" fill="none" stroke="#404040" stroke-width="1.0"/>
<circle cx="289.79" cy="409.30" r="3.05" fill="none" stroke="#404040" stroke-width="1.0"/>
<circle cx="294.23" cy="409.30" r="3.05" fill="none" stroke="#404040" stroke-width="1.0"/>
<circle cx="298.67" cy="409.30" r="3.05" fill="none" stroke="#404040" stroke-width="1.0"/>
<circle cx="303.11" cy="401.04" r="3.05" fill="none" stroke="#404040" stroke-width="1.0"/>
<circle cx="307.55" cy="409.30" r="3.05" fill="none" stroke="#404040" stroke-width="1.0"/>
<circle cx="311.99" cy="409.30" r="3.05" fill="none" stroke="#404040" stroke-width="1.0"/>
<circle cx="316.43" cy="409.30" r="3.05" fill="none" stroke="#404040" stroke-width="1.0"/>
<circle cx="320.87" cy="409.30" r="3.05" fill="none" stroke="#404040" stroke-width="1.0"/>
<circle cx="325.31" cy="409.30" r="3.05" fill="none" stroke="#404040" stroke-width="1.0"/>
<circle cx="329.75" cy="409.30" r="3.05" fill="none" stroke="#404040" stroke-width="1.0"/>
<circle cx="334.19" cy="401.33" r="3.05" fill="none" stroke="#404040" stroke-width="1.0"/>
<circle cx="338.63" cy="409.30" r="3.05" fill="none" stroke="#404040" stroke-width="1.0"/>
<circle cx="343.07" cy="409.30" r="3.05" fill="none" stroke="#404040" stroke-width="1.0"/>
<circle cx="347.51" cy="409.30" r="3.05" fill="none" stroke="#404040" stroke-width="1.0"/>
<circle cx="351.95" cy="409.30" r="3.05" fill="none" stroke="#404040" stroke-width="1.0"/>
<rect x="207.32" y="406.75" width="5.10" height="5.10" fill="none" stroke="#404040" stroke-width="1.0"/>
<rect x="211.76" y="406.75" width="5.10" height="5.10" fill="none" stroke="#404040" stroke-width="1.0"/>
<rect x="216.20" y="354.15" width="5.10" height="5.10" fill="none" stroke="#404040" stroke-width="1.0"/>
<rect x="220.64" y="406.75" width="5.10" height="5.10" fill="none" stroke="#404040" stroke-width="1.0"/>
<rect x="225.08" y="390.09" width="5.10" height="5.10" fill="none" stroke="#404040" stroke-width="1.0"/>
<rect x="229.52" y="381.54" width="5.10" height="5.10" fill="none" stroke="#404040" stroke-width="1.0"/>
<rect x="233.96" y="406.75" width="5.10" height="5.10" fill="none" stroke="#404040" stroke-width="1.0"/>
<rect x="238.40" y="391.68" width="5.10" height="5.10" fill="none" stroke="#404040" stroke-width="1.0"/>
<rect x="242.84" y="406.75" width="5.10" height="5.10" fill="none" stroke="#404040" stroke-width="1.0"/>
<rect x="247.28" y="389.07" width="5.10" height="5.10" fill="none" stroke="#404040" stroke-width="1.0"/>
<rect x="251.72" y="341.11" width="5.10" height="5.10" fill="none" stroke="#404040" stroke-width="1.0"/>
<rect x="256.16" y="374.00" width="5.10" height="5.10" fill="none" stroke="#404040" stroke-width="1.0"/>
<rect x="260.60" y="369.80" width="5.10" height="5.10" fill="none" stroke="#404040" stroke-width="1.0"/>
<rect x="265.04" y="406.75" width="5.10" height="5.10" fill="none" stroke="#404040" stroke-width="1.0"/>
<rect x="269.48" y="392.55" width="5.10" height="5.10" fill="none" stroke="#404040" stroke-width="1.0"/>
<rect x="273.92" y="372.26" width="5.10" height="5.10" fill="none" stroke="#404040" stroke-width="1.0"/>
<rect x="278.36" y="375.45" width="5.10" height="5.10" fill="none" stroke="#404040" stroke-width="1.0"/>
<rect x="282.80" y="386.03" width="5.10" height="5.10" fill="none" stroke="#404040" stroke-width="1.0"/>
<rect x="287.24" y="389.36" width="5.10" height="5.10" fill="none" stroke="#404040" stroke-width="1.0"/>
<rect x="291.68" y="376.47" width="5.10" height="5.10" fill="none" stroke="#404040" stroke-width="1.0"/>
<rect x="296.12" y="406.75" width="5.10" height="5.10" fill="none" stroke="#404040" stroke-width="1.0"/>
<rect x="300.56" y="374.29" width="5.10" height="5.10" fill="none" stroke="#404040" stroke-width="1.0"/>
<rect x="305.00" y="375.31" width="5.10" height="5.10" fill="none" stroke="#404040" stroke-width="1.0"/>
<rect x="309.44" y="382.12" width="5.10" height="5.10" fill="none" stroke="#404040" stroke-width="1.0"/>
<rect x="313.88" y="390.23" width="5.10" height="5.10" fill="none" stroke="#404040" stroke-width="1.0"/>
<rect x="318.32" y="378.20" width="5.10" height="5.10" fill="none" stroke="#404040" stroke-width="1.0"/>
<rect x="322.76" y="397.19" width="5.10" height="5.10" fill="none" stroke="#404040" stroke-width="1.0"/>
<rect x="327.20" y="390.09" width="5.10" height="5.10" fill="none" stroke="#404040" stroke-width="1.0"/>
<rect x="331.64" y="406.75" width="5.10" height="5.10" fill="none" stroke="#404040" stroke-width="1.0"/>
<rect x="336.08" y="398.20" width="5.10" height="5.10" fill="none" stroke="#404040" stroke-width="1.0"/>
<rect x="340.52" y="406.75" width="5.10" height="5.10" fill="none" stroke="#404040" stroke-width="1.0"/>
<rect x="344.96" y="406.75" width="5.10" height="5.10" fill="none" stroke="#404040" stroke-width="1.0"/>
<rect x="349.40" y="406.75" width="5.10" height="5.10" fill="none" stroke="#404040" stroke-width="1.0"/>
<polyline points="218.75,409.34 219.42,409.35 220.09,409.36 220.76,409.37 221.43,409.38 222.10,409.39 222.77,409.40 223.44,409.41 224.10,409.42 224.77,409.42 225.44,409.43 226.11,409.43 226.78,409.44 227.45,409.44 228.12,409.44 228.79,409.44 229.46,409.44 230.13,409.44 230.80,409.44 231.47,409.44 232.14,409.44 232.81,409.43 233.48,409.43 234.14,409.42 234.81,409.42 235.48,409.41 236.15,409.40 236.82,409.40 237.49,409.39 238.16,409.38 238.83,409.37 239.50,409.36 240.17,409.35 240.84,409.34 241.51,409.32 242.18,409.31 242.85,409.30 243.52,409.28 244.19,409.27 244.85,409.25 245.52,409.24 246.19,409.22 246.86,409.21 247.53,409.19 248.20,409.17 248.87,409.15 249.54,409.14 250.21,409.12 250.88,409.10 251.55,409.08 252.22,409.06 252.89,409.04 253.56,409.02 254.23,408.99 254.89,408.97 255.56,408.95 256.23,408.93 256.90,408.90 257.57,408.88 258.24,408.86 258.91,408.83 259.58,408.81 260.25,408.78 260.92,408.75 261.59,408.71 262.26,408.68 262.93,408.64 263.60,408.60 264.27,408.56 264.93,408.51 265.60,408.47 266.27,408.42 266.94,408.37 267.61,408.33 268.28,408.28 268.95,408.23 269.62,408.18 270.29,408.13 270.96,408.08 271.63,408.03 272.30,407.98 272.97,407.93 273.64,407.88 274.31,407.83 274.98,407.78 275.64,407.74 276.31,407.69 276.98,407.65 277.65,407.60 278.32,407.54 278.99,407.49 279.66,407.43 280.33,407.38 281.00,407.32 281.67,407.26 282.34,407.20 283.01,407.14 283.68,407.08 284.35,407.03 285.02,406.98 285.68,406.93 286.35,406.88 287.02,406.84 287.69,406.81 288.36,406.78 289.03,406.75 289.70,406.74 290.37,406.73 291.04,406.73 291.71,406.74 292.38,406.76 293.05,406.79 293.72,406.83 294.39,406.87 295.06,406.91 295.72,406.96 296.39,407.02 297.06,407.07 297.73,407.13 298.40,407.19 299.07,407.24 299.74,407.30 300.41,407.35 301.08,407.40 301.75,407.45 302.42,407.49 303.09,407.52 303.76,407.55 304.43,407.59 305.10,407.64 305.77,407.69 306.43,407.74 307.10,407.80 307.77,407.86 308.44,407.91 309.11,407.97 309.78,408.03 310.45,408.09 311.12,408.15 311.79,408.20 312.46,408.25 313.13,408.29 313.80,408.33 314.47,408.36 315.14,408.39 315.81,408.40 316.47,408.41 317.14,408.41 317.81,408.41 318.48,408.40 319.15,408.39 319.82,408.37 320.49,408.36 321.16,408.34 321.83,408.32 322.50,408.29 323.17,408.27 323.84,408.25 324.51,408.23 325.18,408.21 325.85,408.20 326.51,408.18 327.18,408.18 327.85,408.17 328.52,408.17 329.19,408.18 329.86,408.19 330.53,408.20 331.20,408.21 331.87,408.23 332.54,408.24 333.21,408.25 333.88,408.27 334.55,408.28 335.22,408.29 335.89,408.31 336.56,408.32 337.22,408.34 337.89,408.36 338.56,408.37 339.23,408.39 339.90,408.41 340.57,408.43 341.24,408.45 341.91,408.48 342.58,408.50 343.25,408.53 343.92,408.55 344.59,408.58 345.26,408.62 345.93,408.65 346.60,408.68 347.26,408.72 347.93,408.76 348.60,408.80 349.27,408.83 349.94,408.88 350.61,408.92 351.28,408.96 351.95,409.00" fill="none" stroke="#333333" stroke-width="2.3" stroke-opacity="0.9" stroke-linejoin="round" clip-path="url(#c1256)"/>
<polyline points="209.87,401.90 210.58,401.50 211.30,401.11 212.01,400.72 212.73,400.34 213.44,399.97 214.15,399.60 214.87,399.23 215.58,398.87 216.30,398.51 217.01,398.15 217.72,397.79 218.44,397.43 219.15,397.08 219.87,396.72 220.58,396.37 221.29,396.03 222.01,395.68 222.72,395.34 223.44,395.01 224.15,394.67 224.86,394.35 225.58,394.03 226.29,393.71 227.01,393.40 227.72,393.10 228.43,392.80 229.15,392.50 229.86,392.21 230.58,391.93 231.29,391.65 232.00,391.37 232.72,391.10 233.43,390.84 234.14,390.57 234.86,390.32 235.57,390.07 236.29,389.82 237.00,389.58 237.71,389.34 238.43,389.11 239.14,388.88 239.86,388.66 240.57,388.45 241.28,388.24 242.00,388.04 242.71,387.84 243.43,387.65 244.14,387.46 244.85,387.28 245.57,387.10 246.28,386.93 247.00,386.75 247.71,386.57 248.42,386.38 249.14,386.20 249.85,386.02 250.57,385.83 251.28,385.65 251.99,385.47 252.71,385.29 253.42,385.11 254.14,384.94 254.85,384.77 255.56,384.60 256.28,384.44 256.99,384.28 257.71,384.14 258.42,383.99 259.13,383.86 259.85,383.73 260.56,383.62 261.28,383.51 261.99,383.41 262.70,383.32 263.42,383.25 264.13,383.19 264.85,383.16 265.56,383.16 266.27,383.17 266.99,383.20 267.70,383.24 268.42,383.31 269.13,383.38 269.84,383.47 270.56,383.57 271.27,383.67 271.99,383.78 272.70,383.90 273.41,384.02 274.13,384.15 274.84,384.27 275.56,384.39 276.27,384.51 276.98,384.62 277.70,384.73 278.41,384.83 279.13,384.92 279.84,385.00 280.55,385.06 281.27,385.11 281.98,385.16 282.69,385.20 283.41,385.23 284.12,385.26 284.84,385.29 285.55,385.31 286.26,385.33 286.98,385.35 287.69,385.37 288.41,385.39 289.12,385.41 289.83,385.43 290.55,385.45 291.26,385.48 291.98,385.51 292.69,385.54 293.40,385.58 294.12,385.63 294.83,385.68 295.55,385.74 296.26,385.81 296.97,385.89 297.69,385.97 298.40,386.07 299.12,386.17 299.83,386.28 300.54,386.38 301.26,386.47 301.97,386.57 302.69,386.67 303.40,386.77 304.11,386.87 304.83,386.97 305.54,387.08 306.26,387.19 306.97,387.31 307.68,387.43 308.40,387.56 309.11,387.70 309.83,387.84 310.54,388.00 311.25,388.17 311.97,388.35 312.68,388.54 313.40,388.75 314.11,388.97 314.82,389.20 315.54,389.45 316.25,389.72 316.97,390.00 317.68,390.29 318.39,390.59 319.11,390.89 319.82,391.20 320.54,391.52 321.25,391.84 321.96,392.17 322.68,392.51 323.39,392.86 324.11,393.22 324.82,393.58 325.53,393.95 326.25,394.33 326.96,394.71 327.68,395.11 328.39,395.51 329.10,395.92 329.82,396.34 330.53,396.76 331.24,397.20 331.96,397.64 332.67,398.10 333.39,398.56 334.10,399.03 334.81,399.51 335.53,400.00 336.24,400.50 336.96,401.00 337.67,401.51 338.38,402.03 339.10,402.56 339.81,403.10 340.53,403.65 341.24,404.20 341.95,404.76 342.67,405.33 343.38,405.91 344.10,406.50 344.81,407.10 345.52,407.70 346.24,408.31 346.95,408.93 347.67,409.56 348.38,410.19 349.09,410.83 349.81,411.49 350.52,412.14 351.24,412.81 351.95,413.49" fill="none" stroke="#d49a28" stroke-width="2.3" stroke-opacity="0.9" stroke-linejoin="round" clip-path="url(#c1256)"/>
<path d="M202.60 431.80V256.60H359.10V431.80" fill="none" stroke="#aaa" stroke-width="0.9"/>
<line x1="202.15" y1="431.80" x2="359.55" y2="431.80" stroke="#777" stroke-width="0.9"/>
<line x1="218.75" y1="431.80" x2="218.75" y2="435.80" stroke="#888" stroke-width="0.9"/>
<text x="218.75" y="445.30" text-anchor="middle" font-size="9.4" fill="#2a2a2a">1990</text>
<line x1="263.15" y1="431.80" x2="263.15" y2="435.80" stroke="#888" stroke-width="0.9"/>
<text x="263.15" y="445.30" text-anchor="middle" font-size="9.4" fill="#2a2a2a">2000</text>
<line x1="307.55" y1="431.80" x2="307.55" y2="435.80" stroke="#888" stroke-width="0.9"/>
<text x="307.55" y="445.30" text-anchor="middle" font-size="9.4" fill="#2a2a2a">2010</text>
<line x1="351.95" y1="431.80" x2="351.95" y2="435.80" stroke="#888" stroke-width="0.9"/>
<text x="351.95" y="445.30" text-anchor="middle" font-size="9.4" fill="#2a2a2a">2020</text>
<text x="445.45" y="249.30" text-anchor="middle" font-size="8.9" fill="#2a2a2a">Firms and trade associations</text>
<polygon points="383.35,409.30 385.04,409.30 386.72,409.30 388.41,409.30 390.09,409.30 391.78,409.30 393.47,409.30 395.15,409.30 396.84,409.30 398.52,409.30 400.21,409.30 401.90,409.30 403.58,409.30 405.27,409.30 406.96,409.30 408.64,409.30 410.33,409.30 412.01,409.30 413.70,409.30 415.39,409.30 417.07,409.30 418.76,409.30 420.44,409.30 422.13,409.30 423.82,409.30 425.50,409.30 427.19,409.30 428.87,409.30 430.56,409.30 432.25,409.30 433.93,409.30 435.62,409.30 437.30,409.30 438.99,409.30 440.68,409.30 442.36,409.30 444.05,409.30 445.73,409.30 447.42,409.30 449.11,409.30 450.79,409.30 452.48,409.30 454.17,409.30 455.85,409.30 457.54,409.30 459.22,409.30 460.91,409.30 462.60,409.30 464.28,409.30 465.97,409.30 467.65,409.30 469.34,409.30 471.03,409.30 472.71,409.30 474.40,409.30 476.08,409.30 477.77,409.30 479.46,409.30 481.14,409.30 482.83,409.30 484.51,409.30 486.20,409.30 487.89,409.30 489.57,409.30 491.26,409.30 492.94,409.30 494.63,409.30 496.32,409.30 498.00,409.30 499.69,409.30 501.38,409.30 503.06,409.30 504.75,409.30 506.43,409.30 508.12,409.30 509.81,409.30 511.49,409.30 513.18,409.30 514.86,409.30 516.55,409.30 516.55,409.30 514.86,409.30 513.18,409.30 511.49,409.30 509.81,409.30 508.12,409.30 506.43,409.30 504.75,409.30 503.06,409.30 501.38,409.30 499.69,409.30 498.00,409.30 496.32,409.30 494.63,409.30 492.94,409.30 491.26,409.30 489.57,409.30 487.89,409.30 486.20,409.30 484.51,409.30 482.83,409.30 481.14,409.30 479.46,409.30 477.77,409.30 476.08,409.30 474.40,409.30 472.71,409.30 471.03,409.30 469.34,409.30 467.65,409.30 465.97,409.30 464.28,409.30 462.60,409.30 460.91,409.30 459.22,409.30 457.54,409.30 455.85,409.30 454.17,409.30 452.48,409.30 450.79,409.30 449.11,409.30 447.42,409.30 445.73,409.30 444.05,409.30 442.36,409.30 440.68,409.30 438.99,409.30 437.30,409.30 435.62,409.30 433.93,409.30 432.25,409.30 430.56,409.30 428.87,409.30 427.19,409.30 425.50,409.30 423.82,409.30 422.13,409.30 420.44,409.30 418.76,409.30 417.07,409.30 415.39,409.30 413.70,409.30 412.01,409.30 410.33,409.30 408.64,409.30 406.96,409.30 405.27,409.30 403.58,409.30 401.90,409.30 400.21,409.30 398.52,409.30 396.84,409.30 395.15,409.30 393.47,409.30 391.78,409.30 390.09,409.30 388.41,409.30 386.72,409.30 385.04,409.30 383.35,409.30" fill="#999" fill-opacity="0.25" clip-path="url(#c2256)"/>
<polygon points="374.47,409.30 376.27,409.30 378.07,409.30 379.87,409.30 381.66,409.30 383.46,409.30 385.26,409.30 387.06,409.30 388.86,409.30 390.66,409.30 392.45,409.30 394.25,409.30 396.05,409.30 397.85,409.30 399.65,409.30 401.45,409.30 403.25,409.30 405.04,409.30 406.84,409.30 408.64,409.30 410.44,409.30 412.24,409.30 414.04,409.30 415.84,409.30 417.63,409.30 419.43,409.30 421.23,409.30 423.03,409.30 424.83,409.30 426.63,409.30 428.42,409.30 430.22,409.30 432.02,409.30 433.82,409.30 435.62,409.30 437.42,409.30 439.22,409.30 441.01,409.30 442.81,409.30 444.61,409.30 446.41,409.30 448.21,409.30 450.01,409.30 451.80,409.30 453.60,409.30 455.40,409.30 457.20,409.30 459.00,409.30 460.80,409.30 462.60,409.30 464.39,409.30 466.19,409.30 467.99,409.30 469.79,409.30 471.59,409.30 473.39,409.30 475.18,409.30 476.98,409.30 478.78,409.30 480.58,409.30 482.38,409.30 484.18,409.30 485.98,409.30 487.77,409.30 489.57,409.30 491.37,409.30 493.17,409.30 494.97,409.30 496.77,409.30 498.57,409.30 500.36,409.30 502.16,409.30 503.96,409.30 505.76,409.30 507.56,409.30 509.36,409.30 511.15,409.30 512.95,409.30 514.75,409.30 516.55,409.30 516.55,409.30 514.75,409.30 512.95,409.30 511.15,409.30 509.36,409.30 507.56,409.30 505.76,409.30 503.96,409.30 502.16,409.30 500.36,409.30 498.57,409.30 496.77,409.30 494.97,409.30 493.17,409.30 491.37,409.30 489.57,409.30 487.77,409.30 485.98,409.30 484.18,409.30 482.38,409.30 480.58,409.30 478.78,409.30 476.98,409.30 475.18,409.30 473.39,409.30 471.59,409.30 469.79,409.30 467.99,409.30 466.19,409.30 464.39,409.30 462.60,409.30 460.80,409.30 459.00,409.30 457.20,409.30 455.40,409.30 453.60,409.30 451.80,409.30 450.01,409.30 448.21,409.30 446.41,409.30 444.61,409.30 442.81,409.30 441.01,409.30 439.22,409.30 437.42,409.30 435.62,409.30 433.82,409.30 432.02,409.30 430.22,409.30 428.42,409.30 426.63,409.30 424.83,409.30 423.03,409.30 421.23,409.30 419.43,409.30 417.63,409.30 415.84,409.30 414.04,409.30 412.24,409.30 410.44,409.30 408.64,409.30 406.84,409.30 405.04,409.30 403.25,409.30 401.45,409.30 399.65,409.30 397.85,409.30 396.05,409.30 394.25,409.30 392.45,409.30 390.66,409.30 388.86,409.30 387.06,409.30 385.26,409.30 383.46,409.30 381.66,409.30 379.87,409.30 378.07,409.30 376.27,409.30 374.47,409.30" fill="#999" fill-opacity="0.25" clip-path="url(#c2256)"/>
<rect x="371.92" y="406.75" width="5.10" height="5.10" fill="#f0aa10" fill-opacity="0.65"/>
<rect x="376.36" y="406.75" width="5.10" height="5.10" fill="#f0aa10" fill-opacity="0.65"/>
<rect x="380.80" y="406.75" width="5.10" height="5.10" fill="#f0aa10" fill-opacity="0.65"/>
<rect x="385.24" y="406.75" width="5.10" height="5.10" fill="#f0aa10" fill-opacity="0.65"/>
<rect x="389.68" y="406.75" width="5.10" height="5.10" fill="#f0aa10" fill-opacity="0.65"/>
<rect x="394.12" y="406.75" width="5.10" height="5.10" fill="#f0aa10" fill-opacity="0.65"/>
<rect x="398.56" y="406.75" width="5.10" height="5.10" fill="#f0aa10" fill-opacity="0.65"/>
<rect x="403.00" y="406.75" width="5.10" height="5.10" fill="#f0aa10" fill-opacity="0.65"/>
<rect x="407.44" y="406.75" width="5.10" height="5.10" fill="#f0aa10" fill-opacity="0.65"/>
<rect x="411.88" y="406.75" width="5.10" height="5.10" fill="#f0aa10" fill-opacity="0.65"/>
<rect x="416.32" y="406.75" width="5.10" height="5.10" fill="#f0aa10" fill-opacity="0.65"/>
<rect x="420.76" y="406.75" width="5.10" height="5.10" fill="#f0aa10" fill-opacity="0.65"/>
<rect x="425.20" y="406.75" width="5.10" height="5.10" fill="#f0aa10" fill-opacity="0.65"/>
<rect x="429.64" y="406.75" width="5.10" height="5.10" fill="#f0aa10" fill-opacity="0.65"/>
<rect x="434.08" y="406.75" width="5.10" height="5.10" fill="#f0aa10" fill-opacity="0.65"/>
<rect x="438.52" y="406.75" width="5.10" height="5.10" fill="#f0aa10" fill-opacity="0.65"/>
<rect x="442.96" y="406.75" width="5.10" height="5.10" fill="#f0aa10" fill-opacity="0.65"/>
<rect x="447.40" y="406.75" width="5.10" height="5.10" fill="#f0aa10" fill-opacity="0.65"/>
<rect x="451.84" y="406.75" width="5.10" height="5.10" fill="#f0aa10" fill-opacity="0.65"/>
<rect x="456.28" y="406.75" width="5.10" height="5.10" fill="#f0aa10" fill-opacity="0.65"/>
<rect x="460.72" y="406.75" width="5.10" height="5.10" fill="#f0aa10" fill-opacity="0.65"/>
<rect x="465.16" y="406.75" width="5.10" height="5.10" fill="#f0aa10" fill-opacity="0.65"/>
<rect x="469.60" y="406.75" width="5.10" height="5.10" fill="#f0aa10" fill-opacity="0.65"/>
<rect x="474.04" y="406.75" width="5.10" height="5.10" fill="#f0aa10" fill-opacity="0.65"/>
<rect x="478.48" y="406.75" width="5.10" height="5.10" fill="#f0aa10" fill-opacity="0.65"/>
<rect x="482.92" y="406.75" width="5.10" height="5.10" fill="#f0aa10" fill-opacity="0.65"/>
<rect x="487.36" y="406.75" width="5.10" height="5.10" fill="#f0aa10" fill-opacity="0.65"/>
<rect x="491.80" y="406.75" width="5.10" height="5.10" fill="#f0aa10" fill-opacity="0.65"/>
<rect x="496.24" y="406.75" width="5.10" height="5.10" fill="#f0aa10" fill-opacity="0.65"/>
<rect x="500.68" y="406.75" width="5.10" height="5.10" fill="#f0aa10" fill-opacity="0.65"/>
<rect x="505.12" y="406.75" width="5.10" height="5.10" fill="#f0aa10" fill-opacity="0.65"/>
<rect x="509.56" y="406.75" width="5.10" height="5.10" fill="#f0aa10" fill-opacity="0.65"/>
<rect x="514.00" y="406.75" width="5.10" height="5.10" fill="#f0aa10" fill-opacity="0.65"/>
<polygon points="383.35,409.30 385.04,409.30 386.72,409.30 388.41,409.30 390.09,409.30 391.78,409.30 393.47,409.30 395.15,409.30 396.84,409.30 398.52,409.30 400.21,409.30 401.90,409.30 403.58,409.30 405.27,409.30 406.96,409.30 408.64,409.30 410.33,409.30 412.01,409.30 413.70,409.30 415.39,409.30 417.07,409.30 418.76,409.30 420.44,409.30 422.13,409.30 423.82,409.30 425.50,409.30 427.19,409.30 428.87,409.30 430.56,409.30 432.25,409.30 433.93,409.30 435.62,409.30 437.30,409.30 438.99,409.30 440.68,409.30 442.36,409.30 444.05,409.30 445.73,409.30 447.42,409.30 449.11,409.30 450.79,409.30 452.48,409.30 454.17,409.30 455.85,409.30 457.54,409.30 459.22,409.30 460.91,409.30 462.60,409.30 464.28,409.30 465.97,409.30 467.65,409.30 469.34,409.30 471.03,409.30 472.71,409.30 474.40,409.30 476.08,409.30 477.77,409.30 479.46,409.30 481.14,409.30 482.83,409.30 484.51,409.30 486.20,409.30 487.89,409.30 489.57,409.30 491.26,409.30 492.94,409.30 494.63,409.30 496.32,409.30 498.00,409.30 499.69,409.30 501.38,409.30 503.06,409.30 504.75,409.30 506.43,409.30 508.12,409.30 509.81,409.30 511.49,409.30 513.18,409.30 514.86,409.30 516.55,409.30 516.55,409.30 514.86,409.30 513.18,409.30 511.49,409.30 509.81,409.30 508.12,409.30 506.43,409.30 504.75,409.30 503.06,409.30 501.38,409.30 499.69,409.30 498.00,409.30 496.32,409.30 494.63,409.30 492.94,409.30 491.26,409.30 489.57,409.30 487.89,409.30 486.20,409.30 484.51,409.30 482.83,409.30 481.14,409.30 479.46,409.30 477.77,409.30 476.08,409.30 474.40,409.30 472.71,409.30 471.03,409.30 469.34,409.30 467.65,409.30 465.97,409.30 464.28,409.30 462.60,409.30 460.91,409.30 459.22,409.30 457.54,409.30 455.85,409.30 454.17,409.30 452.48,409.30 450.79,409.30 449.11,409.30 447.42,409.30 445.73,409.30 444.05,409.30 442.36,409.30 440.68,409.30 438.99,409.30 437.30,409.30 435.62,409.30 433.93,409.30 432.25,409.30 430.56,409.30 428.87,409.30 427.19,409.30 425.50,409.30 423.82,409.30 422.13,409.30 420.44,409.30 418.76,409.30 417.07,409.30 415.39,409.30 413.70,409.30 412.01,409.30 410.33,409.30 408.64,409.30 406.96,409.30 405.27,409.30 403.58,409.30 401.90,409.30 400.21,409.30 398.52,409.30 396.84,409.30 395.15,409.30 393.47,409.30 391.78,409.30 390.09,409.30 388.41,409.30 386.72,409.30 385.04,409.30 383.35,409.30" fill="#999" fill-opacity="0.2" clip-path="url(#c2256)"/>
<polygon points="374.47,409.30 376.27,409.30 378.07,409.30 379.87,409.30 381.66,409.30 383.46,409.30 385.26,409.30 387.06,409.30 388.86,409.30 390.66,409.30 392.45,409.30 394.25,409.30 396.05,409.30 397.85,409.30 399.65,409.30 401.45,409.30 403.25,409.30 405.04,409.30 406.84,409.30 408.64,409.30 410.44,409.30 412.24,409.30 414.04,409.30 415.84,409.30 417.63,409.30 419.43,409.30 421.23,409.30 423.03,409.30 424.83,409.30 426.63,409.30 428.42,409.30 430.22,409.30 432.02,409.30 433.82,409.30 435.62,409.30 437.42,409.30 439.22,409.30 441.01,409.30 442.81,409.30 444.61,409.30 446.41,409.30 448.21,409.30 450.01,409.30 451.80,409.30 453.60,409.30 455.40,409.30 457.20,409.30 459.00,409.30 460.80,409.30 462.60,409.30 464.39,409.30 466.19,409.30 467.99,409.30 469.79,409.30 471.59,409.30 473.39,409.30 475.18,409.30 476.98,409.30 478.78,409.30 480.58,409.30 482.38,409.30 484.18,409.30 485.98,409.30 487.77,409.30 489.57,409.30 491.37,409.30 493.17,409.30 494.97,409.30 496.77,409.30 498.57,409.30 500.36,409.30 502.16,409.30 503.96,409.30 505.76,409.30 507.56,409.30 509.36,409.30 511.15,409.30 512.95,409.30 514.75,409.30 516.55,409.30 516.55,409.30 514.75,409.30 512.95,409.30 511.15,409.30 509.36,409.30 507.56,409.30 505.76,409.30 503.96,409.30 502.16,409.30 500.36,409.30 498.57,409.30 496.77,409.30 494.97,409.30 493.17,409.30 491.37,409.30 489.57,409.30 487.77,409.30 485.98,409.30 484.18,409.30 482.38,409.30 480.58,409.30 478.78,409.30 476.98,409.30 475.18,409.30 473.39,409.30 471.59,409.30 469.79,409.30 467.99,409.30 466.19,409.30 464.39,409.30 462.60,409.30 460.80,409.30 459.00,409.30 457.20,409.30 455.40,409.30 453.60,409.30 451.80,409.30 450.01,409.30 448.21,409.30 446.41,409.30 444.61,409.30 442.81,409.30 441.01,409.30 439.22,409.30 437.42,409.30 435.62,409.30 433.82,409.30 432.02,409.30 430.22,409.30 428.42,409.30 426.63,409.30 424.83,409.30 423.03,409.30 421.23,409.30 419.43,409.30 417.63,409.30 415.84,409.30 414.04,409.30 412.24,409.30 410.44,409.30 408.64,409.30 406.84,409.30 405.04,409.30 403.25,409.30 401.45,409.30 399.65,409.30 397.85,409.30 396.05,409.30 394.25,409.30 392.45,409.30 390.66,409.30 388.86,409.30 387.06,409.30 385.26,409.30 383.46,409.30 381.66,409.30 379.87,409.30 378.07,409.30 376.27,409.30 374.47,409.30" fill="#999" fill-opacity="0.2" clip-path="url(#c2256)"/>
<rect x="371.92" y="406.75" width="5.10" height="5.10" fill="none" stroke="#404040" stroke-width="1.0"/>
<rect x="376.36" y="406.75" width="5.10" height="5.10" fill="none" stroke="#404040" stroke-width="1.0"/>
<rect x="380.80" y="406.75" width="5.10" height="5.10" fill="none" stroke="#404040" stroke-width="1.0"/>
<rect x="385.24" y="406.75" width="5.10" height="5.10" fill="none" stroke="#404040" stroke-width="1.0"/>
<rect x="389.68" y="406.75" width="5.10" height="5.10" fill="none" stroke="#404040" stroke-width="1.0"/>
<rect x="394.12" y="406.75" width="5.10" height="5.10" fill="none" stroke="#404040" stroke-width="1.0"/>
<rect x="398.56" y="406.75" width="5.10" height="5.10" fill="none" stroke="#404040" stroke-width="1.0"/>
<rect x="403.00" y="406.75" width="5.10" height="5.10" fill="none" stroke="#404040" stroke-width="1.0"/>
<rect x="407.44" y="406.75" width="5.10" height="5.10" fill="none" stroke="#404040" stroke-width="1.0"/>
<rect x="411.88" y="406.75" width="5.10" height="5.10" fill="none" stroke="#404040" stroke-width="1.0"/>
<rect x="416.32" y="406.75" width="5.10" height="5.10" fill="none" stroke="#404040" stroke-width="1.0"/>
<rect x="420.76" y="406.75" width="5.10" height="5.10" fill="none" stroke="#404040" stroke-width="1.0"/>
<rect x="425.20" y="406.75" width="5.10" height="5.10" fill="none" stroke="#404040" stroke-width="1.0"/>
<rect x="429.64" y="406.75" width="5.10" height="5.10" fill="none" stroke="#404040" stroke-width="1.0"/>
<rect x="434.08" y="406.75" width="5.10" height="5.10" fill="none" stroke="#404040" stroke-width="1.0"/>
<rect x="438.52" y="406.75" width="5.10" height="5.10" fill="none" stroke="#404040" stroke-width="1.0"/>
<rect x="442.96" y="406.75" width="5.10" height="5.10" fill="none" stroke="#404040" stroke-width="1.0"/>
<rect x="447.40" y="406.75" width="5.10" height="5.10" fill="none" stroke="#404040" stroke-width="1.0"/>
<rect x="451.84" y="406.75" width="5.10" height="5.10" fill="none" stroke="#404040" stroke-width="1.0"/>
<rect x="456.28" y="406.75" width="5.10" height="5.10" fill="none" stroke="#404040" stroke-width="1.0"/>
<rect x="460.72" y="406.75" width="5.10" height="5.10" fill="none" stroke="#404040" stroke-width="1.0"/>
<rect x="465.16" y="406.75" width="5.10" height="5.10" fill="none" stroke="#404040" stroke-width="1.0"/>
<rect x="469.60" y="406.75" width="5.10" height="5.10" fill="none" stroke="#404040" stroke-width="1.0"/>
<rect x="474.04" y="406.75" width="5.10" height="5.10" fill="none" stroke="#404040" stroke-width="1.0"/>
<rect x="478.48" y="406.75" width="5.10" height="5.10" fill="none" stroke="#404040" stroke-width="1.0"/>
<rect x="482.92" y="406.75" width="5.10" height="5.10" fill="none" stroke="#404040" stroke-width="1.0"/>
<rect x="487.36" y="406.75" width="5.10" height="5.10" fill="none" stroke="#404040" stroke-width="1.0"/>
<rect x="491.80" y="406.75" width="5.10" height="5.10" fill="none" stroke="#404040" stroke-width="1.0"/>
<rect x="496.24" y="406.75" width="5.10" height="5.10" fill="none" stroke="#404040" stroke-width="1.0"/>
<rect x="500.68" y="406.75" width="5.10" height="5.10" fill="none" stroke="#404040" stroke-width="1.0"/>
<rect x="505.12" y="406.75" width="5.10" height="5.10" fill="none" stroke="#404040" stroke-width="1.0"/>
<rect x="509.56" y="406.75" width="5.10" height="5.10" fill="none" stroke="#404040" stroke-width="1.0"/>
<rect x="514.00" y="406.75" width="5.10" height="5.10" fill="none" stroke="#404040" stroke-width="1.0"/>
<circle cx="383.35" cy="409.30" r="3.05" fill="#101010" fill-opacity="0.65"/><circle cx="383.35" cy="409.30" r="3.05" fill="none" stroke="#404040" stroke-width="1.0"/>
<circle cx="396.67" cy="409.30" r="3.05" fill="#101010" fill-opacity="0.65"/><circle cx="396.67" cy="409.30" r="3.05" fill="none" stroke="#404040" stroke-width="1.0"/>
<circle cx="423.31" cy="409.30" r="3.05" fill="#101010" fill-opacity="0.65"/><circle cx="423.31" cy="409.30" r="3.05" fill="none" stroke="#404040" stroke-width="1.0"/>
<circle cx="427.75" cy="409.30" r="3.05" fill="#101010" fill-opacity="0.65"/><circle cx="427.75" cy="409.30" r="3.05" fill="none" stroke="#404040" stroke-width="1.0"/>
<circle cx="436.63" cy="409.30" r="3.05" fill="#101010" fill-opacity="0.65"/><circle cx="436.63" cy="409.30" r="3.05" fill="none" stroke="#404040" stroke-width="1.0"/>
<circle cx="441.07" cy="409.30" r="3.05" fill="#101010" fill-opacity="0.65"/><circle cx="441.07" cy="409.30" r="3.05" fill="none" stroke="#404040" stroke-width="1.0"/>
<circle cx="445.51" cy="409.30" r="3.05" fill="#101010" fill-opacity="0.65"/><circle cx="445.51" cy="409.30" r="3.05" fill="none" stroke="#404040" stroke-width="1.0"/>
<circle cx="449.95" cy="409.30" r="3.05" fill="#101010" fill-opacity="0.65"/><circle cx="449.95" cy="409.30" r="3.05" fill="none" stroke="#404040" stroke-width="1.0"/>
<circle cx="454.39" cy="409.30" r="3.05" fill="#101010" fill-opacity="0.65"/><circle cx="454.39" cy="409.30" r="3.05" fill="none" stroke="#404040" stroke-width="1.0"/>
<circle cx="458.83" cy="409.30" r="3.05" fill="#101010" fill-opacity="0.65"/><circle cx="458.83" cy="409.30" r="3.05" fill="none" stroke="#404040" stroke-width="1.0"/>
<circle cx="463.27" cy="409.30" r="3.05" fill="#101010" fill-opacity="0.65"/><circle cx="463.27" cy="409.30" r="3.05" fill="none" stroke="#404040" stroke-width="1.0"/>
<circle cx="467.71" cy="409.30" r="3.05" fill="#101010" fill-opacity="0.65"/><circle cx="467.71" cy="409.30" r="3.05" fill="none" stroke="#404040" stroke-width="1.0"/>
<circle cx="472.15" cy="409.30" r="3.05" fill="#101010" fill-opacity="0.65"/><circle cx="472.15" cy="409.30" r="3.05" fill="none" stroke="#404040" stroke-width="1.0"/>
<circle cx="476.59" cy="409.30" r="3.05" fill="#101010" fill-opacity="0.65"/><circle cx="476.59" cy="409.30" r="3.05" fill="none" stroke="#404040" stroke-width="1.0"/>
<circle cx="481.03" cy="409.30" r="3.05" fill="#101010" fill-opacity="0.65"/><circle cx="481.03" cy="409.30" r="3.05" fill="none" stroke="#404040" stroke-width="1.0"/>
<circle cx="485.47" cy="409.30" r="3.05" fill="#101010" fill-opacity="0.65"/><circle cx="485.47" cy="409.30" r="3.05" fill="none" stroke="#404040" stroke-width="1.0"/>
<circle cx="489.91" cy="409.30" r="3.05" fill="#101010" fill-opacity="0.65"/><circle cx="489.91" cy="409.30" r="3.05" fill="none" stroke="#404040" stroke-width="1.0"/>
<circle cx="494.35" cy="409.30" r="3.05" fill="#101010" fill-opacity="0.65"/><circle cx="494.35" cy="409.30" r="3.05" fill="none" stroke="#404040" stroke-width="1.0"/>
<circle cx="498.79" cy="409.30" r="3.05" fill="#101010" fill-opacity="0.65"/><circle cx="498.79" cy="409.30" r="3.05" fill="none" stroke="#404040" stroke-width="1.0"/>
<circle cx="503.23" cy="409.30" r="3.05" fill="#101010" fill-opacity="0.65"/><circle cx="503.23" cy="409.30" r="3.05" fill="none" stroke="#404040" stroke-width="1.0"/>
<circle cx="507.67" cy="409.30" r="3.05" fill="#101010" fill-opacity="0.65"/><circle cx="507.67" cy="409.30" r="3.05" fill="none" stroke="#404040" stroke-width="1.0"/>
<circle cx="512.11" cy="409.30" r="3.05" fill="#101010" fill-opacity="0.65"/><circle cx="512.11" cy="409.30" r="3.05" fill="none" stroke="#404040" stroke-width="1.0"/>
<circle cx="516.55" cy="409.30" r="3.05" fill="#101010" fill-opacity="0.65"/><circle cx="516.55" cy="409.30" r="3.05" fill="none" stroke="#404040" stroke-width="1.0"/>
<polyline points="383.35,409.30 384.02,409.30 384.69,409.30 385.36,409.30 386.03,409.30 386.70,409.30 387.37,409.30 388.04,409.30 388.70,409.30 389.37,409.30 390.04,409.30 390.71,409.30 391.38,409.30 392.05,409.30 392.72,409.30 393.39,409.30 394.06,409.30 394.73,409.30 395.40,409.30 396.07,409.30 396.74,409.30 397.41,409.30 398.08,409.30 398.74,409.30 399.41,409.30 400.08,409.30 400.75,409.30 401.42,409.30 402.09,409.30 402.76,409.30 403.43,409.30 404.10,409.30 404.77,409.30 405.44,409.30 406.11,409.30 406.78,409.30 407.45,409.30 408.12,409.30 408.79,409.30 409.45,409.30 410.12,409.30 410.79,409.30 411.46,409.30 412.13,409.30 412.80,409.30 413.47,409.30 414.14,409.30 414.81,409.30 415.48,409.30 416.15,409.30 416.82,409.30 417.49,409.30 418.16,409.30 418.83,409.30 419.49,409.30 420.16,409.30 420.83,409.30 421.50,409.30 422.17,409.30 422.84,409.30 423.51,409.30 424.18,409.30 424.85,409.30 425.52,409.30 426.19,409.30 426.86,409.30 427.53,409.30 428.20,409.30 428.87,409.30 429.53,409.30 430.20,409.30 430.87,409.30 431.54,409.30 432.21,409.30 432.88,409.30 433.55,409.30 434.22,409.30 434.89,409.30 435.56,409.30 436.23,409.30 436.90,409.30 437.57,409.30 438.24,409.30 438.91,409.30 439.58,409.30 440.24,409.30 440.91,409.30 441.58,409.30 442.25,409.30 442.92,409.30 443.59,409.30 444.26,409.30 444.93,409.30 445.60,409.30 446.27,409.30 446.94,409.30 447.61,409.30 448.28,409.30 448.95,409.30 449.62,409.30 450.28,409.30 450.95,409.30 451.62,409.30 452.29,409.30 452.96,409.30 453.63,409.30 454.30,409.30 454.97,409.30 455.64,409.30 456.31,409.30 456.98,409.30 457.65,409.30 458.32,409.30 458.99,409.30 459.66,409.30 460.32,409.30 460.99,409.30 461.66,409.30 462.33,409.30 463.00,409.30 463.67,409.30 464.34,409.30 465.01,409.30 465.68,409.30 466.35,409.30 467.02,409.30 467.69,409.30 468.36,409.30 469.03,409.30 469.70,409.30 470.37,409.30 471.03,409.30 471.70,409.30 472.37,409.30 473.04,409.30 473.71,409.30 474.38,409.30 475.05,409.30 475.72,409.30 476.39,409.30 477.06,409.30 477.73,409.30 478.40,409.30 479.07,409.30 479.74,409.30 480.41,409.30 481.07,409.30 481.74,409.30 482.41,409.30 483.08,409.30 483.75,409.30 484.42,409.30 485.09,409.30 485.76,409.30 486.43,409.30 487.10,409.30 487.77,409.30 488.44,409.30 489.11,409.30 489.78,409.30 490.45,409.30 491.11,409.30 491.78,409.30 492.45,409.30 493.12,409.30 493.79,409.30 494.46,409.30 495.13,409.30 495.80,409.30 496.47,409.30 497.14,409.30 497.81,409.30 498.48,409.30 499.15,409.30 499.82,409.30 500.49,409.30 501.16,409.30 501.82,409.30 502.49,409.30 503.16,409.30 503.83,409.30 504.50,409.30 505.17,409.30 505.84,409.30 506.51,409.30 507.18,409.30 507.85,409.30 508.52,409.30 509.19,409.30 509.86,409.30 510.53,409.30 511.20,409.30 511.86,409.30 512.53,409.30 513.20,409.30 513.87,409.30 514.54,409.30 515.21,409.30 515.88,409.30 516.55,409.30" fill="none" stroke="#333333" stroke-width="2.3" stroke-opacity="0.9" stroke-linejoin="round" clip-path="url(#c2256)"/>
<polyline points="374.47,409.30 375.18,409.30 375.90,409.30 376.61,409.30 377.33,409.30 378.04,409.30 378.75,409.30 379.47,409.30 380.18,409.30 380.90,409.30 381.61,409.30 382.32,409.30 383.04,409.30 383.75,409.30 384.47,409.30 385.18,409.30 385.89,409.30 386.61,409.30 387.32,409.30 388.04,409.30 388.75,409.30 389.46,409.30 390.18,409.30 390.89,409.30 391.61,409.30 392.32,409.30 393.03,409.30 393.75,409.30 394.46,409.30 395.18,409.30 395.89,409.30 396.60,409.30 397.32,409.30 398.03,409.30 398.74,409.30 399.46,409.30 400.17,409.30 400.89,409.30 401.60,409.30 402.31,409.30 403.03,409.30 403.74,409.30 404.46,409.30 405.17,409.30 405.88,409.30 406.60,409.30 407.31,409.30 408.03,409.30 408.74,409.30 409.45,409.30 410.17,409.30 410.88,409.30 411.60,409.30 412.31,409.30 413.02,409.30 413.74,409.30 414.45,409.30 415.17,409.30 415.88,409.30 416.59,409.30 417.31,409.30 418.02,409.30 418.74,409.30 419.45,409.30 420.16,409.30 420.88,409.30 421.59,409.30 422.31,409.30 423.02,409.30 423.73,409.30 424.45,409.30 425.16,409.30 425.88,409.30 426.59,409.30 427.30,409.30 428.02,409.30 428.73,409.30 429.45,409.30 430.16,409.30 430.87,409.30 431.59,409.30 432.30,409.30 433.02,409.30 433.73,409.30 434.44,409.30 435.16,409.30 435.87,409.30 436.59,409.30 437.30,409.30 438.01,409.30 438.73,409.30 439.44,409.30 440.16,409.30 440.87,409.30 441.58,409.30 442.30,409.30 443.01,409.30 443.73,409.30 444.44,409.30 445.15,409.30 445.87,409.30 446.58,409.30 447.29,409.30 448.01,409.30 448.72,409.30 449.44,409.30 450.15,409.30 450.86,409.30 451.58,409.30 452.29,409.30 453.01,409.30 453.72,409.30 454.43,409.30 455.15,409.30 455.86,409.30 456.58,409.30 457.29,409.30 458.00,409.30 458.72,409.30 459.43,409.30 460.15,409.30 460.86,409.30 461.57,409.30 462.29,409.30 463.00,409.30 463.72,409.30 464.43,409.30 465.14,409.30 465.86,409.30 466.57,409.30 467.29,409.30 468.00,409.30 468.71,409.30 469.43,409.30 470.14,409.30 470.86,409.30 471.57,409.30 472.28,409.30 473.00,409.30 473.71,409.30 474.43,409.30 475.14,409.30 475.85,409.30 476.57,409.30 477.28,409.30 478.00,409.30 478.71,409.30 479.42,409.30 480.14,409.30 480.85,409.30 481.57,409.30 482.28,409.30 482.99,409.30 483.71,409.30 484.42,409.30 485.14,409.30 485.85,409.30 486.56,409.30 487.28,409.30 487.99,409.30 488.71,409.30 489.42,409.30 490.13,409.30 490.85,409.30 491.56,409.30 492.28,409.30 492.99,409.30 493.70,409.30 494.42,409.30 495.13,409.30 495.84,409.30 496.56,409.30 497.27,409.30 497.99,409.30 498.70,409.30 499.41,409.30 500.13,409.30 500.84,409.30 501.56,409.30 502.27,409.30 502.98,409.30 503.70,409.30 504.41,409.30 505.13,409.30 505.84,409.30 506.55,409.30 507.27,409.30 507.98,409.30 508.70,409.30 509.41,409.30 510.12,409.30 510.84,409.30 511.55,409.30 512.27,409.30 512.98,409.30 513.69,409.30 514.41,409.30 515.12,409.30 515.84,409.30 516.55,409.30" fill="none" stroke="#d49a28" stroke-width="2.3" stroke-opacity="0.9" stroke-linejoin="round" clip-path="url(#c2256)"/>
<path d="M367.20 431.80V256.60H523.70V431.80" fill="none" stroke="#aaa" stroke-width="0.9"/>
<line x1="366.75" y1="431.80" x2="524.15" y2="431.80" stroke="#777" stroke-width="0.9"/>
<line x1="383.35" y1="431.80" x2="383.35" y2="435.80" stroke="#888" stroke-width="0.9"/>
<text x="383.35" y="445.30" text-anchor="middle" font-size="9.4" fill="#2a2a2a">1990</text>
<line x1="427.75" y1="431.80" x2="427.75" y2="435.80" stroke="#888" stroke-width="0.9"/>
<text x="427.75" y="445.30" text-anchor="middle" font-size="9.4" fill="#2a2a2a">2000</text>
<line x1="472.15" y1="431.80" x2="472.15" y2="435.80" stroke="#888" stroke-width="0.9"/>
<text x="472.15" y="445.30" text-anchor="middle" font-size="9.4" fill="#2a2a2a">2010</text>
<line x1="516.55" y1="431.80" x2="516.55" y2="435.80" stroke="#888" stroke-width="0.9"/>
<text x="516.55" y="445.30" text-anchor="middle" font-size="9.4" fill="#2a2a2a">2020</text>
<text transform="translate(8.0,112.5) rotate(-90)" text-anchor="middle" font-size="8.85" fill="#2a2a2a">Percentage of all decisions</text>
<text transform="translate(8.0,344.4) rotate(-90)" text-anchor="middle" font-size="8.85" fill="#2a2a2a">Percentage of all decisions</text>
<text x="540.9" y="75.80" font-size="8.9" fill="#2a2a2a">Substantive focus</text>
<text x="540.9" y="85.70" font-size="8.9" fill="#2a2a2a">of judicial decisions</text>
<line x1="543.3" y1="101.80" x2="563.6" y2="101.80" stroke="#6b2d87" stroke-width="2"/>
<circle cx="553.45" cy="101.80" r="3.05" fill="#4e0c68" fill-opacity="0.65"/><circle cx="553.45" cy="101.80" r="3.05" fill="none" stroke="#404040" stroke-width="1.0"/>
<line x1="543.3" y1="101.80" x2="563.6" y2="101.80" stroke="#6b2d87" stroke-width="2" stroke-opacity="0.5"/>
<text x="567.5" y="105.00" font-size="8.9" fill="#2a2a2a">Conservation</text>
<line x1="543.3" y1="127.00" x2="563.6" y2="127.00" stroke="#3aa09a" stroke-width="2"/>
<rect x="550.90" y="124.45" width="5.10" height="5.10" fill="#21908c" fill-opacity="0.65"/><rect x="550.90" y="124.45" width="5.10" height="5.10" fill="none" stroke="#404040" stroke-width="1.0"/>
<line x1="543.3" y1="127.00" x2="563.6" y2="127.00" stroke="#3aa09a" stroke-width="2" stroke-opacity="0.5"/>
<text x="567.5" y="130.20" font-size="8.9" fill="#2a2a2a">Energy and mineral resources</text>
<line x1="543.3" y1="151.80" x2="563.6" y2="151.80" stroke="#f2e24a" stroke-width="2"/>
<path d="M553.45 148.20L557.05 151.80L553.45 155.40L549.85 151.80Z" fill="#fae228" fill-opacity="0.65"/><path d="M553.45 148.20L557.05 151.80L553.45 155.40L549.85 151.80Z" fill="none" stroke="#404040" stroke-width="1.0"/>
<line x1="543.3" y1="151.80" x2="563.6" y2="151.80" stroke="#f2e24a" stroke-width="2" stroke-opacity="0.5"/>
<text x="567.5" y="155.00" font-size="8.9" fill="#2a2a2a">Waste and pollution</text>
<text x="540.9" y="318.60" font-size="8.9" fill="#2a2a2a">Substantive focus</text>
<text x="540.9" y="328.50" font-size="8.9" fill="#2a2a2a">of judicial decisions</text>
<line x1="543.3" y1="345.70" x2="563.6" y2="345.70" stroke="#333333" stroke-width="2"/>
<circle cx="553.45" cy="345.70" r="3.05" fill="#101010" fill-opacity="0.65"/><circle cx="553.45" cy="345.70" r="3.05" fill="none" stroke="#404040" stroke-width="1.0"/>
<line x1="543.3" y1="345.70" x2="563.6" y2="345.70" stroke="#333333" stroke-width="2" stroke-opacity="0.5"/>
<text x="567.5" y="348.90" font-size="8.9" fill="#2a2a2a">Climate</text>
<line x1="543.3" y1="371.10" x2="563.6" y2="371.10" stroke="#f0b030" stroke-width="2"/>
<rect x="550.90" y="368.55" width="5.10" height="5.10" fill="#f0aa10" fill-opacity="0.65"/><rect x="550.90" y="368.55" width="5.10" height="5.10" fill="none" stroke="#404040" stroke-width="1.0"/>
<line x1="543.3" y1="371.10" x2="563.6" y2="371.10" stroke="#f0b030" stroke-width="2" stroke-opacity="0.5"/>
<text x="567.5" y="374.30" font-size="8.9" fill="#2a2a2a">Environmental justice</text>
</svg></body></html>
